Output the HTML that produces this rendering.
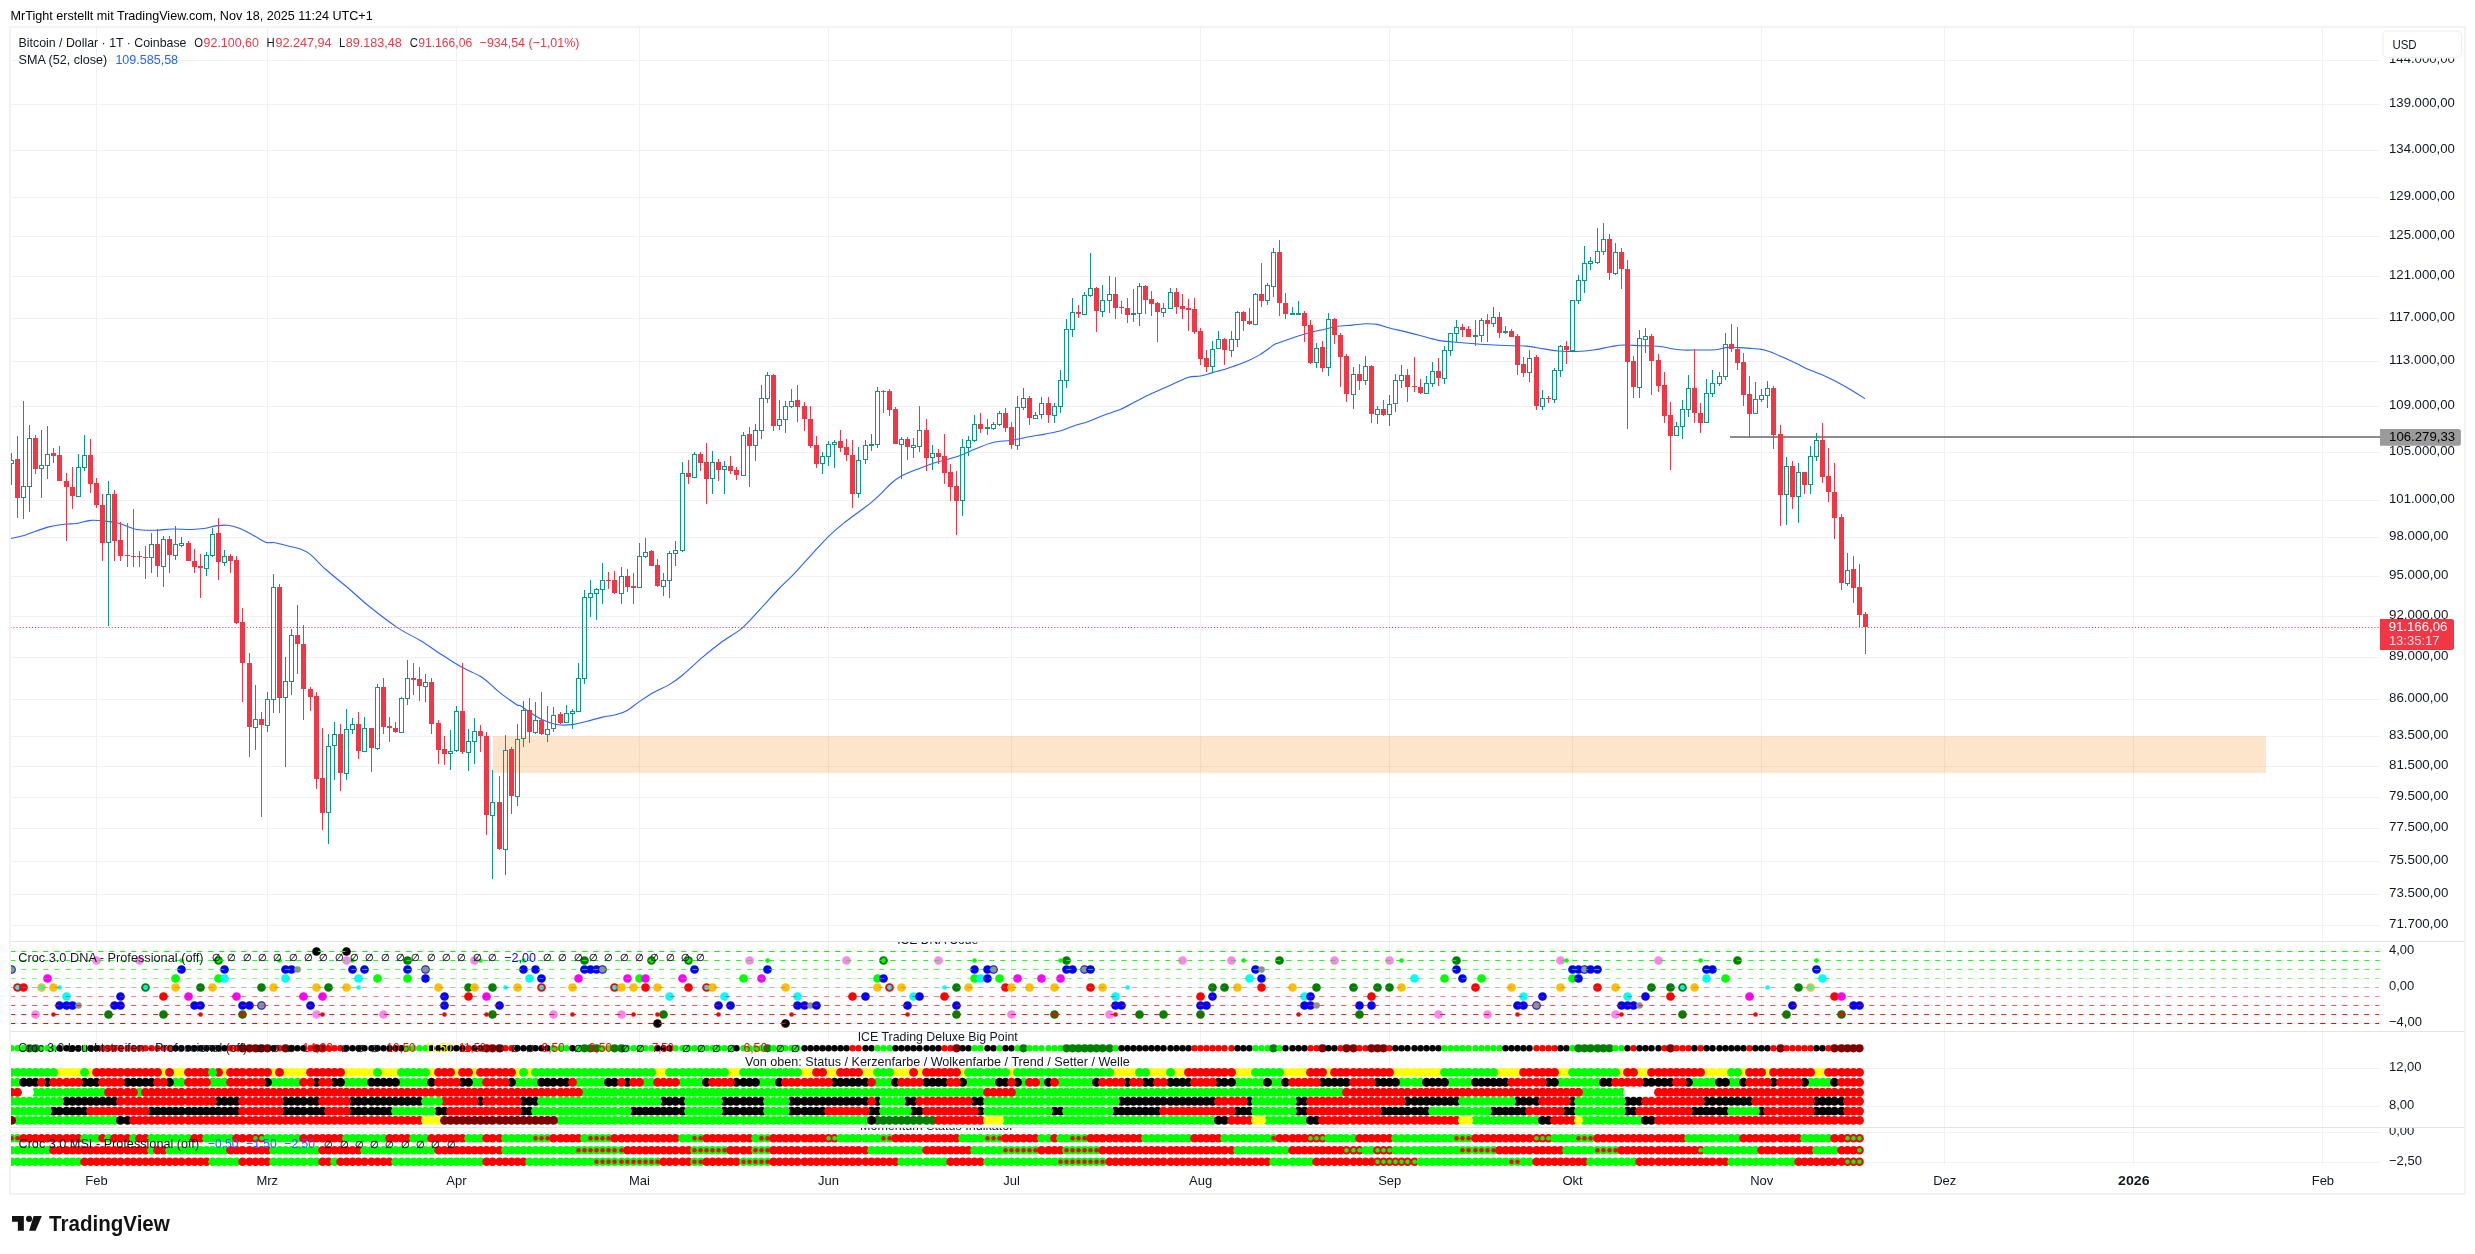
<!DOCTYPE html>
<html><head><meta charset="utf-8"><title>BTCUSD chart</title><style>html,body{margin:0;padding:0;background:#fff}svg{display:block;will-change:transform}</style></head><body>
<svg width="2475" height="1254" viewBox="0 0 2475 1254" font-family='"Liberation Sans", sans-serif' shape-rendering="auto">
<rect width="2475" height="1254" fill="#fff"/>
<defs><clipPath id="cp"><rect x="10.5" y="27.5" width="2368.5" height="1140"/></clipPath>
<clipPath id="p1"><rect x="10.5" y="27.5" width="2454" height="914"/></clipPath>
<clipPath id="p2"><rect x="10.5" y="942" width="2454" height="89"/></clipPath>
<clipPath id="p3"><rect x="10.5" y="1032" width="2454" height="95"/></clipPath>
<clipPath id="p4"><rect x="10.5" y="1128" width="2454" height="38"/></clipPath>
</defs>
<g stroke="#f0f1f3" stroke-width="1" fill="none">
<line x1="96.5" y1="27.5" x2="96.5" y2="1165.5"/>
<line x1="267.5" y1="27.5" x2="267.5" y2="1165.5"/>
<line x1="456.5" y1="27.5" x2="456.5" y2="1165.5"/>
<line x1="639.5" y1="27.5" x2="639.5" y2="1165.5"/>
<line x1="828.5" y1="27.5" x2="828.5" y2="1165.5"/>
<line x1="1011.5" y1="27.5" x2="1011.5" y2="1165.5"/>
<line x1="1200.5" y1="27.5" x2="1200.5" y2="1165.5"/>
<line x1="1389.5" y1="27.5" x2="1389.5" y2="1165.5"/>
<line x1="1572.5" y1="27.5" x2="1572.5" y2="1165.5"/>
<line x1="1761.5" y1="27.5" x2="1761.5" y2="1165.5"/>
<line x1="1944.5" y1="27.5" x2="1944.5" y2="1165.5"/>
<line x1="2133.5" y1="27.5" x2="2133.5" y2="1165.5"/>
<line x1="2322.5" y1="27.5" x2="2322.5" y2="1165.5"/>
<line x1="10.5" y1="60.5" x2="2379" y2="60.5"/>
<line x1="10.5" y1="104.5" x2="2379" y2="104.5"/>
<line x1="10.5" y1="150.5" x2="2379" y2="150.5"/>
<line x1="10.5" y1="197.5" x2="2379" y2="197.5"/>
<line x1="10.5" y1="236.5" x2="2379" y2="236.5"/>
<line x1="10.5" y1="276.5" x2="2379" y2="276.5"/>
<line x1="10.5" y1="318.5" x2="2379" y2="318.5"/>
<line x1="10.5" y1="361.5" x2="2379" y2="361.5"/>
<line x1="10.5" y1="406.5" x2="2379" y2="406.5"/>
<line x1="10.5" y1="452.5" x2="2379" y2="452.5"/>
<line x1="10.5" y1="500.5" x2="2379" y2="500.5"/>
<line x1="10.5" y1="537.5" x2="2379" y2="537.5"/>
<line x1="10.5" y1="576.5" x2="2379" y2="576.5"/>
<line x1="10.5" y1="616.5" x2="2379" y2="616.5"/>
<line x1="10.5" y1="657.5" x2="2379" y2="657.5"/>
<line x1="10.5" y1="699.5" x2="2379" y2="699.5"/>
<line x1="10.5" y1="736.5" x2="2379" y2="736.5"/>
<line x1="10.5" y1="766.5" x2="2379" y2="766.5"/>
<line x1="10.5" y1="797.5" x2="2379" y2="797.5"/>
<line x1="10.5" y1="828.5" x2="2379" y2="828.5"/>
<line x1="10.5" y1="861.5" x2="2379" y2="861.5"/>
<line x1="10.5" y1="894.5" x2="2379" y2="894.5"/>
<line x1="10.5" y1="925.5" x2="2379" y2="925.5"/>
<line x1="10.5" y1="951.5" x2="2379" y2="951.5"/>
<line x1="10.5" y1="987.5" x2="2379" y2="987.5"/>
<line x1="10.5" y1="1023.5" x2="2379" y2="1023.5"/>
<line x1="10.5" y1="1068.5" x2="2379" y2="1068.5"/>
<line x1="10.5" y1="1106.5" x2="2379" y2="1106.5"/>
<line x1="10.5" y1="1132.5" x2="2379" y2="1132.5"/>
<line x1="10.5" y1="1162.5" x2="2379" y2="1162.5"/>
</g>
<g clip-path="url(#p2)">
<circle cx="11.5" cy="969.5" r="4.35" fill="#0000ff"/><circle cx="11.5" cy="969.5" r="3.3" fill="#909090"/>
<circle cx="17.5" cy="987.5" r="4.35" fill="#ff0000"/>
<circle cx="17.5" cy="987.5" r="2.4" fill="#00ffff"/>
<circle cx="23.5" cy="987.5" r="4.35" fill="#ff0000"/>
<circle cx="35.5" cy="1014.5" r="4.35" fill="#ff85ee"/>
<circle cx="41.5" cy="987.5" r="4.35" fill="#ffbf00"/>
<circle cx="41.5" cy="987.5" r="2.4" fill="#00ffff"/>
<circle cx="47.5" cy="978.5" r="4.35" fill="#ff00ff"/>
<circle cx="53.5" cy="987.5" r="4.35" fill="#ffbf00"/>
<circle cx="59.5" cy="1005.5" r="4.35" fill="#0000ff"/>
<circle cx="66.5" cy="996.5" r="4.35" fill="#00ffff"/>
<circle cx="66.5" cy="1005.5" r="4.35" fill="#0000ff"/>
<circle cx="72.5" cy="1005.5" r="4.35" fill="#0000ff"/>
<circle cx="78.5" cy="1005.5" r="3.3" fill="#909090"/>
<circle cx="96.5" cy="960.5" r="4.35" fill="#ff85ee"/>
<circle cx="108.5" cy="1014.5" r="4.35" fill="#008000"/>
<circle cx="114.5" cy="1005.5" r="4.35" fill="#0000ff"/>
<circle cx="120.5" cy="996.5" r="4.35" fill="#0000ff"/>
<circle cx="120.5" cy="1005.5" r="4.35" fill="#0000ff"/>
<circle cx="139.5" cy="960.5" r="4.35" fill="#ff85ee"/>
<circle cx="145.5" cy="987.5" r="4.35" fill="#008000"/>
<circle cx="145.5" cy="987.5" r="2.4" fill="#00ffff"/>
<circle cx="163.5" cy="996.5" r="4.35" fill="#ff0000"/>
<circle cx="163.5" cy="1014.5" r="4.35" fill="#008000"/>
<circle cx="175.5" cy="978.5" r="4.35" fill="#00ff00"/>
<circle cx="175.5" cy="987.5" r="4.35" fill="#ffbf00"/>
<circle cx="181.5" cy="969.5" r="4.35" fill="#0000ff"/>
<circle cx="188.5" cy="996.5" r="4.35" fill="#ff00ff"/>
<circle cx="194.5" cy="1005.5" r="4.35" fill="#0000ff"/>
<circle cx="200.5" cy="987.5" r="4.35" fill="#008000"/>
<circle cx="200.5" cy="1005.5" r="4.35" fill="#0000ff"/>
<circle cx="212.5" cy="987.5" r="4.35" fill="#ffbf00"/>
<circle cx="218.5" cy="978.5" r="4.35" fill="#00ff00"/>
<circle cx="218.5" cy="960.5" r="4.35" fill="#008000"/>
<circle cx="218.5" cy="960.5" r="2.4" fill="#00ff00"/>
<circle cx="224.5" cy="969.5" r="4.35" fill="#0000ff"/>
<circle cx="224.5" cy="978.5" r="4.35" fill="#00ffff"/>
<circle cx="236.5" cy="996.5" r="4.35" fill="#ff00ff"/>
<circle cx="242.5" cy="1005.5" r="4.35" fill="#0000ff"/>
<circle cx="242.5" cy="1014.5" r="4.35" fill="#008000"/>
<circle cx="242.5" cy="1014.5" r="2.4" fill="#ff0000"/>
<circle cx="249.5" cy="1005.5" r="4.35" fill="#0000ff"/>
<circle cx="261.5" cy="987.5" r="4.35" fill="#008000"/>
<circle cx="261.5" cy="1005.5" r="4.35" fill="#0000ff"/><circle cx="261.5" cy="1005.5" r="3.3" fill="#909090"/>
<circle cx="273.5" cy="987.5" r="4.35" fill="#ffbf00"/>
<circle cx="285.5" cy="969.5" r="4.35" fill="#0000ff"/>
<circle cx="285.5" cy="978.5" r="4.35" fill="#00ffff"/>
<circle cx="291.5" cy="969.5" r="4.35" fill="#0000ff"/>
<circle cx="297.5" cy="969.5" r="3.3" fill="#909090"/>
<circle cx="303.5" cy="996.5" r="4.35" fill="#ff00ff"/>
<circle cx="310.5" cy="1005.5" r="4.35" fill="#0000ff"/>
<circle cx="316.5" cy="951.5" r="4.35" fill="#000000"/>
<circle cx="316.5" cy="987.5" r="4.35" fill="#ffbf00"/>
<circle cx="316.5" cy="1014.5" r="4.35" fill="#ff85ee"/>
<circle cx="322.5" cy="996.5" r="4.35" fill="#ff00ff"/>
<circle cx="328.5" cy="987.5" r="4.35" fill="#008000"/>
<circle cx="346.5" cy="951.5" r="4.35" fill="#000000"/>
<circle cx="346.5" cy="960.5" r="4.35" fill="#ff85ee"/>
<circle cx="346.5" cy="987.5" r="4.35" fill="#ffbf00"/>
<circle cx="352.5" cy="969.5" r="4.35" fill="#0000ff"/>
<circle cx="358.5" cy="978.5" r="4.35" fill="#00ffff"/>
<circle cx="364.5" cy="969.5" r="4.35" fill="#0000ff"/>
<circle cx="377.5" cy="978.5" r="4.35" fill="#00ff00"/>
<circle cx="383.5" cy="1014.5" r="4.35" fill="#ff85ee"/>
<circle cx="407.5" cy="960.5" r="4.35" fill="#008000"/>
<circle cx="407.5" cy="969.5" r="4.35" fill="#0000ff"/>
<circle cx="407.5" cy="978.5" r="4.35" fill="#00ff00"/>
<circle cx="425.5" cy="969.5" r="4.35" fill="#0000ff"/><circle cx="425.5" cy="969.5" r="3.3" fill="#909090"/>
<circle cx="425.5" cy="978.5" r="4.35" fill="#0000ff"/>
<circle cx="438.5" cy="987.5" r="4.35" fill="#ffbf00"/>
<circle cx="444.5" cy="996.5" r="4.35" fill="#0000ff"/>
<circle cx="444.5" cy="1005.5" r="4.35" fill="#0000ff"/>
<circle cx="468.5" cy="987.5" r="4.35" fill="#008000"/>
<circle cx="468.5" cy="996.5" r="4.35" fill="#ff0000"/>
<circle cx="474.5" cy="960.5" r="4.35" fill="#ff85ee"/>
<circle cx="474.5" cy="987.5" r="4.35" fill="#ffbf00"/>
<circle cx="486.5" cy="996.5" r="4.35" fill="#ff00ff"/>
<circle cx="492.5" cy="987.5" r="4.35" fill="#008000"/>
<circle cx="492.5" cy="1014.5" r="4.35" fill="#008000"/>
<circle cx="499.5" cy="1005.5" r="4.35" fill="#0000ff"/>
<circle cx="517.5" cy="987.5" r="4.35" fill="#ffbf00"/>
<circle cx="523.5" cy="969.5" r="4.35" fill="#0000ff"/>
<circle cx="529.5" cy="978.5" r="4.35" fill="#00ffff"/>
<circle cx="535.5" cy="969.5" r="4.35" fill="#0000ff"/>
<circle cx="541.5" cy="978.5" r="4.35" fill="#0000ff"/>
<circle cx="541.5" cy="987.5" r="4.35" fill="#ff0000"/>
<circle cx="541.5" cy="987.5" r="2.4" fill="#00ffff"/>
<circle cx="553.5" cy="1014.5" r="4.35" fill="#ff85ee"/>
<circle cx="572.5" cy="987.5" r="4.35" fill="#ffbf00"/>
<circle cx="578.5" cy="978.5" r="4.35" fill="#ff00ff"/>
<circle cx="584.5" cy="960.5" r="4.35" fill="#008000"/>
<circle cx="584.5" cy="969.5" r="4.35" fill="#0000ff"/>
<circle cx="590.5" cy="969.5" r="4.35" fill="#0000ff"/>
<circle cx="596.5" cy="969.5" r="4.35" fill="#0000ff"/>
<circle cx="602.5" cy="969.5" r="4.35" fill="#0000ff"/><circle cx="602.5" cy="969.5" r="3.3" fill="#909090"/>
<circle cx="614.5" cy="987.5" r="4.35" fill="#ff0000"/>
<circle cx="614.5" cy="987.5" r="2.4" fill="#00ffff"/>
<circle cx="621.5" cy="987.5" r="4.35" fill="#ffbf00"/>
<circle cx="621.5" cy="1014.5" r="4.35" fill="#ff85ee"/>
<circle cx="627.5" cy="978.5" r="4.35" fill="#ff00ff"/>
<circle cx="633.5" cy="987.5" r="4.35" fill="#ffbf00"/>
<circle cx="639.5" cy="978.5" r="4.35" fill="#00ff00"/>
<circle cx="645.5" cy="978.5" r="4.35" fill="#ff00ff"/>
<circle cx="645.5" cy="987.5" r="4.35" fill="#ff0000"/>
<circle cx="651.5" cy="960.5" r="4.35" fill="#008000"/>
<circle cx="651.5" cy="960.5" r="2.4" fill="#00ff00"/>
<circle cx="657.5" cy="987.5" r="4.35" fill="#ffbf00"/>
<circle cx="657.5" cy="1023.5" r="4.35" fill="#000000"/>
<circle cx="663.5" cy="1014.5" r="4.35" fill="#008000"/>
<circle cx="669.5" cy="996.5" r="4.35" fill="#00ffff"/>
<circle cx="682.5" cy="978.5" r="4.35" fill="#ff00ff"/>
<circle cx="688.5" cy="960.5" r="4.35" fill="#008000"/>
<circle cx="688.5" cy="960.5" r="2.4" fill="#00ff00"/>
<circle cx="688.5" cy="987.5" r="4.35" fill="#ff0000"/>
<circle cx="694.5" cy="969.5" r="4.35" fill="#0000ff"/>
<circle cx="706.5" cy="987.5" r="4.35" fill="#ff0000"/>
<circle cx="706.5" cy="987.5" r="2.4" fill="#00ffff"/>
<circle cx="712.5" cy="987.5" r="4.35" fill="#ffbf00"/>
<circle cx="718.5" cy="1005.5" r="4.35" fill="#0000ff"/>
<circle cx="724.5" cy="996.5" r="4.35" fill="#00ffff"/>
<circle cx="730.5" cy="1005.5" r="4.35" fill="#0000ff"/>
<circle cx="743.5" cy="978.5" r="4.35" fill="#00ff00"/>
<circle cx="749.5" cy="960.5" r="4.35" fill="#ff85ee"/>
<circle cx="761.5" cy="978.5" r="4.35" fill="#ff00ff"/>
<circle cx="767.5" cy="969.5" r="4.35" fill="#0000ff"/>
<circle cx="785.5" cy="987.5" r="4.35" fill="#ffbf00"/>
<circle cx="785.5" cy="1023.5" r="4.35" fill="#000000"/>
<circle cx="797.5" cy="996.5" r="4.35" fill="#00ffff"/>
<circle cx="797.5" cy="1005.5" r="4.35" fill="#0000ff"/>
<circle cx="804.5" cy="1005.5" r="4.35" fill="#0000ff"/>
<circle cx="810.5" cy="1005.5" r="3.3" fill="#909090"/>
<circle cx="816.5" cy="1005.5" r="4.35" fill="#0000ff"/>
<circle cx="846.5" cy="960.5" r="4.35" fill="#ff85ee"/>
<circle cx="852.5" cy="996.5" r="4.35" fill="#ff0000"/>
<circle cx="865.5" cy="996.5" r="4.35" fill="#0000ff"/>
<circle cx="877.5" cy="978.5" r="4.35" fill="#00ff00"/>
<circle cx="877.5" cy="987.5" r="4.35" fill="#ffbf00"/>
<circle cx="883.5" cy="960.5" r="4.35" fill="#008000"/>
<circle cx="883.5" cy="960.5" r="2.4" fill="#00ff00"/>
<circle cx="883.5" cy="978.5" r="4.35" fill="#0000ff"/>
<circle cx="889.5" cy="987.5" r="4.35" fill="#ff0000"/>
<circle cx="889.5" cy="987.5" r="2.4" fill="#00ffff"/>
<circle cx="901.5" cy="987.5" r="4.35" fill="#ffbf00"/>
<circle cx="907.5" cy="1005.5" r="4.35" fill="#0000ff"/>
<circle cx="913.5" cy="996.5" r="4.35" fill="#00ffff"/>
<circle cx="919.5" cy="996.5" r="4.35" fill="#0000ff"/>
<circle cx="938.5" cy="960.5" r="4.35" fill="#ff85ee"/>
<circle cx="944.5" cy="996.5" r="4.35" fill="#ff0000"/>
<circle cx="956.5" cy="987.5" r="4.35" fill="#008000"/>
<circle cx="956.5" cy="1005.5" r="4.35" fill="#0000ff"/>
<circle cx="956.5" cy="1014.5" r="4.35" fill="#008000"/>
<circle cx="968.5" cy="987.5" r="4.35" fill="#ffbf00"/>
<circle cx="974.5" cy="969.5" r="4.35" fill="#0000ff"/>
<circle cx="974.5" cy="978.5" r="4.35" fill="#00ff00"/>
<circle cx="980.5" cy="978.5" r="4.35" fill="#00ffff"/>
<circle cx="987.5" cy="969.5" r="4.35" fill="#0000ff"/>
<circle cx="987.5" cy="978.5" r="4.35" fill="#0000ff"/>
<circle cx="993.5" cy="969.5" r="4.35" fill="#0000ff"/><circle cx="993.5" cy="969.5" r="3.3" fill="#909090"/>
<circle cx="999.5" cy="978.5" r="4.35" fill="#00ff00"/>
<circle cx="1005.5" cy="987.5" r="4.35" fill="#ff0000"/>
<circle cx="1011.5" cy="987.5" r="4.35" fill="#ffbf00"/>
<circle cx="1011.5" cy="1014.5" r="4.35" fill="#ff85ee"/>
<circle cx="1017.5" cy="978.5" r="4.35" fill="#ff00ff"/>
<circle cx="1029.5" cy="987.5" r="4.35" fill="#ffbf00"/>
<circle cx="1041.5" cy="978.5" r="4.35" fill="#ff00ff"/>
<circle cx="1054.5" cy="987.5" r="4.35" fill="#ffbf00"/>
<circle cx="1054.5" cy="1014.5" r="4.35" fill="#008000"/>
<circle cx="1054.5" cy="1014.5" r="2.4" fill="#ff0000"/>
<circle cx="1060.5" cy="978.5" r="4.35" fill="#ff00ff"/>
<circle cx="1066.5" cy="960.5" r="4.35" fill="#008000"/>
<circle cx="1066.5" cy="969.5" r="4.35" fill="#0000ff"/>
<circle cx="1072.5" cy="969.5" r="4.35" fill="#0000ff"/>
<circle cx="1084.5" cy="969.5" r="4.35" fill="#0000ff"/><circle cx="1084.5" cy="969.5" r="3.3" fill="#909090"/>
<circle cx="1090.5" cy="969.5" r="4.35" fill="#0000ff"/>
<circle cx="1090.5" cy="987.5" r="4.35" fill="#ff0000"/>
<circle cx="1102.5" cy="987.5" r="4.35" fill="#ffbf00"/>
<circle cx="1109.5" cy="1014.5" r="4.35" fill="#ff85ee"/>
<circle cx="1115.5" cy="996.5" r="4.35" fill="#00ffff"/>
<circle cx="1115.5" cy="1005.5" r="4.35" fill="#0000ff"/>
<circle cx="1121.5" cy="1005.5" r="4.35" fill="#0000ff"/>
<circle cx="1139.5" cy="1014.5" r="4.35" fill="#008000"/>
<circle cx="1163.5" cy="1014.5" r="4.35" fill="#008000"/>
<circle cx="1182.5" cy="960.5" r="4.35" fill="#ff85ee"/>
<circle cx="1200.5" cy="996.5" r="4.35" fill="#ff0000"/>
<circle cx="1200.5" cy="1005.5" r="4.35" fill="#0000ff"/>
<circle cx="1200.5" cy="1014.5" r="4.35" fill="#008000"/>
<circle cx="1206.5" cy="1005.5" r="4.35" fill="#0000ff"/>
<circle cx="1212.5" cy="987.5" r="4.35" fill="#008000"/>
<circle cx="1212.5" cy="996.5" r="4.35" fill="#0000ff"/>
<circle cx="1224.5" cy="987.5" r="4.35" fill="#008000"/>
<circle cx="1231.5" cy="960.5" r="4.35" fill="#ff85ee"/>
<circle cx="1237.5" cy="987.5" r="4.35" fill="#ffbf00"/>
<circle cx="1249.5" cy="978.5" r="4.35" fill="#00ffff"/>
<circle cx="1255.5" cy="969.5" r="4.35" fill="#0000ff"/>
<circle cx="1261.5" cy="969.5" r="3.3" fill="#909090"/>
<circle cx="1261.5" cy="978.5" r="4.35" fill="#0000ff"/>
<circle cx="1261.5" cy="987.5" r="4.35" fill="#ff0000"/>
<circle cx="1279.5" cy="960.5" r="4.35" fill="#008000"/>
<circle cx="1292.5" cy="987.5" r="4.35" fill="#ffbf00"/>
<circle cx="1304.5" cy="996.5" r="4.35" fill="#00ffff"/>
<circle cx="1304.5" cy="1005.5" r="4.35" fill="#0000ff"/>
<circle cx="1310.5" cy="996.5" r="4.35" fill="#0000ff"/>
<circle cx="1310.5" cy="1005.5" r="4.35" fill="#0000ff"/>
<circle cx="1316.5" cy="987.5" r="4.35" fill="#008000"/>
<circle cx="1316.5" cy="1005.5" r="3.3" fill="#909090"/>
<circle cx="1334.5" cy="960.5" r="4.35" fill="#ff85ee"/>
<circle cx="1353.5" cy="987.5" r="4.35" fill="#008000"/>
<circle cx="1359.5" cy="1005.5" r="4.35" fill="#0000ff"/>
<circle cx="1359.5" cy="1014.5" r="4.35" fill="#008000"/>
<circle cx="1371.5" cy="996.5" r="4.35" fill="#ff0000"/>
<circle cx="1371.5" cy="1005.5" r="4.35" fill="#0000ff"/>
<circle cx="1377.5" cy="987.5" r="4.35" fill="#008000"/>
<circle cx="1389.5" cy="960.5" r="4.35" fill="#ff85ee"/>
<circle cx="1389.5" cy="987.5" r="4.35" fill="#008000"/>
<circle cx="1401.5" cy="987.5" r="4.35" fill="#ffbf00"/>
<circle cx="1414.5" cy="978.5" r="4.35" fill="#00ffff"/>
<circle cx="1438.5" cy="1014.5" r="4.35" fill="#ff85ee"/>
<circle cx="1444.5" cy="978.5" r="4.35" fill="#00ff00"/>
<circle cx="1456.5" cy="960.5" r="4.35" fill="#008000"/>
<circle cx="1456.5" cy="969.5" r="4.35" fill="#0000ff"/>
<circle cx="1462.5" cy="978.5" r="4.35" fill="#0000ff"/>
<circle cx="1475.5" cy="987.5" r="4.35" fill="#ff0000"/>
<circle cx="1481.5" cy="978.5" r="4.35" fill="#00ff00"/>
<circle cx="1487.5" cy="1014.5" r="4.35" fill="#ff85ee"/>
<circle cx="1511.5" cy="987.5" r="4.35" fill="#ffbf00"/>
<circle cx="1517.5" cy="1005.5" r="4.35" fill="#0000ff"/>
<circle cx="1523.5" cy="996.5" r="4.35" fill="#00ffff"/>
<circle cx="1523.5" cy="1005.5" r="4.35" fill="#0000ff"/>
<circle cx="1536.5" cy="1005.5" r="4.35" fill="#0000ff"/><circle cx="1536.5" cy="1005.5" r="3.3" fill="#909090"/>
<circle cx="1542.5" cy="996.5" r="4.35" fill="#0000ff"/>
<circle cx="1560.5" cy="960.5" r="4.35" fill="#ff85ee"/>
<circle cx="1560.5" cy="987.5" r="4.35" fill="#ffbf00"/>
<circle cx="1572.5" cy="969.5" r="4.35" fill="#0000ff"/>
<circle cx="1572.5" cy="978.5" r="4.35" fill="#00ff00"/>
<circle cx="1578.5" cy="969.5" r="4.35" fill="#0000ff"/>
<circle cx="1578.5" cy="978.5" r="4.35" fill="#0000ff"/>
<circle cx="1584.5" cy="969.5" r="4.35" fill="#0000ff"/><circle cx="1584.5" cy="969.5" r="3.3" fill="#909090"/>
<circle cx="1590.5" cy="969.5" r="4.35" fill="#0000ff"/>
<circle cx="1597.5" cy="969.5" r="4.35" fill="#0000ff"/>
<circle cx="1597.5" cy="987.5" r="4.35" fill="#ff0000"/>
<circle cx="1615.5" cy="987.5" r="4.35" fill="#ffbf00"/>
<circle cx="1615.5" cy="1014.5" r="4.35" fill="#ff85ee"/>
<circle cx="1621.5" cy="1005.5" r="4.35" fill="#0000ff"/>
<circle cx="1627.5" cy="996.5" r="4.35" fill="#00ffff"/>
<circle cx="1627.5" cy="1005.5" r="4.35" fill="#0000ff"/>
<circle cx="1633.5" cy="1005.5" r="4.35" fill="#0000ff"/>
<circle cx="1639.5" cy="1005.5" r="3.3" fill="#909090"/>
<circle cx="1645.5" cy="996.5" r="4.35" fill="#0000ff"/>
<circle cx="1651.5" cy="987.5" r="4.35" fill="#008000"/>
<circle cx="1658.5" cy="960.5" r="4.35" fill="#ff85ee"/>
<circle cx="1670.5" cy="987.5" r="4.35" fill="#008000"/>
<circle cx="1670.5" cy="996.5" r="4.35" fill="#ff0000"/>
<circle cx="1682.5" cy="987.5" r="4.35" fill="#008000"/>
<circle cx="1682.5" cy="987.5" r="2.4" fill="#00ffff"/>
<circle cx="1682.5" cy="1014.5" r="4.35" fill="#008000"/>
<circle cx="1694.5" cy="987.5" r="4.35" fill="#ffbf00"/>
<circle cx="1706.5" cy="969.5" r="4.35" fill="#0000ff"/>
<circle cx="1706.5" cy="978.5" r="4.35" fill="#00ffff"/>
<circle cx="1712.5" cy="969.5" r="4.35" fill="#0000ff"/>
<circle cx="1725.5" cy="978.5" r="4.35" fill="#00ff00"/>
<circle cx="1737.5" cy="960.5" r="4.35" fill="#008000"/>
<circle cx="1749.5" cy="996.5" r="4.35" fill="#ff00ff"/>
<circle cx="1786.5" cy="1014.5" r="4.35" fill="#008000"/>
<circle cx="1792.5" cy="1005.5" r="4.35" fill="#0000ff"/>
<circle cx="1798.5" cy="987.5" r="4.35" fill="#008000"/>
<circle cx="1810.5" cy="987.5" r="4.35" fill="#ffbf00"/>
<circle cx="1810.5" cy="987.5" r="2.4" fill="#00ffff"/>
<circle cx="1816.5" cy="969.5" r="4.35" fill="#0000ff"/>
<circle cx="1822.5" cy="978.5" r="4.35" fill="#00ffff"/>
<circle cx="1834.5" cy="996.5" r="4.35" fill="#ff0000"/>
<circle cx="1841.5" cy="996.5" r="4.35" fill="#ff00ff"/>
<circle cx="1841.5" cy="1014.5" r="4.35" fill="#008000"/>
<circle cx="1841.5" cy="1014.5" r="2.4" fill="#ff0000"/>
<circle cx="1853.5" cy="1005.5" r="4.35" fill="#0000ff"/>
<circle cx="1859.5" cy="1005.5" r="4.35" fill="#0000ff"/>
<circle cx="53.5" cy="1014.5" r="2.3" fill="#ff0000"/>
<circle cx="59.5" cy="987.5" r="2.3" fill="#00ffff"/>
<circle cx="181.5" cy="960.5" r="2.3" fill="#00ff00"/>
<circle cx="200.5" cy="1014.5" r="2.3" fill="#ff0000"/>
<circle cx="279.5" cy="960.5" r="2.3" fill="#00ff00"/>
<circle cx="322.5" cy="1014.5" r="2.3" fill="#ff0000"/>
<circle cx="352.5" cy="960.5" r="2.3" fill="#00ff00"/>
<circle cx="358.5" cy="987.5" r="2.3" fill="#00ffff"/>
<circle cx="444.5" cy="1014.5" r="2.3" fill="#ff0000"/>
<circle cx="480.5" cy="960.5" r="2.3" fill="#00ff00"/>
<circle cx="486.5" cy="1014.5" r="2.3" fill="#ff0000"/>
<circle cx="505.5" cy="987.5" r="2.3" fill="#00ffff"/>
<circle cx="523.5" cy="960.5" r="2.3" fill="#00ff00"/>
<circle cx="572.5" cy="1014.5" r="2.3" fill="#ff0000"/>
<circle cx="633.5" cy="1014.5" r="2.3" fill="#ff0000"/>
<circle cx="657.5" cy="1014.5" r="2.3" fill="#ff0000"/>
<circle cx="718.5" cy="1014.5" r="2.3" fill="#ff0000"/>
<circle cx="767.5" cy="960.5" r="2.3" fill="#00ff00"/>
<circle cx="791.5" cy="1014.5" r="2.3" fill="#ff0000"/>
<circle cx="907.5" cy="1014.5" r="2.3" fill="#ff0000"/>
<circle cx="944.5" cy="987.5" r="2.3" fill="#00ffff"/>
<circle cx="974.5" cy="960.5" r="2.3" fill="#00ff00"/>
<circle cx="1060.5" cy="960.5" r="2.3" fill="#00ff00"/>
<circle cx="1115.5" cy="1014.5" r="2.3" fill="#ff0000"/>
<circle cx="1127.5" cy="987.5" r="2.3" fill="#00ffff"/>
<circle cx="1243.5" cy="960.5" r="2.3" fill="#00ff00"/>
<circle cx="1298.5" cy="1014.5" r="2.3" fill="#ff0000"/>
<circle cx="1401.5" cy="960.5" r="2.3" fill="#00ff00"/>
<circle cx="1517.5" cy="1014.5" r="2.3" fill="#ff0000"/>
<circle cx="1566.5" cy="960.5" r="2.3" fill="#00ff00"/>
<circle cx="1621.5" cy="1014.5" r="2.3" fill="#ff0000"/>
<circle cx="1700.5" cy="960.5" r="2.3" fill="#00ff00"/>
<circle cx="1755.5" cy="1014.5" r="2.3" fill="#ff0000"/>
<circle cx="1767.5" cy="987.5" r="2.3" fill="#00ffff"/>
<circle cx="1816.5" cy="960.5" r="2.3" fill="#00ff00"/>
<line x1="10.2" y1="951.5" x2="2379" y2="951.5" stroke="#00ff00" stroke-opacity="1" stroke-width="1.1" stroke-dasharray="5 6"/>
<line x1="10.2" y1="960.5" x2="2379" y2="960.5" stroke="#00ff00" stroke-opacity="0.9" stroke-width="1.1" stroke-dasharray="5 6"/>
<line x1="10.2" y1="969.5" x2="2379" y2="969.5" stroke="#00ff00" stroke-opacity="0.7" stroke-width="1.1" stroke-dasharray="5 6"/>
<line x1="10.2" y1="978.5" x2="2379" y2="978.5" stroke="#00ff00" stroke-opacity="0.5" stroke-width="1.1" stroke-dasharray="5 6"/>
<line x1="10.2" y1="987.5" x2="2379" y2="987.5" stroke="#808080" stroke-opacity="0.5" stroke-width="1.1" stroke-dasharray="5 6"/>
<line x1="10.2" y1="996.5" x2="2379" y2="996.5" stroke="#ff0000" stroke-opacity="0.5" stroke-width="1.1" stroke-dasharray="5 6"/>
<line x1="10.2" y1="1005.5" x2="2379" y2="1005.5" stroke="#ff0000" stroke-opacity="0.7" stroke-width="1.1" stroke-dasharray="5 6"/>
<line x1="10.2" y1="1014.5" x2="2379" y2="1014.5" stroke="#ff0000" stroke-opacity="0.9" stroke-width="1.1" stroke-dasharray="5 6"/>
<line x1="10.2" y1="1023.5" x2="2379" y2="1023.5" stroke="#ff0000" stroke-opacity="1" stroke-width="1.1" stroke-dasharray="5 6"/>
</g>
<g clip-path="url(#p3)">
<circle cx="11.5" cy="1048.3" r="3.2" fill="#00ff00"/>
<circle cx="17.5" cy="1048.3" r="3.2" fill="#00ff00"/>
<circle cx="23.5" cy="1048.3" r="3.2" fill="#00ff00"/>
<circle cx="29.5" cy="1048.3" r="4.1" fill="#008000"/>
<circle cx="35.5" cy="1048.3" r="4.1" fill="#008000"/>
<circle cx="41.5" cy="1048.3" r="3.2" fill="#00ff00"/>
<circle cx="47.5" cy="1048.3" r="3.2" fill="#00ff00"/>
<circle cx="53.5" cy="1048.3" r="3.2" fill="#00ff00"/>
<circle cx="59.5" cy="1048.3" r="3.2" fill="#000000"/>
<circle cx="66.5" cy="1048.3" r="3.2" fill="#000000"/>
<circle cx="72.5" cy="1048.3" r="3.2" fill="#000000"/>
<circle cx="78.5" cy="1048.3" r="3.2" fill="#000000"/>
<circle cx="84.5" cy="1048.3" r="3.2" fill="#00ff00"/>
<circle cx="90.5" cy="1048.3" r="3.2" fill="#000000"/>
<circle cx="96.5" cy="1048.3" r="3.2" fill="#000000"/>
<circle cx="102.5" cy="1048.3" r="3.2" fill="#ff0000"/>
<circle cx="108.5" cy="1048.3" r="3.2" fill="#ff0000"/>
<circle cx="114.5" cy="1048.3" r="3.2" fill="#ff0000"/>
<circle cx="120.5" cy="1048.3" r="3.2" fill="#ff0000"/>
<circle cx="127.5" cy="1048.3" r="3.2" fill="#ff0000"/>
<circle cx="133.5" cy="1048.3" r="3.2" fill="#ff0000"/>
<circle cx="139.5" cy="1048.3" r="3.2" fill="#ff0000"/>
<circle cx="145.5" cy="1048.3" r="3.2" fill="#ff0000"/>
<circle cx="151.5" cy="1048.3" r="3.2" fill="#ff0000"/>
<circle cx="157.5" cy="1048.3" r="3.2" fill="#ff0000"/>
<circle cx="163.5" cy="1048.3" r="3.2" fill="#ff0000"/>
<circle cx="169.5" cy="1048.3" r="3.2" fill="#ff0000"/>
<circle cx="175.5" cy="1048.3" r="3.2" fill="#000000"/>
<circle cx="181.5" cy="1048.3" r="3.2" fill="#000000"/>
<circle cx="188.5" cy="1048.3" r="3.2" fill="#000000"/>
<circle cx="194.5" cy="1048.3" r="3.2" fill="#000000"/>
<circle cx="200.5" cy="1048.3" r="3.2" fill="#000000"/>
<circle cx="206.5" cy="1048.3" r="3.2" fill="#000000"/>
<circle cx="212.5" cy="1048.3" r="3.2" fill="#000000"/>
<circle cx="218.5" cy="1048.3" r="3.2" fill="#000000"/>
<circle cx="224.5" cy="1048.3" r="3.2" fill="#000000"/>
<circle cx="230.5" cy="1048.3" r="3.2" fill="#ff0000"/>
<circle cx="236.5" cy="1048.3" r="3.2" fill="#ff0000"/>
<circle cx="242.5" cy="1048.3" r="4.1" fill="#800000"/>
<circle cx="249.5" cy="1048.3" r="4.1" fill="#800000"/>
<circle cx="255.5" cy="1048.3" r="4.1" fill="#800000"/>
<circle cx="261.5" cy="1048.3" r="4.1" fill="#800000"/>
<circle cx="267.5" cy="1048.3" r="4.1" fill="#800000"/>
<circle cx="273.5" cy="1048.3" r="3.2" fill="#000000"/>
<circle cx="279.5" cy="1048.3" r="3.2" fill="#ff0000"/>
<circle cx="285.5" cy="1048.3" r="4.1" fill="#800000"/>
<circle cx="291.5" cy="1048.3" r="3.2" fill="#000000"/>
<circle cx="297.5" cy="1048.3" r="3.2" fill="#000000"/>
<circle cx="303.5" cy="1048.3" r="3.2" fill="#000000"/>
<circle cx="310.5" cy="1048.3" r="3.2" fill="#ff0000"/>
<circle cx="316.5" cy="1048.3" r="4.1" fill="#800000"/>
<circle cx="322.5" cy="1048.3" r="4.1" fill="#800000"/>
<circle cx="328.5" cy="1048.3" r="3.2" fill="#ff0000"/>
<circle cx="334.5" cy="1048.3" r="3.2" fill="#ff0000"/>
<circle cx="340.5" cy="1048.3" r="3.2" fill="#ff0000"/>
<circle cx="346.5" cy="1048.3" r="3.2" fill="#000000"/>
<circle cx="352.5" cy="1048.3" r="3.2" fill="#000000"/>
<circle cx="358.5" cy="1048.3" r="3.2" fill="#000000"/>
<circle cx="364.5" cy="1048.3" r="3.2" fill="#000000"/>
<circle cx="371.5" cy="1048.3" r="3.2" fill="#000000"/>
<circle cx="377.5" cy="1048.3" r="3.2" fill="#000000"/>
<circle cx="383.5" cy="1048.3" r="3.2" fill="#000000"/>
<circle cx="389.5" cy="1048.3" r="3.2" fill="#000000"/>
<circle cx="395.5" cy="1048.3" r="3.2" fill="#000000"/>
<circle cx="401.5" cy="1048.3" r="3.2" fill="#000000"/>
<circle cx="407.5" cy="1048.3" r="3.2" fill="#00ff00"/>
<circle cx="413.5" cy="1048.3" r="3.2" fill="#00ff00"/>
<circle cx="419.5" cy="1048.3" r="3.2" fill="#00ff00"/>
<circle cx="425.5" cy="1048.3" r="3.2" fill="#00ff00"/>
<circle cx="431.5" cy="1048.3" r="3.2" fill="#000000"/>
<circle cx="438.5" cy="1048.3" r="3.2" fill="#000000"/>
<circle cx="444.5" cy="1048.3" r="3.2" fill="#000000"/>
<circle cx="450.5" cy="1048.3" r="3.2" fill="#000000"/>
<circle cx="456.5" cy="1048.3" r="3.2" fill="#000000"/>
<circle cx="462.5" cy="1048.3" r="3.2" fill="#000000"/>
<circle cx="468.5" cy="1048.3" r="3.2" fill="#ff0000"/>
<circle cx="474.5" cy="1048.3" r="3.2" fill="#000000"/>
<circle cx="480.5" cy="1048.3" r="3.2" fill="#000000"/>
<circle cx="486.5" cy="1048.3" r="4.1" fill="#800000"/>
<circle cx="492.5" cy="1048.3" r="4.1" fill="#800000"/>
<circle cx="499.5" cy="1048.3" r="4.1" fill="#800000"/>
<circle cx="505.5" cy="1048.3" r="3.2" fill="#ff0000"/>
<circle cx="511.5" cy="1048.3" r="3.2" fill="#ff0000"/>
<circle cx="517.5" cy="1048.3" r="3.2" fill="#000000"/>
<circle cx="523.5" cy="1048.3" r="3.2" fill="#000000"/>
<circle cx="529.5" cy="1048.3" r="3.2" fill="#000000"/>
<circle cx="535.5" cy="1048.3" r="3.2" fill="#000000"/>
<circle cx="541.5" cy="1048.3" r="3.2" fill="#000000"/>
<circle cx="547.5" cy="1048.3" r="3.2" fill="#000000"/>
<circle cx="553.5" cy="1048.3" r="3.2" fill="#00ff00"/>
<circle cx="560.5" cy="1048.3" r="3.2" fill="#00ff00"/>
<circle cx="566.5" cy="1048.3" r="3.2" fill="#00ff00"/>
<circle cx="572.5" cy="1048.3" r="3.2" fill="#000000"/>
<circle cx="578.5" cy="1048.3" r="3.2" fill="#00ff00"/>
<circle cx="584.5" cy="1048.3" r="4.1" fill="#008000"/>
<circle cx="590.5" cy="1048.3" r="4.1" fill="#008000"/>
<circle cx="596.5" cy="1048.3" r="4.1" fill="#008000"/>
<circle cx="602.5" cy="1048.3" r="3.2" fill="#00ff00"/>
<circle cx="608.5" cy="1048.3" r="3.2" fill="#00ff00"/>
<circle cx="614.5" cy="1048.3" r="4.1" fill="#008000"/>
<circle cx="621.5" cy="1048.3" r="4.1" fill="#008000"/>
<circle cx="627.5" cy="1048.3" r="3.2" fill="#00ff00"/>
<circle cx="633.5" cy="1048.3" r="3.2" fill="#00ff00"/>
<circle cx="639.5" cy="1048.3" r="3.2" fill="#00ff00"/>
<circle cx="645.5" cy="1048.3" r="3.2" fill="#00ff00"/>
<circle cx="651.5" cy="1048.3" r="3.2" fill="#00ff00"/>
<circle cx="657.5" cy="1048.3" r="3.2" fill="#000000"/>
<circle cx="663.5" cy="1048.3" r="3.2" fill="#000000"/>
<circle cx="669.5" cy="1048.3" r="3.2" fill="#000000"/>
<circle cx="675.5" cy="1048.3" r="3.2" fill="#00ff00"/>
<circle cx="682.5" cy="1048.3" r="3.2" fill="#00ff00"/>
<circle cx="688.5" cy="1048.3" r="3.2" fill="#00ff00"/>
<circle cx="694.5" cy="1048.3" r="3.2" fill="#00ff00"/>
<circle cx="700.5" cy="1048.3" r="3.2" fill="#00ff00"/>
<circle cx="706.5" cy="1048.3" r="3.2" fill="#00ff00"/>
<circle cx="712.5" cy="1048.3" r="3.2" fill="#00ff00"/>
<circle cx="718.5" cy="1048.3" r="3.2" fill="#00ff00"/>
<circle cx="724.5" cy="1048.3" r="3.2" fill="#00ff00"/>
<circle cx="730.5" cy="1048.3" r="3.2" fill="#00ff00"/>
<circle cx="736.5" cy="1048.3" r="3.2" fill="#000000"/>
<circle cx="743.5" cy="1048.3" r="3.2" fill="#00ff00"/>
<circle cx="749.5" cy="1048.3" r="3.2" fill="#00ff00"/>
<circle cx="755.5" cy="1048.3" r="3.2" fill="#00ff00"/>
<circle cx="761.5" cy="1048.3" r="3.2" fill="#00ff00"/>
<circle cx="767.5" cy="1048.3" r="4.1" fill="#008000"/>
<circle cx="773.5" cy="1048.3" r="3.2" fill="#00ff00"/>
<circle cx="779.5" cy="1048.3" r="3.2" fill="#00ff00"/>
<circle cx="785.5" cy="1048.3" r="3.2" fill="#00ff00"/>
<circle cx="791.5" cy="1048.3" r="3.2" fill="#00ff00"/>
<circle cx="797.5" cy="1048.3" r="3.2" fill="#00ff00"/>
<circle cx="804.5" cy="1048.3" r="3.2" fill="#000000"/>
<circle cx="810.5" cy="1048.3" r="3.2" fill="#000000"/>
<circle cx="816.5" cy="1048.3" r="3.2" fill="#000000"/>
<circle cx="822.5" cy="1048.3" r="3.2" fill="#000000"/>
<circle cx="828.5" cy="1048.3" r="3.2" fill="#000000"/>
<circle cx="834.5" cy="1048.3" r="3.2" fill="#000000"/>
<circle cx="840.5" cy="1048.3" r="3.2" fill="#000000"/>
<circle cx="846.5" cy="1048.3" r="3.2" fill="#000000"/>
<circle cx="852.5" cy="1048.3" r="3.2" fill="#ff0000"/>
<circle cx="858.5" cy="1048.3" r="3.2" fill="#ff0000"/>
<circle cx="865.5" cy="1048.3" r="3.2" fill="#000000"/>
<circle cx="871.5" cy="1048.3" r="3.2" fill="#000000"/>
<circle cx="877.5" cy="1048.3" r="3.2" fill="#00ff00"/>
<circle cx="883.5" cy="1048.3" r="3.2" fill="#00ff00"/>
<circle cx="889.5" cy="1048.3" r="3.2" fill="#00ff00"/>
<circle cx="895.5" cy="1048.3" r="3.2" fill="#000000"/>
<circle cx="901.5" cy="1048.3" r="3.2" fill="#000000"/>
<circle cx="907.5" cy="1048.3" r="3.2" fill="#000000"/>
<circle cx="913.5" cy="1048.3" r="3.2" fill="#000000"/>
<circle cx="919.5" cy="1048.3" r="3.2" fill="#000000"/>
<circle cx="926.5" cy="1048.3" r="3.2" fill="#000000"/>
<circle cx="932.5" cy="1048.3" r="3.2" fill="#000000"/>
<circle cx="938.5" cy="1048.3" r="3.2" fill="#000000"/>
<circle cx="944.5" cy="1048.3" r="3.2" fill="#ff0000"/>
<circle cx="950.5" cy="1048.3" r="3.2" fill="#ff0000"/>
<circle cx="956.5" cy="1048.3" r="4.1" fill="#800000"/>
<circle cx="962.5" cy="1048.3" r="3.2" fill="#000000"/>
<circle cx="968.5" cy="1048.3" r="3.2" fill="#000000"/>
<circle cx="974.5" cy="1048.3" r="3.2" fill="#00ff00"/>
<circle cx="980.5" cy="1048.3" r="3.2" fill="#00ff00"/>
<circle cx="987.5" cy="1048.3" r="3.2" fill="#000000"/>
<circle cx="993.5" cy="1048.3" r="3.2" fill="#000000"/>
<circle cx="999.5" cy="1048.3" r="3.2" fill="#00ff00"/>
<circle cx="1005.5" cy="1048.3" r="3.2" fill="#000000"/>
<circle cx="1011.5" cy="1048.3" r="3.2" fill="#000000"/>
<circle cx="1017.5" cy="1048.3" r="3.2" fill="#00ff00"/>
<circle cx="1023.5" cy="1048.3" r="4.1" fill="#008000"/>
<circle cx="1029.5" cy="1048.3" r="3.2" fill="#00ff00"/>
<circle cx="1035.5" cy="1048.3" r="3.2" fill="#00ff00"/>
<circle cx="1041.5" cy="1048.3" r="3.2" fill="#00ff00"/>
<circle cx="1048.5" cy="1048.3" r="3.2" fill="#00ff00"/>
<circle cx="1054.5" cy="1048.3" r="3.2" fill="#00ff00"/>
<circle cx="1060.5" cy="1048.3" r="3.2" fill="#00ff00"/>
<circle cx="1066.5" cy="1048.3" r="4.1" fill="#008000"/>
<circle cx="1072.5" cy="1048.3" r="4.1" fill="#008000"/>
<circle cx="1078.5" cy="1048.3" r="4.1" fill="#008000"/>
<circle cx="1084.5" cy="1048.3" r="4.1" fill="#008000"/>
<circle cx="1090.5" cy="1048.3" r="4.1" fill="#008000"/>
<circle cx="1096.5" cy="1048.3" r="4.1" fill="#008000"/>
<circle cx="1102.5" cy="1048.3" r="4.1" fill="#008000"/>
<circle cx="1109.5" cy="1048.3" r="4.1" fill="#008000"/>
<circle cx="1115.5" cy="1048.3" r="3.2" fill="#00ff00"/>
<circle cx="1121.5" cy="1048.3" r="3.2" fill="#000000"/>
<circle cx="1127.5" cy="1048.3" r="3.2" fill="#000000"/>
<circle cx="1133.5" cy="1048.3" r="3.2" fill="#000000"/>
<circle cx="1139.5" cy="1048.3" r="3.2" fill="#000000"/>
<circle cx="1145.5" cy="1048.3" r="3.2" fill="#000000"/>
<circle cx="1151.5" cy="1048.3" r="3.2" fill="#000000"/>
<circle cx="1157.5" cy="1048.3" r="3.2" fill="#000000"/>
<circle cx="1163.5" cy="1048.3" r="3.2" fill="#000000"/>
<circle cx="1170.5" cy="1048.3" r="3.2" fill="#000000"/>
<circle cx="1176.5" cy="1048.3" r="3.2" fill="#000000"/>
<circle cx="1182.5" cy="1048.3" r="3.2" fill="#000000"/>
<circle cx="1188.5" cy="1048.3" r="3.2" fill="#000000"/>
<circle cx="1194.5" cy="1048.3" r="3.2" fill="#ff0000"/>
<circle cx="1200.5" cy="1048.3" r="3.2" fill="#ff0000"/>
<circle cx="1206.5" cy="1048.3" r="3.2" fill="#ff0000"/>
<circle cx="1212.5" cy="1048.3" r="3.2" fill="#ff0000"/>
<circle cx="1218.5" cy="1048.3" r="3.2" fill="#ff0000"/>
<circle cx="1224.5" cy="1048.3" r="3.2" fill="#ff0000"/>
<circle cx="1231.5" cy="1048.3" r="3.2" fill="#ff0000"/>
<circle cx="1237.5" cy="1048.3" r="3.2" fill="#000000"/>
<circle cx="1243.5" cy="1048.3" r="3.2" fill="#000000"/>
<circle cx="1249.5" cy="1048.3" r="3.2" fill="#000000"/>
<circle cx="1255.5" cy="1048.3" r="3.2" fill="#00ff00"/>
<circle cx="1261.5" cy="1048.3" r="3.2" fill="#00ff00"/>
<circle cx="1267.5" cy="1048.3" r="3.2" fill="#00ff00"/>
<circle cx="1273.5" cy="1048.3" r="4.1" fill="#008000"/>
<circle cx="1279.5" cy="1048.3" r="3.2" fill="#00ff00"/>
<circle cx="1285.5" cy="1048.3" r="3.2" fill="#000000"/>
<circle cx="1292.5" cy="1048.3" r="3.2" fill="#000000"/>
<circle cx="1298.5" cy="1048.3" r="3.2" fill="#000000"/>
<circle cx="1304.5" cy="1048.3" r="3.2" fill="#000000"/>
<circle cx="1310.5" cy="1048.3" r="3.2" fill="#ff0000"/>
<circle cx="1316.5" cy="1048.3" r="3.2" fill="#ff0000"/>
<circle cx="1322.5" cy="1048.3" r="4.1" fill="#800000"/>
<circle cx="1328.5" cy="1048.3" r="3.2" fill="#000000"/>
<circle cx="1334.5" cy="1048.3" r="3.2" fill="#000000"/>
<circle cx="1340.5" cy="1048.3" r="3.2" fill="#ff0000"/>
<circle cx="1346.5" cy="1048.3" r="4.1" fill="#800000"/>
<circle cx="1353.5" cy="1048.3" r="4.1" fill="#800000"/>
<circle cx="1359.5" cy="1048.3" r="3.2" fill="#ff0000"/>
<circle cx="1365.5" cy="1048.3" r="3.2" fill="#ff0000"/>
<circle cx="1371.5" cy="1048.3" r="4.1" fill="#800000"/>
<circle cx="1377.5" cy="1048.3" r="4.1" fill="#800000"/>
<circle cx="1383.5" cy="1048.3" r="4.1" fill="#800000"/>
<circle cx="1389.5" cy="1048.3" r="3.2" fill="#ff0000"/>
<circle cx="1395.5" cy="1048.3" r="3.2" fill="#000000"/>
<circle cx="1401.5" cy="1048.3" r="3.2" fill="#000000"/>
<circle cx="1407.5" cy="1048.3" r="3.2" fill="#000000"/>
<circle cx="1414.5" cy="1048.3" r="3.2" fill="#000000"/>
<circle cx="1420.5" cy="1048.3" r="3.2" fill="#000000"/>
<circle cx="1426.5" cy="1048.3" r="3.2" fill="#000000"/>
<circle cx="1432.5" cy="1048.3" r="3.2" fill="#000000"/>
<circle cx="1438.5" cy="1048.3" r="3.2" fill="#000000"/>
<circle cx="1444.5" cy="1048.3" r="3.2" fill="#00ff00"/>
<circle cx="1450.5" cy="1048.3" r="3.2" fill="#00ff00"/>
<circle cx="1456.5" cy="1048.3" r="3.2" fill="#00ff00"/>
<circle cx="1462.5" cy="1048.3" r="3.2" fill="#00ff00"/>
<circle cx="1468.5" cy="1048.3" r="3.2" fill="#00ff00"/>
<circle cx="1475.5" cy="1048.3" r="3.2" fill="#00ff00"/>
<circle cx="1481.5" cy="1048.3" r="3.2" fill="#00ff00"/>
<circle cx="1487.5" cy="1048.3" r="3.2" fill="#00ff00"/>
<circle cx="1493.5" cy="1048.3" r="3.2" fill="#00ff00"/>
<circle cx="1499.5" cy="1048.3" r="3.2" fill="#00ff00"/>
<circle cx="1505.5" cy="1048.3" r="3.2" fill="#000000"/>
<circle cx="1511.5" cy="1048.3" r="3.2" fill="#000000"/>
<circle cx="1517.5" cy="1048.3" r="3.2" fill="#000000"/>
<circle cx="1523.5" cy="1048.3" r="3.2" fill="#000000"/>
<circle cx="1529.5" cy="1048.3" r="3.2" fill="#000000"/>
<circle cx="1536.5" cy="1048.3" r="3.2" fill="#ff0000"/>
<circle cx="1542.5" cy="1048.3" r="3.2" fill="#ff0000"/>
<circle cx="1548.5" cy="1048.3" r="3.2" fill="#ff0000"/>
<circle cx="1554.5" cy="1048.3" r="3.2" fill="#ff0000"/>
<circle cx="1560.5" cy="1048.3" r="3.2" fill="#000000"/>
<circle cx="1566.5" cy="1048.3" r="3.2" fill="#000000"/>
<circle cx="1572.5" cy="1048.3" r="3.2" fill="#00ff00"/>
<circle cx="1578.5" cy="1048.3" r="4.1" fill="#008000"/>
<circle cx="1584.5" cy="1048.3" r="4.1" fill="#008000"/>
<circle cx="1590.5" cy="1048.3" r="4.1" fill="#008000"/>
<circle cx="1597.5" cy="1048.3" r="4.1" fill="#008000"/>
<circle cx="1603.5" cy="1048.3" r="4.1" fill="#008000"/>
<circle cx="1609.5" cy="1048.3" r="4.1" fill="#008000"/>
<circle cx="1615.5" cy="1048.3" r="3.2" fill="#00ff00"/>
<circle cx="1621.5" cy="1048.3" r="3.2" fill="#00ff00"/>
<circle cx="1627.5" cy="1048.3" r="3.2" fill="#000000"/>
<circle cx="1633.5" cy="1048.3" r="3.2" fill="#ff0000"/>
<circle cx="1639.5" cy="1048.3" r="3.2" fill="#000000"/>
<circle cx="1645.5" cy="1048.3" r="3.2" fill="#000000"/>
<circle cx="1651.5" cy="1048.3" r="3.2" fill="#000000"/>
<circle cx="1658.5" cy="1048.3" r="3.2" fill="#000000"/>
<circle cx="1664.5" cy="1048.3" r="3.2" fill="#ff0000"/>
<circle cx="1670.5" cy="1048.3" r="4.1" fill="#800000"/>
<circle cx="1676.5" cy="1048.3" r="3.2" fill="#ff0000"/>
<circle cx="1682.5" cy="1048.3" r="3.2" fill="#ff0000"/>
<circle cx="1688.5" cy="1048.3" r="3.2" fill="#ff0000"/>
<circle cx="1694.5" cy="1048.3" r="3.2" fill="#000000"/>
<circle cx="1700.5" cy="1048.3" r="3.2" fill="#ff0000"/>
<circle cx="1706.5" cy="1048.3" r="3.2" fill="#000000"/>
<circle cx="1712.5" cy="1048.3" r="3.2" fill="#000000"/>
<circle cx="1719.5" cy="1048.3" r="3.2" fill="#000000"/>
<circle cx="1725.5" cy="1048.3" r="3.2" fill="#000000"/>
<circle cx="1731.5" cy="1048.3" r="3.2" fill="#000000"/>
<circle cx="1737.5" cy="1048.3" r="3.2" fill="#000000"/>
<circle cx="1743.5" cy="1048.3" r="3.2" fill="#000000"/>
<circle cx="1749.5" cy="1048.3" r="3.2" fill="#ff0000"/>
<circle cx="1755.5" cy="1048.3" r="3.2" fill="#000000"/>
<circle cx="1761.5" cy="1048.3" r="3.2" fill="#000000"/>
<circle cx="1767.5" cy="1048.3" r="3.2" fill="#000000"/>
<circle cx="1773.5" cy="1048.3" r="3.2" fill="#ff0000"/>
<circle cx="1780.5" cy="1048.3" r="4.1" fill="#800000"/>
<circle cx="1786.5" cy="1048.3" r="3.2" fill="#ff0000"/>
<circle cx="1792.5" cy="1048.3" r="3.2" fill="#ff0000"/>
<circle cx="1798.5" cy="1048.3" r="3.2" fill="#ff0000"/>
<circle cx="1804.5" cy="1048.3" r="3.2" fill="#ff0000"/>
<circle cx="1810.5" cy="1048.3" r="3.2" fill="#ff0000"/>
<circle cx="1816.5" cy="1048.3" r="3.2" fill="#000000"/>
<circle cx="1822.5" cy="1048.3" r="3.2" fill="#000000"/>
<circle cx="1828.5" cy="1048.3" r="3.2" fill="#ff0000"/>
<circle cx="1834.5" cy="1048.3" r="4.1" fill="#800000"/>
<circle cx="1841.5" cy="1048.3" r="4.1" fill="#800000"/>
<circle cx="1847.5" cy="1048.3" r="4.1" fill="#800000"/>
<circle cx="1853.5" cy="1048.3" r="4.1" fill="#800000"/>
<circle cx="1859.5" cy="1048.3" r="4.1" fill="#800000"/>
<circle cx="59.5" cy="1072.4" r="4.45" fill="#ffff00"/>
<circle cx="66.5" cy="1072.4" r="4.45" fill="#ffff00"/>
<circle cx="72.5" cy="1072.4" r="4.45" fill="#ffff00"/>
<circle cx="78.5" cy="1072.4" r="4.45" fill="#ffff00"/>
<circle cx="90.5" cy="1072.4" r="4.45" fill="#ffff00"/>
<circle cx="163.5" cy="1072.4" r="4.45" fill="#ffff00"/>
<circle cx="175.5" cy="1072.4" r="4.45" fill="#ffff00"/>
<circle cx="181.5" cy="1072.4" r="4.45" fill="#ffff00"/>
<circle cx="224.5" cy="1072.4" r="4.45" fill="#ffff00"/>
<circle cx="273.5" cy="1072.4" r="4.45" fill="#ffff00"/>
<circle cx="285.5" cy="1072.4" r="4.45" fill="#ffff00"/>
<circle cx="291.5" cy="1072.4" r="4.45" fill="#ffff00"/>
<circle cx="297.5" cy="1072.4" r="4.45" fill="#ffff00"/>
<circle cx="303.5" cy="1072.4" r="4.45" fill="#ffff00"/>
<circle cx="346.5" cy="1072.4" r="4.45" fill="#ffff00"/>
<circle cx="352.5" cy="1072.4" r="4.45" fill="#ffff00"/>
<circle cx="358.5" cy="1072.4" r="4.45" fill="#ffff00"/>
<circle cx="364.5" cy="1072.4" r="4.45" fill="#ffff00"/>
<circle cx="371.5" cy="1072.4" r="4.45" fill="#ffff00"/>
<circle cx="383.5" cy="1072.4" r="4.45" fill="#ffff00"/>
<circle cx="389.5" cy="1072.4" r="4.45" fill="#ffff00"/>
<circle cx="395.5" cy="1072.4" r="4.45" fill="#ffff00"/>
<circle cx="431.5" cy="1072.4" r="4.45" fill="#ffff00"/>
<circle cx="456.5" cy="1072.4" r="4.45" fill="#ffff00"/>
<circle cx="474.5" cy="1072.4" r="4.45" fill="#ffff00"/>
<circle cx="517.5" cy="1072.4" r="4.45" fill="#ffff00"/>
<circle cx="529.5" cy="1072.4" r="4.45" fill="#ffff00"/>
<circle cx="657.5" cy="1072.4" r="4.45" fill="#ffff00"/>
<circle cx="663.5" cy="1072.4" r="4.45" fill="#ffff00"/>
<circle cx="730.5" cy="1072.4" r="4.45" fill="#ffff00"/>
<circle cx="736.5" cy="1072.4" r="4.45" fill="#ffff00"/>
<circle cx="804.5" cy="1072.4" r="4.45" fill="#ffff00"/>
<circle cx="810.5" cy="1072.4" r="4.45" fill="#ffff00"/>
<circle cx="828.5" cy="1072.4" r="4.45" fill="#ffff00"/>
<circle cx="834.5" cy="1072.4" r="4.45" fill="#ffff00"/>
<circle cx="865.5" cy="1072.4" r="4.45" fill="#ffff00"/>
<circle cx="871.5" cy="1072.4" r="4.45" fill="#ffff00"/>
<circle cx="895.5" cy="1072.4" r="4.45" fill="#ffff00"/>
<circle cx="901.5" cy="1072.4" r="4.45" fill="#ffff00"/>
<circle cx="907.5" cy="1072.4" r="4.45" fill="#ffff00"/>
<circle cx="919.5" cy="1072.4" r="4.45" fill="#ffff00"/>
<circle cx="962.5" cy="1072.4" r="4.45" fill="#ffff00"/>
<circle cx="1011.5" cy="1072.4" r="4.45" fill="#ffff00"/>
<circle cx="1115.5" cy="1072.4" r="4.45" fill="#ffff00"/>
<circle cx="1121.5" cy="1072.4" r="4.45" fill="#ffff00"/>
<circle cx="1127.5" cy="1072.4" r="4.45" fill="#ffff00"/>
<circle cx="1133.5" cy="1072.4" r="4.45" fill="#ffff00"/>
<circle cx="1151.5" cy="1072.4" r="4.45" fill="#ffff00"/>
<circle cx="1157.5" cy="1072.4" r="4.45" fill="#ffff00"/>
<circle cx="1163.5" cy="1072.4" r="4.45" fill="#ffff00"/>
<circle cx="1176.5" cy="1072.4" r="4.45" fill="#ffff00"/>
<circle cx="1182.5" cy="1072.4" r="4.45" fill="#ffff00"/>
<circle cx="1237.5" cy="1072.4" r="4.45" fill="#ffff00"/>
<circle cx="1243.5" cy="1072.4" r="4.45" fill="#ffff00"/>
<circle cx="1249.5" cy="1072.4" r="4.45" fill="#ffff00"/>
<circle cx="1285.5" cy="1072.4" r="4.45" fill="#ffff00"/>
<circle cx="1292.5" cy="1072.4" r="4.45" fill="#ffff00"/>
<circle cx="1298.5" cy="1072.4" r="4.45" fill="#ffff00"/>
<circle cx="1304.5" cy="1072.4" r="4.45" fill="#ffff00"/>
<circle cx="1328.5" cy="1072.4" r="4.45" fill="#ffff00"/>
<circle cx="1395.5" cy="1072.4" r="4.45" fill="#ffff00"/>
<circle cx="1401.5" cy="1072.4" r="4.45" fill="#ffff00"/>
<circle cx="1407.5" cy="1072.4" r="4.45" fill="#ffff00"/>
<circle cx="1414.5" cy="1072.4" r="4.45" fill="#ffff00"/>
<circle cx="1420.5" cy="1072.4" r="4.45" fill="#ffff00"/>
<circle cx="1426.5" cy="1072.4" r="4.45" fill="#ffff00"/>
<circle cx="1432.5" cy="1072.4" r="4.45" fill="#ffff00"/>
<circle cx="1438.5" cy="1072.4" r="4.45" fill="#ffff00"/>
<circle cx="1499.5" cy="1072.4" r="4.45" fill="#ffff00"/>
<circle cx="1505.5" cy="1072.4" r="4.45" fill="#ffff00"/>
<circle cx="1511.5" cy="1072.4" r="4.45" fill="#ffff00"/>
<circle cx="1517.5" cy="1072.4" r="4.45" fill="#ffff00"/>
<circle cx="1560.5" cy="1072.4" r="4.45" fill="#ffff00"/>
<circle cx="1566.5" cy="1072.4" r="4.45" fill="#ffff00"/>
<circle cx="1621.5" cy="1072.4" r="4.45" fill="#ffff00"/>
<circle cx="1639.5" cy="1072.4" r="4.45" fill="#ffff00"/>
<circle cx="1645.5" cy="1072.4" r="4.45" fill="#ffff00"/>
<circle cx="1706.5" cy="1072.4" r="4.45" fill="#ffff00"/>
<circle cx="1712.5" cy="1072.4" r="4.45" fill="#ffff00"/>
<circle cx="1719.5" cy="1072.4" r="4.45" fill="#ffff00"/>
<circle cx="1725.5" cy="1072.4" r="4.45" fill="#ffff00"/>
<circle cx="1743.5" cy="1072.4" r="4.45" fill="#ffff00"/>
<circle cx="1767.5" cy="1072.4" r="4.45" fill="#ffff00"/>
<circle cx="1816.5" cy="1072.4" r="4.45" fill="#ffff00"/>
<circle cx="1822.5" cy="1072.4" r="4.45" fill="#ffff00"/>
<circle cx="96.5" cy="1072.4" r="4.45" fill="#ff0000"/>
<circle cx="102.5" cy="1072.4" r="4.45" fill="#ff0000"/>
<circle cx="108.5" cy="1072.4" r="4.45" fill="#ff0000"/>
<circle cx="114.5" cy="1072.4" r="4.45" fill="#ff0000"/>
<circle cx="120.5" cy="1072.4" r="4.45" fill="#ff0000"/>
<circle cx="127.5" cy="1072.4" r="4.45" fill="#ff0000"/>
<circle cx="133.5" cy="1072.4" r="4.45" fill="#ff0000"/>
<circle cx="139.5" cy="1072.4" r="4.45" fill="#ff0000"/>
<circle cx="145.5" cy="1072.4" r="4.45" fill="#ff0000"/>
<circle cx="151.5" cy="1072.4" r="4.45" fill="#ff0000"/>
<circle cx="157.5" cy="1072.4" r="4.45" fill="#ff0000"/>
<circle cx="169.5" cy="1072.4" r="4.45" fill="#ff0000"/>
<circle cx="188.5" cy="1072.4" r="4.45" fill="#ff0000"/>
<circle cx="194.5" cy="1072.4" r="4.45" fill="#ff0000"/>
<circle cx="200.5" cy="1072.4" r="4.45" fill="#ff0000"/>
<circle cx="206.5" cy="1072.4" r="4.45" fill="#ff0000"/>
<circle cx="218.5" cy="1072.4" r="4.45" fill="#ff0000"/>
<circle cx="230.5" cy="1072.4" r="4.45" fill="#ff0000"/>
<circle cx="236.5" cy="1072.4" r="4.45" fill="#ff0000"/>
<circle cx="242.5" cy="1072.4" r="4.45" fill="#ff0000"/>
<circle cx="249.5" cy="1072.4" r="4.45" fill="#ff0000"/>
<circle cx="255.5" cy="1072.4" r="4.45" fill="#ff0000"/>
<circle cx="261.5" cy="1072.4" r="4.45" fill="#ff0000"/>
<circle cx="267.5" cy="1072.4" r="4.45" fill="#ff0000"/>
<circle cx="279.5" cy="1072.4" r="4.45" fill="#ff0000"/>
<circle cx="310.5" cy="1072.4" r="4.45" fill="#ff0000"/>
<circle cx="316.5" cy="1072.4" r="4.45" fill="#ff0000"/>
<circle cx="322.5" cy="1072.4" r="4.45" fill="#ff0000"/>
<circle cx="328.5" cy="1072.4" r="4.45" fill="#ff0000"/>
<circle cx="334.5" cy="1072.4" r="4.45" fill="#ff0000"/>
<circle cx="340.5" cy="1072.4" r="4.45" fill="#ff0000"/>
<circle cx="438.5" cy="1072.4" r="4.45" fill="#ff0000"/>
<circle cx="444.5" cy="1072.4" r="4.45" fill="#ff0000"/>
<circle cx="450.5" cy="1072.4" r="4.45" fill="#ff0000"/>
<circle cx="462.5" cy="1072.4" r="4.45" fill="#ff0000"/>
<circle cx="468.5" cy="1072.4" r="4.45" fill="#ff0000"/>
<circle cx="480.5" cy="1072.4" r="4.45" fill="#ff0000"/>
<circle cx="486.5" cy="1072.4" r="4.45" fill="#ff0000"/>
<circle cx="492.5" cy="1072.4" r="4.45" fill="#ff0000"/>
<circle cx="499.5" cy="1072.4" r="4.45" fill="#ff0000"/>
<circle cx="505.5" cy="1072.4" r="4.45" fill="#ff0000"/>
<circle cx="511.5" cy="1072.4" r="4.45" fill="#ff0000"/>
<circle cx="816.5" cy="1072.4" r="4.45" fill="#ff0000"/>
<circle cx="822.5" cy="1072.4" r="4.45" fill="#ff0000"/>
<circle cx="840.5" cy="1072.4" r="4.45" fill="#ff0000"/>
<circle cx="846.5" cy="1072.4" r="4.45" fill="#ff0000"/>
<circle cx="852.5" cy="1072.4" r="4.45" fill="#ff0000"/>
<circle cx="858.5" cy="1072.4" r="4.45" fill="#ff0000"/>
<circle cx="913.5" cy="1072.4" r="4.45" fill="#ff0000"/>
<circle cx="926.5" cy="1072.4" r="4.45" fill="#ff0000"/>
<circle cx="932.5" cy="1072.4" r="4.45" fill="#ff0000"/>
<circle cx="938.5" cy="1072.4" r="4.45" fill="#ff0000"/>
<circle cx="944.5" cy="1072.4" r="4.45" fill="#ff0000"/>
<circle cx="950.5" cy="1072.4" r="4.45" fill="#ff0000"/>
<circle cx="956.5" cy="1072.4" r="4.45" fill="#ff0000"/>
<circle cx="1188.5" cy="1072.4" r="4.45" fill="#ff0000"/>
<circle cx="1194.5" cy="1072.4" r="4.45" fill="#ff0000"/>
<circle cx="1200.5" cy="1072.4" r="4.45" fill="#ff0000"/>
<circle cx="1206.5" cy="1072.4" r="4.45" fill="#ff0000"/>
<circle cx="1212.5" cy="1072.4" r="4.45" fill="#ff0000"/>
<circle cx="1218.5" cy="1072.4" r="4.45" fill="#ff0000"/>
<circle cx="1224.5" cy="1072.4" r="4.45" fill="#ff0000"/>
<circle cx="1231.5" cy="1072.4" r="4.45" fill="#ff0000"/>
<circle cx="1310.5" cy="1072.4" r="4.45" fill="#ff0000"/>
<circle cx="1316.5" cy="1072.4" r="4.45" fill="#ff0000"/>
<circle cx="1322.5" cy="1072.4" r="4.45" fill="#ff0000"/>
<circle cx="1334.5" cy="1072.4" r="4.45" fill="#ff0000"/>
<circle cx="1340.5" cy="1072.4" r="4.45" fill="#ff0000"/>
<circle cx="1346.5" cy="1072.4" r="4.45" fill="#ff0000"/>
<circle cx="1353.5" cy="1072.4" r="4.45" fill="#ff0000"/>
<circle cx="1359.5" cy="1072.4" r="4.45" fill="#ff0000"/>
<circle cx="1365.5" cy="1072.4" r="4.45" fill="#ff0000"/>
<circle cx="1371.5" cy="1072.4" r="4.45" fill="#ff0000"/>
<circle cx="1377.5" cy="1072.4" r="4.45" fill="#ff0000"/>
<circle cx="1383.5" cy="1072.4" r="4.45" fill="#ff0000"/>
<circle cx="1389.5" cy="1072.4" r="4.45" fill="#ff0000"/>
<circle cx="1523.5" cy="1072.4" r="4.45" fill="#ff0000"/>
<circle cx="1529.5" cy="1072.4" r="4.45" fill="#ff0000"/>
<circle cx="1536.5" cy="1072.4" r="4.45" fill="#ff0000"/>
<circle cx="1542.5" cy="1072.4" r="4.45" fill="#ff0000"/>
<circle cx="1548.5" cy="1072.4" r="4.45" fill="#ff0000"/>
<circle cx="1554.5" cy="1072.4" r="4.45" fill="#ff0000"/>
<circle cx="1627.5" cy="1072.4" r="4.45" fill="#ff0000"/>
<circle cx="1633.5" cy="1072.4" r="4.45" fill="#ff0000"/>
<circle cx="1651.5" cy="1072.4" r="4.45" fill="#ff0000"/>
<circle cx="1658.5" cy="1072.4" r="4.45" fill="#ff0000"/>
<circle cx="1664.5" cy="1072.4" r="4.45" fill="#ff0000"/>
<circle cx="1670.5" cy="1072.4" r="4.45" fill="#ff0000"/>
<circle cx="1676.5" cy="1072.4" r="4.45" fill="#ff0000"/>
<circle cx="1682.5" cy="1072.4" r="4.45" fill="#ff0000"/>
<circle cx="1688.5" cy="1072.4" r="4.45" fill="#ff0000"/>
<circle cx="1694.5" cy="1072.4" r="4.45" fill="#ff0000"/>
<circle cx="1700.5" cy="1072.4" r="4.45" fill="#ff0000"/>
<circle cx="1749.5" cy="1072.4" r="4.45" fill="#ff0000"/>
<circle cx="1755.5" cy="1072.4" r="4.45" fill="#ff0000"/>
<circle cx="1761.5" cy="1072.4" r="4.45" fill="#ff0000"/>
<circle cx="1773.5" cy="1072.4" r="4.45" fill="#ff0000"/>
<circle cx="1780.5" cy="1072.4" r="4.45" fill="#ff0000"/>
<circle cx="1786.5" cy="1072.4" r="4.45" fill="#ff0000"/>
<circle cx="1792.5" cy="1072.4" r="4.45" fill="#ff0000"/>
<circle cx="1798.5" cy="1072.4" r="4.45" fill="#ff0000"/>
<circle cx="1804.5" cy="1072.4" r="4.45" fill="#ff0000"/>
<circle cx="1810.5" cy="1072.4" r="4.45" fill="#ff0000"/>
<circle cx="1828.5" cy="1072.4" r="4.45" fill="#ff0000"/>
<circle cx="1834.5" cy="1072.4" r="4.45" fill="#ff0000"/>
<circle cx="1841.5" cy="1072.4" r="4.45" fill="#ff0000"/>
<circle cx="1847.5" cy="1072.4" r="4.45" fill="#ff0000"/>
<circle cx="1853.5" cy="1072.4" r="4.45" fill="#ff0000"/>
<circle cx="1859.5" cy="1072.4" r="4.45" fill="#ff0000"/>
<circle cx="11.5" cy="1072.4" r="4.45" fill="#00ff00"/>
<circle cx="17.5" cy="1072.4" r="4.45" fill="#00ff00"/>
<circle cx="23.5" cy="1072.4" r="4.45" fill="#00ff00"/>
<circle cx="29.5" cy="1072.4" r="4.45" fill="#00ff00"/>
<circle cx="35.5" cy="1072.4" r="4.45" fill="#00ff00"/>
<circle cx="41.5" cy="1072.4" r="4.45" fill="#00ff00"/>
<circle cx="47.5" cy="1072.4" r="4.45" fill="#00ff00"/>
<circle cx="53.5" cy="1072.4" r="4.45" fill="#00ff00"/>
<circle cx="84.5" cy="1072.4" r="4.45" fill="#00ff00"/>
<circle cx="212.5" cy="1072.4" r="4.45" fill="#00ff00"/>
<circle cx="377.5" cy="1072.4" r="4.45" fill="#00ff00"/>
<circle cx="401.5" cy="1072.4" r="4.45" fill="#00ff00"/>
<circle cx="407.5" cy="1072.4" r="4.45" fill="#00ff00"/>
<circle cx="413.5" cy="1072.4" r="4.45" fill="#00ff00"/>
<circle cx="419.5" cy="1072.4" r="4.45" fill="#00ff00"/>
<circle cx="425.5" cy="1072.4" r="4.45" fill="#00ff00"/>
<circle cx="523.5" cy="1072.4" r="4.45" fill="#00ff00"/>
<circle cx="535.5" cy="1072.4" r="4.45" fill="#00ff00"/>
<circle cx="541.5" cy="1072.4" r="4.45" fill="#00ff00"/>
<circle cx="547.5" cy="1072.4" r="4.45" fill="#00ff00"/>
<circle cx="553.5" cy="1072.4" r="4.45" fill="#00ff00"/>
<circle cx="560.5" cy="1072.4" r="4.45" fill="#00ff00"/>
<circle cx="566.5" cy="1072.4" r="4.45" fill="#00ff00"/>
<circle cx="572.5" cy="1072.4" r="4.45" fill="#00ff00"/>
<circle cx="578.5" cy="1072.4" r="4.45" fill="#00ff00"/>
<circle cx="584.5" cy="1072.4" r="4.45" fill="#00ff00"/>
<circle cx="590.5" cy="1072.4" r="4.45" fill="#00ff00"/>
<circle cx="596.5" cy="1072.4" r="4.45" fill="#00ff00"/>
<circle cx="602.5" cy="1072.4" r="4.45" fill="#00ff00"/>
<circle cx="608.5" cy="1072.4" r="4.45" fill="#00ff00"/>
<circle cx="614.5" cy="1072.4" r="4.45" fill="#00ff00"/>
<circle cx="621.5" cy="1072.4" r="4.45" fill="#00ff00"/>
<circle cx="627.5" cy="1072.4" r="4.45" fill="#00ff00"/>
<circle cx="633.5" cy="1072.4" r="4.45" fill="#00ff00"/>
<circle cx="639.5" cy="1072.4" r="4.45" fill="#00ff00"/>
<circle cx="645.5" cy="1072.4" r="4.45" fill="#00ff00"/>
<circle cx="651.5" cy="1072.4" r="4.45" fill="#00ff00"/>
<circle cx="669.5" cy="1072.4" r="4.45" fill="#00ff00"/>
<circle cx="675.5" cy="1072.4" r="4.45" fill="#00ff00"/>
<circle cx="682.5" cy="1072.4" r="4.45" fill="#00ff00"/>
<circle cx="688.5" cy="1072.4" r="4.45" fill="#00ff00"/>
<circle cx="694.5" cy="1072.4" r="4.45" fill="#00ff00"/>
<circle cx="700.5" cy="1072.4" r="4.45" fill="#00ff00"/>
<circle cx="706.5" cy="1072.4" r="4.45" fill="#00ff00"/>
<circle cx="712.5" cy="1072.4" r="4.45" fill="#00ff00"/>
<circle cx="718.5" cy="1072.4" r="4.45" fill="#00ff00"/>
<circle cx="724.5" cy="1072.4" r="4.45" fill="#00ff00"/>
<circle cx="743.5" cy="1072.4" r="4.45" fill="#00ff00"/>
<circle cx="749.5" cy="1072.4" r="4.45" fill="#00ff00"/>
<circle cx="755.5" cy="1072.4" r="4.45" fill="#00ff00"/>
<circle cx="761.5" cy="1072.4" r="4.45" fill="#00ff00"/>
<circle cx="767.5" cy="1072.4" r="4.45" fill="#00ff00"/>
<circle cx="773.5" cy="1072.4" r="4.45" fill="#00ff00"/>
<circle cx="779.5" cy="1072.4" r="4.45" fill="#00ff00"/>
<circle cx="785.5" cy="1072.4" r="4.45" fill="#00ff00"/>
<circle cx="791.5" cy="1072.4" r="4.45" fill="#00ff00"/>
<circle cx="797.5" cy="1072.4" r="4.45" fill="#00ff00"/>
<circle cx="877.5" cy="1072.4" r="4.45" fill="#00ff00"/>
<circle cx="883.5" cy="1072.4" r="4.45" fill="#00ff00"/>
<circle cx="889.5" cy="1072.4" r="4.45" fill="#00ff00"/>
<circle cx="968.5" cy="1072.4" r="4.45" fill="#00ff00"/>
<circle cx="974.5" cy="1072.4" r="4.45" fill="#00ff00"/>
<circle cx="980.5" cy="1072.4" r="4.45" fill="#00ff00"/>
<circle cx="987.5" cy="1072.4" r="4.45" fill="#00ff00"/>
<circle cx="993.5" cy="1072.4" r="4.45" fill="#00ff00"/>
<circle cx="999.5" cy="1072.4" r="4.45" fill="#00ff00"/>
<circle cx="1005.5" cy="1072.4" r="4.45" fill="#00ff00"/>
<circle cx="1017.5" cy="1072.4" r="4.45" fill="#00ff00"/>
<circle cx="1023.5" cy="1072.4" r="4.45" fill="#00ff00"/>
<circle cx="1029.5" cy="1072.4" r="4.45" fill="#00ff00"/>
<circle cx="1035.5" cy="1072.4" r="4.45" fill="#00ff00"/>
<circle cx="1041.5" cy="1072.4" r="4.45" fill="#00ff00"/>
<circle cx="1048.5" cy="1072.4" r="4.45" fill="#00ff00"/>
<circle cx="1054.5" cy="1072.4" r="4.45" fill="#00ff00"/>
<circle cx="1060.5" cy="1072.4" r="4.45" fill="#00ff00"/>
<circle cx="1066.5" cy="1072.4" r="4.45" fill="#00ff00"/>
<circle cx="1072.5" cy="1072.4" r="4.45" fill="#00ff00"/>
<circle cx="1078.5" cy="1072.4" r="4.45" fill="#00ff00"/>
<circle cx="1084.5" cy="1072.4" r="4.45" fill="#00ff00"/>
<circle cx="1090.5" cy="1072.4" r="4.45" fill="#00ff00"/>
<circle cx="1096.5" cy="1072.4" r="4.45" fill="#00ff00"/>
<circle cx="1102.5" cy="1072.4" r="4.45" fill="#00ff00"/>
<circle cx="1109.5" cy="1072.4" r="4.45" fill="#00ff00"/>
<circle cx="1139.5" cy="1072.4" r="4.45" fill="#00ff00"/>
<circle cx="1145.5" cy="1072.4" r="4.45" fill="#00ff00"/>
<circle cx="1170.5" cy="1072.4" r="4.45" fill="#00ff00"/>
<circle cx="1255.5" cy="1072.4" r="4.45" fill="#00ff00"/>
<circle cx="1261.5" cy="1072.4" r="4.45" fill="#00ff00"/>
<circle cx="1267.5" cy="1072.4" r="4.45" fill="#00ff00"/>
<circle cx="1273.5" cy="1072.4" r="4.45" fill="#00ff00"/>
<circle cx="1279.5" cy="1072.4" r="4.45" fill="#00ff00"/>
<circle cx="1444.5" cy="1072.4" r="4.45" fill="#00ff00"/>
<circle cx="1450.5" cy="1072.4" r="4.45" fill="#00ff00"/>
<circle cx="1456.5" cy="1072.4" r="4.45" fill="#00ff00"/>
<circle cx="1462.5" cy="1072.4" r="4.45" fill="#00ff00"/>
<circle cx="1468.5" cy="1072.4" r="4.45" fill="#00ff00"/>
<circle cx="1475.5" cy="1072.4" r="4.45" fill="#00ff00"/>
<circle cx="1481.5" cy="1072.4" r="4.45" fill="#00ff00"/>
<circle cx="1487.5" cy="1072.4" r="4.45" fill="#00ff00"/>
<circle cx="1493.5" cy="1072.4" r="4.45" fill="#00ff00"/>
<circle cx="1572.5" cy="1072.4" r="4.45" fill="#00ff00"/>
<circle cx="1578.5" cy="1072.4" r="4.45" fill="#00ff00"/>
<circle cx="1584.5" cy="1072.4" r="4.45" fill="#00ff00"/>
<circle cx="1590.5" cy="1072.4" r="4.45" fill="#00ff00"/>
<circle cx="1597.5" cy="1072.4" r="4.45" fill="#00ff00"/>
<circle cx="1603.5" cy="1072.4" r="4.45" fill="#00ff00"/>
<circle cx="1609.5" cy="1072.4" r="4.45" fill="#00ff00"/>
<circle cx="1615.5" cy="1072.4" r="4.45" fill="#00ff00"/>
<circle cx="1731.5" cy="1072.4" r="4.45" fill="#00ff00"/>
<circle cx="1737.5" cy="1072.4" r="4.45" fill="#00ff00"/>
<circle cx="11.5" cy="1082.3" r="4.45" fill="#00ff00"/>
<circle cx="17.5" cy="1082.3" r="4.45" fill="#00ff00"/>
<circle cx="175.5" cy="1082.3" r="4.45" fill="#00ff00"/>
<circle cx="181.5" cy="1082.3" r="4.45" fill="#00ff00"/>
<circle cx="212.5" cy="1082.3" r="4.45" fill="#00ff00"/>
<circle cx="218.5" cy="1082.3" r="4.45" fill="#00ff00"/>
<circle cx="224.5" cy="1082.3" r="4.45" fill="#00ff00"/>
<circle cx="273.5" cy="1082.3" r="4.45" fill="#00ff00"/>
<circle cx="279.5" cy="1082.3" r="4.45" fill="#00ff00"/>
<circle cx="285.5" cy="1082.3" r="4.45" fill="#00ff00"/>
<circle cx="291.5" cy="1082.3" r="4.45" fill="#00ff00"/>
<circle cx="297.5" cy="1082.3" r="4.45" fill="#00ff00"/>
<circle cx="346.5" cy="1082.3" r="4.45" fill="#00ff00"/>
<circle cx="352.5" cy="1082.3" r="4.45" fill="#00ff00"/>
<circle cx="358.5" cy="1082.3" r="4.45" fill="#00ff00"/>
<circle cx="364.5" cy="1082.3" r="4.45" fill="#00ff00"/>
<circle cx="401.5" cy="1082.3" r="4.45" fill="#00ff00"/>
<circle cx="407.5" cy="1082.3" r="4.45" fill="#00ff00"/>
<circle cx="413.5" cy="1082.3" r="4.45" fill="#00ff00"/>
<circle cx="419.5" cy="1082.3" r="4.45" fill="#00ff00"/>
<circle cx="425.5" cy="1082.3" r="4.45" fill="#00ff00"/>
<circle cx="474.5" cy="1082.3" r="4.45" fill="#00ff00"/>
<circle cx="480.5" cy="1082.3" r="4.45" fill="#00ff00"/>
<circle cx="517.5" cy="1082.3" r="4.45" fill="#00ff00"/>
<circle cx="523.5" cy="1082.3" r="4.45" fill="#00ff00"/>
<circle cx="529.5" cy="1082.3" r="4.45" fill="#00ff00"/>
<circle cx="535.5" cy="1082.3" r="4.45" fill="#00ff00"/>
<circle cx="578.5" cy="1082.3" r="4.45" fill="#00ff00"/>
<circle cx="584.5" cy="1082.3" r="4.45" fill="#00ff00"/>
<circle cx="590.5" cy="1082.3" r="4.45" fill="#00ff00"/>
<circle cx="596.5" cy="1082.3" r="4.45" fill="#00ff00"/>
<circle cx="602.5" cy="1082.3" r="4.45" fill="#00ff00"/>
<circle cx="645.5" cy="1082.3" r="4.45" fill="#00ff00"/>
<circle cx="651.5" cy="1082.3" r="4.45" fill="#00ff00"/>
<circle cx="682.5" cy="1082.3" r="4.45" fill="#00ff00"/>
<circle cx="688.5" cy="1082.3" r="4.45" fill="#00ff00"/>
<circle cx="694.5" cy="1082.3" r="4.45" fill="#00ff00"/>
<circle cx="700.5" cy="1082.3" r="4.45" fill="#00ff00"/>
<circle cx="761.5" cy="1082.3" r="4.45" fill="#00ff00"/>
<circle cx="767.5" cy="1082.3" r="4.45" fill="#00ff00"/>
<circle cx="773.5" cy="1082.3" r="4.45" fill="#00ff00"/>
<circle cx="877.5" cy="1082.3" r="4.45" fill="#00ff00"/>
<circle cx="883.5" cy="1082.3" r="4.45" fill="#00ff00"/>
<circle cx="889.5" cy="1082.3" r="4.45" fill="#00ff00"/>
<circle cx="968.5" cy="1082.3" r="4.45" fill="#00ff00"/>
<circle cx="974.5" cy="1082.3" r="4.45" fill="#00ff00"/>
<circle cx="980.5" cy="1082.3" r="4.45" fill="#00ff00"/>
<circle cx="987.5" cy="1082.3" r="4.45" fill="#00ff00"/>
<circle cx="993.5" cy="1082.3" r="4.45" fill="#00ff00"/>
<circle cx="1023.5" cy="1082.3" r="4.45" fill="#00ff00"/>
<circle cx="1041.5" cy="1082.3" r="4.45" fill="#00ff00"/>
<circle cx="1060.5" cy="1082.3" r="4.45" fill="#00ff00"/>
<circle cx="1066.5" cy="1082.3" r="4.45" fill="#00ff00"/>
<circle cx="1072.5" cy="1082.3" r="4.45" fill="#00ff00"/>
<circle cx="1078.5" cy="1082.3" r="4.45" fill="#00ff00"/>
<circle cx="1084.5" cy="1082.3" r="4.45" fill="#00ff00"/>
<circle cx="1090.5" cy="1082.3" r="4.45" fill="#00ff00"/>
<circle cx="1237.5" cy="1082.3" r="4.45" fill="#00ff00"/>
<circle cx="1243.5" cy="1082.3" r="4.45" fill="#00ff00"/>
<circle cx="1249.5" cy="1082.3" r="4.45" fill="#00ff00"/>
<circle cx="1255.5" cy="1082.3" r="4.45" fill="#00ff00"/>
<circle cx="1261.5" cy="1082.3" r="4.45" fill="#00ff00"/>
<circle cx="1273.5" cy="1082.3" r="4.45" fill="#00ff00"/>
<circle cx="1279.5" cy="1082.3" r="4.45" fill="#00ff00"/>
<circle cx="1401.5" cy="1082.3" r="4.45" fill="#00ff00"/>
<circle cx="1407.5" cy="1082.3" r="4.45" fill="#00ff00"/>
<circle cx="1414.5" cy="1082.3" r="4.45" fill="#00ff00"/>
<circle cx="1420.5" cy="1082.3" r="4.45" fill="#00ff00"/>
<circle cx="1450.5" cy="1082.3" r="4.45" fill="#00ff00"/>
<circle cx="1456.5" cy="1082.3" r="4.45" fill="#00ff00"/>
<circle cx="1462.5" cy="1082.3" r="4.45" fill="#00ff00"/>
<circle cx="1468.5" cy="1082.3" r="4.45" fill="#00ff00"/>
<circle cx="1560.5" cy="1082.3" r="4.45" fill="#00ff00"/>
<circle cx="1566.5" cy="1082.3" r="4.45" fill="#00ff00"/>
<circle cx="1572.5" cy="1082.3" r="4.45" fill="#00ff00"/>
<circle cx="1578.5" cy="1082.3" r="4.45" fill="#00ff00"/>
<circle cx="1584.5" cy="1082.3" r="4.45" fill="#00ff00"/>
<circle cx="1590.5" cy="1082.3" r="4.45" fill="#00ff00"/>
<circle cx="1597.5" cy="1082.3" r="4.45" fill="#00ff00"/>
<circle cx="1694.5" cy="1082.3" r="4.45" fill="#00ff00"/>
<circle cx="1700.5" cy="1082.3" r="4.45" fill="#00ff00"/>
<circle cx="1706.5" cy="1082.3" r="4.45" fill="#00ff00"/>
<circle cx="1712.5" cy="1082.3" r="4.45" fill="#00ff00"/>
<circle cx="1731.5" cy="1082.3" r="4.45" fill="#00ff00"/>
<circle cx="1737.5" cy="1082.3" r="4.45" fill="#00ff00"/>
<circle cx="1810.5" cy="1082.3" r="4.45" fill="#00ff00"/>
<circle cx="1816.5" cy="1082.3" r="4.45" fill="#00ff00"/>
<circle cx="1822.5" cy="1082.3" r="4.45" fill="#00ff00"/>
<circle cx="1828.5" cy="1082.3" r="4.45" fill="#00ff00"/>
<circle cx="23.5" cy="1082.3" r="4.45" fill="#000000"/>
<circle cx="29.5" cy="1082.3" r="4.45" fill="#000000"/>
<circle cx="35.5" cy="1082.3" r="4.45" fill="#000000"/>
<circle cx="47.5" cy="1082.3" r="4.45" fill="#000000"/>
<circle cx="84.5" cy="1082.3" r="4.45" fill="#000000"/>
<circle cx="90.5" cy="1082.3" r="4.45" fill="#000000"/>
<circle cx="96.5" cy="1082.3" r="4.45" fill="#000000"/>
<circle cx="127.5" cy="1082.3" r="4.45" fill="#000000"/>
<circle cx="133.5" cy="1082.3" r="4.45" fill="#000000"/>
<circle cx="139.5" cy="1082.3" r="4.45" fill="#000000"/>
<circle cx="145.5" cy="1082.3" r="4.45" fill="#000000"/>
<circle cx="151.5" cy="1082.3" r="4.45" fill="#000000"/>
<circle cx="169.5" cy="1082.3" r="4.45" fill="#000000"/>
<circle cx="267.5" cy="1082.3" r="4.45" fill="#000000"/>
<circle cx="316.5" cy="1082.3" r="4.45" fill="#000000"/>
<circle cx="334.5" cy="1082.3" r="4.45" fill="#000000"/>
<circle cx="340.5" cy="1082.3" r="4.45" fill="#000000"/>
<circle cx="371.5" cy="1082.3" r="4.45" fill="#000000"/>
<circle cx="377.5" cy="1082.3" r="4.45" fill="#000000"/>
<circle cx="383.5" cy="1082.3" r="4.45" fill="#000000"/>
<circle cx="389.5" cy="1082.3" r="4.45" fill="#000000"/>
<circle cx="395.5" cy="1082.3" r="4.45" fill="#000000"/>
<circle cx="431.5" cy="1082.3" r="4.45" fill="#000000"/>
<circle cx="462.5" cy="1082.3" r="4.45" fill="#000000"/>
<circle cx="468.5" cy="1082.3" r="4.45" fill="#000000"/>
<circle cx="511.5" cy="1082.3" r="4.45" fill="#000000"/>
<circle cx="541.5" cy="1082.3" r="4.45" fill="#000000"/>
<circle cx="547.5" cy="1082.3" r="4.45" fill="#000000"/>
<circle cx="553.5" cy="1082.3" r="4.45" fill="#000000"/>
<circle cx="560.5" cy="1082.3" r="4.45" fill="#000000"/>
<circle cx="566.5" cy="1082.3" r="4.45" fill="#000000"/>
<circle cx="608.5" cy="1082.3" r="4.45" fill="#000000"/>
<circle cx="614.5" cy="1082.3" r="4.45" fill="#000000"/>
<circle cx="627.5" cy="1082.3" r="4.45" fill="#000000"/>
<circle cx="706.5" cy="1082.3" r="4.45" fill="#000000"/>
<circle cx="736.5" cy="1082.3" r="4.45" fill="#000000"/>
<circle cx="743.5" cy="1082.3" r="4.45" fill="#000000"/>
<circle cx="749.5" cy="1082.3" r="4.45" fill="#000000"/>
<circle cx="755.5" cy="1082.3" r="4.45" fill="#000000"/>
<circle cx="779.5" cy="1082.3" r="4.45" fill="#000000"/>
<circle cx="834.5" cy="1082.3" r="4.45" fill="#000000"/>
<circle cx="840.5" cy="1082.3" r="4.45" fill="#000000"/>
<circle cx="846.5" cy="1082.3" r="4.45" fill="#000000"/>
<circle cx="852.5" cy="1082.3" r="4.45" fill="#000000"/>
<circle cx="858.5" cy="1082.3" r="4.45" fill="#000000"/>
<circle cx="865.5" cy="1082.3" r="4.45" fill="#000000"/>
<circle cx="895.5" cy="1082.3" r="4.45" fill="#000000"/>
<circle cx="926.5" cy="1082.3" r="4.45" fill="#000000"/>
<circle cx="932.5" cy="1082.3" r="4.45" fill="#000000"/>
<circle cx="938.5" cy="1082.3" r="4.45" fill="#000000"/>
<circle cx="944.5" cy="1082.3" r="4.45" fill="#000000"/>
<circle cx="962.5" cy="1082.3" r="4.45" fill="#000000"/>
<circle cx="999.5" cy="1082.3" r="4.45" fill="#000000"/>
<circle cx="1005.5" cy="1082.3" r="4.45" fill="#000000"/>
<circle cx="1017.5" cy="1082.3" r="4.45" fill="#000000"/>
<circle cx="1048.5" cy="1082.3" r="4.45" fill="#000000"/>
<circle cx="1096.5" cy="1082.3" r="4.45" fill="#000000"/>
<circle cx="1127.5" cy="1082.3" r="4.45" fill="#000000"/>
<circle cx="1145.5" cy="1082.3" r="4.45" fill="#000000"/>
<circle cx="1151.5" cy="1082.3" r="4.45" fill="#000000"/>
<circle cx="1170.5" cy="1082.3" r="4.45" fill="#000000"/>
<circle cx="1176.5" cy="1082.3" r="4.45" fill="#000000"/>
<circle cx="1182.5" cy="1082.3" r="4.45" fill="#000000"/>
<circle cx="1188.5" cy="1082.3" r="4.45" fill="#000000"/>
<circle cx="1218.5" cy="1082.3" r="4.45" fill="#000000"/>
<circle cx="1224.5" cy="1082.3" r="4.45" fill="#000000"/>
<circle cx="1231.5" cy="1082.3" r="4.45" fill="#000000"/>
<circle cx="1267.5" cy="1082.3" r="4.45" fill="#000000"/>
<circle cx="1285.5" cy="1082.3" r="4.45" fill="#000000"/>
<circle cx="1322.5" cy="1082.3" r="4.45" fill="#000000"/>
<circle cx="1328.5" cy="1082.3" r="4.45" fill="#000000"/>
<circle cx="1334.5" cy="1082.3" r="4.45" fill="#000000"/>
<circle cx="1340.5" cy="1082.3" r="4.45" fill="#000000"/>
<circle cx="1346.5" cy="1082.3" r="4.45" fill="#000000"/>
<circle cx="1377.5" cy="1082.3" r="4.45" fill="#000000"/>
<circle cx="1383.5" cy="1082.3" r="4.45" fill="#000000"/>
<circle cx="1389.5" cy="1082.3" r="4.45" fill="#000000"/>
<circle cx="1395.5" cy="1082.3" r="4.45" fill="#000000"/>
<circle cx="1426.5" cy="1082.3" r="4.45" fill="#000000"/>
<circle cx="1432.5" cy="1082.3" r="4.45" fill="#000000"/>
<circle cx="1438.5" cy="1082.3" r="4.45" fill="#000000"/>
<circle cx="1444.5" cy="1082.3" r="4.45" fill="#000000"/>
<circle cx="1475.5" cy="1082.3" r="4.45" fill="#000000"/>
<circle cx="1481.5" cy="1082.3" r="4.45" fill="#000000"/>
<circle cx="1487.5" cy="1082.3" r="4.45" fill="#000000"/>
<circle cx="1493.5" cy="1082.3" r="4.45" fill="#000000"/>
<circle cx="1499.5" cy="1082.3" r="4.45" fill="#000000"/>
<circle cx="1505.5" cy="1082.3" r="4.45" fill="#000000"/>
<circle cx="1548.5" cy="1082.3" r="4.45" fill="#000000"/>
<circle cx="1554.5" cy="1082.3" r="4.45" fill="#000000"/>
<circle cx="1603.5" cy="1082.3" r="4.45" fill="#000000"/>
<circle cx="1609.5" cy="1082.3" r="4.45" fill="#000000"/>
<circle cx="1645.5" cy="1082.3" r="4.45" fill="#000000"/>
<circle cx="1651.5" cy="1082.3" r="4.45" fill="#000000"/>
<circle cx="1658.5" cy="1082.3" r="4.45" fill="#000000"/>
<circle cx="1664.5" cy="1082.3" r="4.45" fill="#000000"/>
<circle cx="1670.5" cy="1082.3" r="4.45" fill="#000000"/>
<circle cx="1688.5" cy="1082.3" r="4.45" fill="#000000"/>
<circle cx="1719.5" cy="1082.3" r="4.45" fill="#000000"/>
<circle cx="1725.5" cy="1082.3" r="4.45" fill="#000000"/>
<circle cx="1743.5" cy="1082.3" r="4.45" fill="#000000"/>
<circle cx="1773.5" cy="1082.3" r="4.45" fill="#000000"/>
<circle cx="1804.5" cy="1082.3" r="4.45" fill="#000000"/>
<circle cx="1834.5" cy="1082.3" r="4.45" fill="#000000"/>
<circle cx="41.5" cy="1082.3" r="4.45" fill="#ff0000"/>
<circle cx="53.5" cy="1082.3" r="4.45" fill="#ff0000"/>
<circle cx="59.5" cy="1082.3" r="4.45" fill="#ff0000"/>
<circle cx="66.5" cy="1082.3" r="4.45" fill="#ff0000"/>
<circle cx="72.5" cy="1082.3" r="4.45" fill="#ff0000"/>
<circle cx="78.5" cy="1082.3" r="4.45" fill="#ff0000"/>
<circle cx="102.5" cy="1082.3" r="4.45" fill="#ff0000"/>
<circle cx="108.5" cy="1082.3" r="4.45" fill="#ff0000"/>
<circle cx="114.5" cy="1082.3" r="4.45" fill="#ff0000"/>
<circle cx="120.5" cy="1082.3" r="4.45" fill="#ff0000"/>
<circle cx="157.5" cy="1082.3" r="4.45" fill="#ff0000"/>
<circle cx="163.5" cy="1082.3" r="4.45" fill="#ff0000"/>
<circle cx="188.5" cy="1082.3" r="4.45" fill="#ff0000"/>
<circle cx="194.5" cy="1082.3" r="4.45" fill="#ff0000"/>
<circle cx="200.5" cy="1082.3" r="4.45" fill="#ff0000"/>
<circle cx="206.5" cy="1082.3" r="4.45" fill="#ff0000"/>
<circle cx="230.5" cy="1082.3" r="4.45" fill="#ff0000"/>
<circle cx="236.5" cy="1082.3" r="4.45" fill="#ff0000"/>
<circle cx="242.5" cy="1082.3" r="4.45" fill="#ff0000"/>
<circle cx="249.5" cy="1082.3" r="4.45" fill="#ff0000"/>
<circle cx="255.5" cy="1082.3" r="4.45" fill="#ff0000"/>
<circle cx="261.5" cy="1082.3" r="4.45" fill="#ff0000"/>
<circle cx="303.5" cy="1082.3" r="4.45" fill="#ff0000"/>
<circle cx="310.5" cy="1082.3" r="4.45" fill="#ff0000"/>
<circle cx="322.5" cy="1082.3" r="4.45" fill="#ff0000"/>
<circle cx="328.5" cy="1082.3" r="4.45" fill="#ff0000"/>
<circle cx="438.5" cy="1082.3" r="4.45" fill="#ff0000"/>
<circle cx="444.5" cy="1082.3" r="4.45" fill="#ff0000"/>
<circle cx="450.5" cy="1082.3" r="4.45" fill="#ff0000"/>
<circle cx="456.5" cy="1082.3" r="4.45" fill="#ff0000"/>
<circle cx="486.5" cy="1082.3" r="4.45" fill="#ff0000"/>
<circle cx="492.5" cy="1082.3" r="4.45" fill="#ff0000"/>
<circle cx="499.5" cy="1082.3" r="4.45" fill="#ff0000"/>
<circle cx="505.5" cy="1082.3" r="4.45" fill="#ff0000"/>
<circle cx="572.5" cy="1082.3" r="4.45" fill="#ff0000"/>
<circle cx="621.5" cy="1082.3" r="4.45" fill="#ff0000"/>
<circle cx="633.5" cy="1082.3" r="4.45" fill="#ff0000"/>
<circle cx="639.5" cy="1082.3" r="4.45" fill="#ff0000"/>
<circle cx="657.5" cy="1082.3" r="4.45" fill="#ff0000"/>
<circle cx="663.5" cy="1082.3" r="4.45" fill="#ff0000"/>
<circle cx="669.5" cy="1082.3" r="4.45" fill="#ff0000"/>
<circle cx="675.5" cy="1082.3" r="4.45" fill="#ff0000"/>
<circle cx="712.5" cy="1082.3" r="4.45" fill="#ff0000"/>
<circle cx="718.5" cy="1082.3" r="4.45" fill="#ff0000"/>
<circle cx="724.5" cy="1082.3" r="4.45" fill="#ff0000"/>
<circle cx="730.5" cy="1082.3" r="4.45" fill="#ff0000"/>
<circle cx="785.5" cy="1082.3" r="4.45" fill="#ff0000"/>
<circle cx="791.5" cy="1082.3" r="4.45" fill="#ff0000"/>
<circle cx="797.5" cy="1082.3" r="4.45" fill="#ff0000"/>
<circle cx="804.5" cy="1082.3" r="4.45" fill="#ff0000"/>
<circle cx="810.5" cy="1082.3" r="4.45" fill="#ff0000"/>
<circle cx="816.5" cy="1082.3" r="4.45" fill="#ff0000"/>
<circle cx="822.5" cy="1082.3" r="4.45" fill="#ff0000"/>
<circle cx="828.5" cy="1082.3" r="4.45" fill="#ff0000"/>
<circle cx="871.5" cy="1082.3" r="4.45" fill="#ff0000"/>
<circle cx="901.5" cy="1082.3" r="4.45" fill="#ff0000"/>
<circle cx="907.5" cy="1082.3" r="4.45" fill="#ff0000"/>
<circle cx="913.5" cy="1082.3" r="4.45" fill="#ff0000"/>
<circle cx="919.5" cy="1082.3" r="4.45" fill="#ff0000"/>
<circle cx="950.5" cy="1082.3" r="4.45" fill="#ff0000"/>
<circle cx="956.5" cy="1082.3" r="4.45" fill="#ff0000"/>
<circle cx="1011.5" cy="1082.3" r="4.45" fill="#ff0000"/>
<circle cx="1029.5" cy="1082.3" r="4.45" fill="#ff0000"/>
<circle cx="1035.5" cy="1082.3" r="4.45" fill="#ff0000"/>
<circle cx="1054.5" cy="1082.3" r="4.45" fill="#ff0000"/>
<circle cx="1102.5" cy="1082.3" r="4.45" fill="#ff0000"/>
<circle cx="1109.5" cy="1082.3" r="4.45" fill="#ff0000"/>
<circle cx="1115.5" cy="1082.3" r="4.45" fill="#ff0000"/>
<circle cx="1121.5" cy="1082.3" r="4.45" fill="#ff0000"/>
<circle cx="1133.5" cy="1082.3" r="4.45" fill="#ff0000"/>
<circle cx="1139.5" cy="1082.3" r="4.45" fill="#ff0000"/>
<circle cx="1157.5" cy="1082.3" r="4.45" fill="#ff0000"/>
<circle cx="1163.5" cy="1082.3" r="4.45" fill="#ff0000"/>
<circle cx="1194.5" cy="1082.3" r="4.45" fill="#ff0000"/>
<circle cx="1200.5" cy="1082.3" r="4.45" fill="#ff0000"/>
<circle cx="1206.5" cy="1082.3" r="4.45" fill="#ff0000"/>
<circle cx="1212.5" cy="1082.3" r="4.45" fill="#ff0000"/>
<circle cx="1292.5" cy="1082.3" r="4.45" fill="#ff0000"/>
<circle cx="1298.5" cy="1082.3" r="4.45" fill="#ff0000"/>
<circle cx="1304.5" cy="1082.3" r="4.45" fill="#ff0000"/>
<circle cx="1310.5" cy="1082.3" r="4.45" fill="#ff0000"/>
<circle cx="1316.5" cy="1082.3" r="4.45" fill="#ff0000"/>
<circle cx="1353.5" cy="1082.3" r="4.45" fill="#ff0000"/>
<circle cx="1359.5" cy="1082.3" r="4.45" fill="#ff0000"/>
<circle cx="1365.5" cy="1082.3" r="4.45" fill="#ff0000"/>
<circle cx="1371.5" cy="1082.3" r="4.45" fill="#ff0000"/>
<circle cx="1511.5" cy="1082.3" r="4.45" fill="#ff0000"/>
<circle cx="1517.5" cy="1082.3" r="4.45" fill="#ff0000"/>
<circle cx="1523.5" cy="1082.3" r="4.45" fill="#ff0000"/>
<circle cx="1529.5" cy="1082.3" r="4.45" fill="#ff0000"/>
<circle cx="1536.5" cy="1082.3" r="4.45" fill="#ff0000"/>
<circle cx="1542.5" cy="1082.3" r="4.45" fill="#ff0000"/>
<circle cx="1615.5" cy="1082.3" r="4.45" fill="#ff0000"/>
<circle cx="1621.5" cy="1082.3" r="4.45" fill="#ff0000"/>
<circle cx="1627.5" cy="1082.3" r="4.45" fill="#ff0000"/>
<circle cx="1633.5" cy="1082.3" r="4.45" fill="#ff0000"/>
<circle cx="1639.5" cy="1082.3" r="4.45" fill="#ff0000"/>
<circle cx="1676.5" cy="1082.3" r="4.45" fill="#ff0000"/>
<circle cx="1682.5" cy="1082.3" r="4.45" fill="#ff0000"/>
<circle cx="1749.5" cy="1082.3" r="4.45" fill="#ff0000"/>
<circle cx="1755.5" cy="1082.3" r="4.45" fill="#ff0000"/>
<circle cx="1761.5" cy="1082.3" r="4.45" fill="#ff0000"/>
<circle cx="1767.5" cy="1082.3" r="4.45" fill="#ff0000"/>
<circle cx="1780.5" cy="1082.3" r="4.45" fill="#ff0000"/>
<circle cx="1786.5" cy="1082.3" r="4.45" fill="#ff0000"/>
<circle cx="1792.5" cy="1082.3" r="4.45" fill="#ff0000"/>
<circle cx="1798.5" cy="1082.3" r="4.45" fill="#ff0000"/>
<circle cx="1841.5" cy="1082.3" r="4.45" fill="#ff0000"/>
<circle cx="1847.5" cy="1082.3" r="4.45" fill="#ff0000"/>
<circle cx="1853.5" cy="1082.3" r="4.45" fill="#ff0000"/>
<circle cx="1859.5" cy="1082.3" r="4.45" fill="#ff0000"/>
<circle cx="35.5" cy="1092.3" r="4.45" fill="#00ff00"/>
<circle cx="41.5" cy="1092.3" r="4.45" fill="#00ff00"/>
<circle cx="47.5" cy="1092.3" r="4.45" fill="#00ff00"/>
<circle cx="53.5" cy="1092.3" r="4.45" fill="#00ff00"/>
<circle cx="59.5" cy="1092.3" r="4.45" fill="#00ff00"/>
<circle cx="66.5" cy="1092.3" r="4.45" fill="#00ff00"/>
<circle cx="72.5" cy="1092.3" r="4.45" fill="#00ff00"/>
<circle cx="78.5" cy="1092.3" r="4.45" fill="#00ff00"/>
<circle cx="84.5" cy="1092.3" r="4.45" fill="#00ff00"/>
<circle cx="90.5" cy="1092.3" r="4.45" fill="#00ff00"/>
<circle cx="96.5" cy="1092.3" r="4.45" fill="#00ff00"/>
<circle cx="102.5" cy="1092.3" r="4.45" fill="#00ff00"/>
<circle cx="139.5" cy="1092.3" r="4.45" fill="#00ff00"/>
<circle cx="584.5" cy="1092.3" r="4.45" fill="#00ff00"/>
<circle cx="590.5" cy="1092.3" r="4.45" fill="#00ff00"/>
<circle cx="596.5" cy="1092.3" r="4.45" fill="#00ff00"/>
<circle cx="602.5" cy="1092.3" r="4.45" fill="#00ff00"/>
<circle cx="608.5" cy="1092.3" r="4.45" fill="#00ff00"/>
<circle cx="614.5" cy="1092.3" r="4.45" fill="#00ff00"/>
<circle cx="621.5" cy="1092.3" r="4.45" fill="#00ff00"/>
<circle cx="627.5" cy="1092.3" r="4.45" fill="#00ff00"/>
<circle cx="633.5" cy="1092.3" r="4.45" fill="#00ff00"/>
<circle cx="639.5" cy="1092.3" r="4.45" fill="#00ff00"/>
<circle cx="645.5" cy="1092.3" r="4.45" fill="#00ff00"/>
<circle cx="651.5" cy="1092.3" r="4.45" fill="#00ff00"/>
<circle cx="657.5" cy="1092.3" r="4.45" fill="#00ff00"/>
<circle cx="663.5" cy="1092.3" r="4.45" fill="#00ff00"/>
<circle cx="669.5" cy="1092.3" r="4.45" fill="#00ff00"/>
<circle cx="675.5" cy="1092.3" r="4.45" fill="#00ff00"/>
<circle cx="682.5" cy="1092.3" r="4.45" fill="#00ff00"/>
<circle cx="688.5" cy="1092.3" r="4.45" fill="#00ff00"/>
<circle cx="694.5" cy="1092.3" r="4.45" fill="#00ff00"/>
<circle cx="700.5" cy="1092.3" r="4.45" fill="#00ff00"/>
<circle cx="706.5" cy="1092.3" r="4.45" fill="#00ff00"/>
<circle cx="712.5" cy="1092.3" r="4.45" fill="#00ff00"/>
<circle cx="718.5" cy="1092.3" r="4.45" fill="#00ff00"/>
<circle cx="724.5" cy="1092.3" r="4.45" fill="#00ff00"/>
<circle cx="730.5" cy="1092.3" r="4.45" fill="#00ff00"/>
<circle cx="736.5" cy="1092.3" r="4.45" fill="#00ff00"/>
<circle cx="743.5" cy="1092.3" r="4.45" fill="#00ff00"/>
<circle cx="749.5" cy="1092.3" r="4.45" fill="#00ff00"/>
<circle cx="755.5" cy="1092.3" r="4.45" fill="#00ff00"/>
<circle cx="761.5" cy="1092.3" r="4.45" fill="#00ff00"/>
<circle cx="767.5" cy="1092.3" r="4.45" fill="#00ff00"/>
<circle cx="773.5" cy="1092.3" r="4.45" fill="#00ff00"/>
<circle cx="779.5" cy="1092.3" r="4.45" fill="#00ff00"/>
<circle cx="785.5" cy="1092.3" r="4.45" fill="#00ff00"/>
<circle cx="791.5" cy="1092.3" r="4.45" fill="#00ff00"/>
<circle cx="797.5" cy="1092.3" r="4.45" fill="#00ff00"/>
<circle cx="804.5" cy="1092.3" r="4.45" fill="#00ff00"/>
<circle cx="810.5" cy="1092.3" r="4.45" fill="#00ff00"/>
<circle cx="816.5" cy="1092.3" r="4.45" fill="#00ff00"/>
<circle cx="822.5" cy="1092.3" r="4.45" fill="#00ff00"/>
<circle cx="828.5" cy="1092.3" r="4.45" fill="#00ff00"/>
<circle cx="834.5" cy="1092.3" r="4.45" fill="#00ff00"/>
<circle cx="840.5" cy="1092.3" r="4.45" fill="#00ff00"/>
<circle cx="846.5" cy="1092.3" r="4.45" fill="#00ff00"/>
<circle cx="852.5" cy="1092.3" r="4.45" fill="#00ff00"/>
<circle cx="858.5" cy="1092.3" r="4.45" fill="#00ff00"/>
<circle cx="865.5" cy="1092.3" r="4.45" fill="#00ff00"/>
<circle cx="871.5" cy="1092.3" r="4.45" fill="#00ff00"/>
<circle cx="877.5" cy="1092.3" r="4.45" fill="#00ff00"/>
<circle cx="883.5" cy="1092.3" r="4.45" fill="#00ff00"/>
<circle cx="889.5" cy="1092.3" r="4.45" fill="#00ff00"/>
<circle cx="895.5" cy="1092.3" r="4.45" fill="#00ff00"/>
<circle cx="901.5" cy="1092.3" r="4.45" fill="#00ff00"/>
<circle cx="907.5" cy="1092.3" r="4.45" fill="#00ff00"/>
<circle cx="913.5" cy="1092.3" r="4.45" fill="#00ff00"/>
<circle cx="919.5" cy="1092.3" r="4.45" fill="#00ff00"/>
<circle cx="926.5" cy="1092.3" r="4.45" fill="#00ff00"/>
<circle cx="932.5" cy="1092.3" r="4.45" fill="#00ff00"/>
<circle cx="938.5" cy="1092.3" r="4.45" fill="#00ff00"/>
<circle cx="944.5" cy="1092.3" r="4.45" fill="#00ff00"/>
<circle cx="950.5" cy="1092.3" r="4.45" fill="#00ff00"/>
<circle cx="956.5" cy="1092.3" r="4.45" fill="#00ff00"/>
<circle cx="962.5" cy="1092.3" r="4.45" fill="#00ff00"/>
<circle cx="968.5" cy="1092.3" r="4.45" fill="#00ff00"/>
<circle cx="974.5" cy="1092.3" r="4.45" fill="#00ff00"/>
<circle cx="980.5" cy="1092.3" r="4.45" fill="#00ff00"/>
<circle cx="1017.5" cy="1092.3" r="4.45" fill="#00ff00"/>
<circle cx="1023.5" cy="1092.3" r="4.45" fill="#00ff00"/>
<circle cx="1029.5" cy="1092.3" r="4.45" fill="#00ff00"/>
<circle cx="1035.5" cy="1092.3" r="4.45" fill="#00ff00"/>
<circle cx="1041.5" cy="1092.3" r="4.45" fill="#00ff00"/>
<circle cx="1048.5" cy="1092.3" r="4.45" fill="#00ff00"/>
<circle cx="1054.5" cy="1092.3" r="4.45" fill="#00ff00"/>
<circle cx="1060.5" cy="1092.3" r="4.45" fill="#00ff00"/>
<circle cx="1066.5" cy="1092.3" r="4.45" fill="#00ff00"/>
<circle cx="1072.5" cy="1092.3" r="4.45" fill="#00ff00"/>
<circle cx="1078.5" cy="1092.3" r="4.45" fill="#00ff00"/>
<circle cx="1084.5" cy="1092.3" r="4.45" fill="#00ff00"/>
<circle cx="1090.5" cy="1092.3" r="4.45" fill="#00ff00"/>
<circle cx="1096.5" cy="1092.3" r="4.45" fill="#00ff00"/>
<circle cx="1102.5" cy="1092.3" r="4.45" fill="#00ff00"/>
<circle cx="1109.5" cy="1092.3" r="4.45" fill="#00ff00"/>
<circle cx="1115.5" cy="1092.3" r="4.45" fill="#00ff00"/>
<circle cx="1121.5" cy="1092.3" r="4.45" fill="#00ff00"/>
<circle cx="1127.5" cy="1092.3" r="4.45" fill="#00ff00"/>
<circle cx="1133.5" cy="1092.3" r="4.45" fill="#00ff00"/>
<circle cx="1139.5" cy="1092.3" r="4.45" fill="#00ff00"/>
<circle cx="1145.5" cy="1092.3" r="4.45" fill="#00ff00"/>
<circle cx="1151.5" cy="1092.3" r="4.45" fill="#00ff00"/>
<circle cx="1157.5" cy="1092.3" r="4.45" fill="#00ff00"/>
<circle cx="1163.5" cy="1092.3" r="4.45" fill="#00ff00"/>
<circle cx="1170.5" cy="1092.3" r="4.45" fill="#00ff00"/>
<circle cx="1176.5" cy="1092.3" r="4.45" fill="#00ff00"/>
<circle cx="1182.5" cy="1092.3" r="4.45" fill="#00ff00"/>
<circle cx="1188.5" cy="1092.3" r="4.45" fill="#00ff00"/>
<circle cx="1194.5" cy="1092.3" r="4.45" fill="#00ff00"/>
<circle cx="1200.5" cy="1092.3" r="4.45" fill="#00ff00"/>
<circle cx="1206.5" cy="1092.3" r="4.45" fill="#00ff00"/>
<circle cx="1212.5" cy="1092.3" r="4.45" fill="#00ff00"/>
<circle cx="1218.5" cy="1092.3" r="4.45" fill="#00ff00"/>
<circle cx="1224.5" cy="1092.3" r="4.45" fill="#00ff00"/>
<circle cx="1231.5" cy="1092.3" r="4.45" fill="#00ff00"/>
<circle cx="1237.5" cy="1092.3" r="4.45" fill="#00ff00"/>
<circle cx="1243.5" cy="1092.3" r="4.45" fill="#00ff00"/>
<circle cx="1249.5" cy="1092.3" r="4.45" fill="#00ff00"/>
<circle cx="1255.5" cy="1092.3" r="4.45" fill="#00ff00"/>
<circle cx="1261.5" cy="1092.3" r="4.45" fill="#00ff00"/>
<circle cx="1267.5" cy="1092.3" r="4.45" fill="#00ff00"/>
<circle cx="1273.5" cy="1092.3" r="4.45" fill="#00ff00"/>
<circle cx="1279.5" cy="1092.3" r="4.45" fill="#00ff00"/>
<circle cx="1285.5" cy="1092.3" r="4.45" fill="#00ff00"/>
<circle cx="1292.5" cy="1092.3" r="4.45" fill="#00ff00"/>
<circle cx="1298.5" cy="1092.3" r="4.45" fill="#00ff00"/>
<circle cx="1304.5" cy="1092.3" r="4.45" fill="#00ff00"/>
<circle cx="1310.5" cy="1092.3" r="4.45" fill="#00ff00"/>
<circle cx="1316.5" cy="1092.3" r="4.45" fill="#00ff00"/>
<circle cx="1322.5" cy="1092.3" r="4.45" fill="#00ff00"/>
<circle cx="1328.5" cy="1092.3" r="4.45" fill="#00ff00"/>
<circle cx="1334.5" cy="1092.3" r="4.45" fill="#00ff00"/>
<circle cx="1340.5" cy="1092.3" r="4.45" fill="#00ff00"/>
<circle cx="1584.5" cy="1092.3" r="4.45" fill="#00ff00"/>
<circle cx="1590.5" cy="1092.3" r="4.45" fill="#00ff00"/>
<circle cx="1597.5" cy="1092.3" r="4.45" fill="#00ff00"/>
<circle cx="1603.5" cy="1092.3" r="4.45" fill="#00ff00"/>
<circle cx="1609.5" cy="1092.3" r="4.45" fill="#00ff00"/>
<circle cx="1615.5" cy="1092.3" r="4.45" fill="#00ff00"/>
<circle cx="1621.5" cy="1092.3" r="4.45" fill="#00ff00"/>
<circle cx="23.5" cy="1092.3" r="4.45" fill="#ffffff"/>
<circle cx="29.5" cy="1092.3" r="4.45" fill="#ffffff"/>
<circle cx="1627.5" cy="1092.3" r="4.45" fill="#ffffff"/>
<circle cx="1633.5" cy="1092.3" r="4.45" fill="#ffffff"/>
<circle cx="1639.5" cy="1092.3" r="4.45" fill="#ffffff"/>
<circle cx="1645.5" cy="1092.3" r="4.45" fill="#ffffff"/>
<circle cx="1651.5" cy="1092.3" r="4.45" fill="#ffffff"/>
<circle cx="11.5" cy="1092.3" r="4.45" fill="#ff0000"/>
<circle cx="17.5" cy="1092.3" r="4.45" fill="#ff0000"/>
<circle cx="108.5" cy="1092.3" r="4.45" fill="#ff0000"/>
<circle cx="114.5" cy="1092.3" r="4.45" fill="#ff0000"/>
<circle cx="120.5" cy="1092.3" r="4.45" fill="#ff0000"/>
<circle cx="127.5" cy="1092.3" r="4.45" fill="#ff0000"/>
<circle cx="133.5" cy="1092.3" r="4.45" fill="#ff0000"/>
<circle cx="145.5" cy="1092.3" r="4.45" fill="#ff0000"/>
<circle cx="151.5" cy="1092.3" r="4.45" fill="#ff0000"/>
<circle cx="157.5" cy="1092.3" r="4.45" fill="#ff0000"/>
<circle cx="163.5" cy="1092.3" r="4.45" fill="#ff0000"/>
<circle cx="169.5" cy="1092.3" r="4.45" fill="#ff0000"/>
<circle cx="175.5" cy="1092.3" r="4.45" fill="#ff0000"/>
<circle cx="181.5" cy="1092.3" r="4.45" fill="#ff0000"/>
<circle cx="188.5" cy="1092.3" r="4.45" fill="#ff0000"/>
<circle cx="194.5" cy="1092.3" r="4.45" fill="#ff0000"/>
<circle cx="200.5" cy="1092.3" r="4.45" fill="#ff0000"/>
<circle cx="206.5" cy="1092.3" r="4.45" fill="#ff0000"/>
<circle cx="212.5" cy="1092.3" r="4.45" fill="#ff0000"/>
<circle cx="218.5" cy="1092.3" r="4.45" fill="#ff0000"/>
<circle cx="224.5" cy="1092.3" r="4.45" fill="#ff0000"/>
<circle cx="230.5" cy="1092.3" r="4.45" fill="#ff0000"/>
<circle cx="236.5" cy="1092.3" r="4.45" fill="#ff0000"/>
<circle cx="242.5" cy="1092.3" r="4.45" fill="#ff0000"/>
<circle cx="249.5" cy="1092.3" r="4.45" fill="#ff0000"/>
<circle cx="255.5" cy="1092.3" r="4.45" fill="#ff0000"/>
<circle cx="261.5" cy="1092.3" r="4.45" fill="#ff0000"/>
<circle cx="267.5" cy="1092.3" r="4.45" fill="#ff0000"/>
<circle cx="273.5" cy="1092.3" r="4.45" fill="#ff0000"/>
<circle cx="279.5" cy="1092.3" r="4.45" fill="#ff0000"/>
<circle cx="285.5" cy="1092.3" r="4.45" fill="#ff0000"/>
<circle cx="291.5" cy="1092.3" r="4.45" fill="#ff0000"/>
<circle cx="297.5" cy="1092.3" r="4.45" fill="#ff0000"/>
<circle cx="303.5" cy="1092.3" r="4.45" fill="#ff0000"/>
<circle cx="310.5" cy="1092.3" r="4.45" fill="#ff0000"/>
<circle cx="316.5" cy="1092.3" r="4.45" fill="#ff0000"/>
<circle cx="322.5" cy="1092.3" r="4.45" fill="#ff0000"/>
<circle cx="328.5" cy="1092.3" r="4.45" fill="#ff0000"/>
<circle cx="334.5" cy="1092.3" r="4.45" fill="#ff0000"/>
<circle cx="340.5" cy="1092.3" r="4.45" fill="#ff0000"/>
<circle cx="346.5" cy="1092.3" r="4.45" fill="#ff0000"/>
<circle cx="352.5" cy="1092.3" r="4.45" fill="#ff0000"/>
<circle cx="358.5" cy="1092.3" r="4.45" fill="#ff0000"/>
<circle cx="364.5" cy="1092.3" r="4.45" fill="#ff0000"/>
<circle cx="371.5" cy="1092.3" r="4.45" fill="#ff0000"/>
<circle cx="377.5" cy="1092.3" r="4.45" fill="#ff0000"/>
<circle cx="383.5" cy="1092.3" r="4.45" fill="#ff0000"/>
<circle cx="389.5" cy="1092.3" r="4.45" fill="#ff0000"/>
<circle cx="395.5" cy="1092.3" r="4.45" fill="#ff0000"/>
<circle cx="401.5" cy="1092.3" r="4.45" fill="#ff0000"/>
<circle cx="407.5" cy="1092.3" r="4.45" fill="#ff0000"/>
<circle cx="413.5" cy="1092.3" r="4.45" fill="#ff0000"/>
<circle cx="419.5" cy="1092.3" r="4.45" fill="#ff0000"/>
<circle cx="425.5" cy="1092.3" r="4.45" fill="#ff0000"/>
<circle cx="431.5" cy="1092.3" r="4.45" fill="#ff0000"/>
<circle cx="438.5" cy="1092.3" r="4.45" fill="#ff0000"/>
<circle cx="444.5" cy="1092.3" r="4.45" fill="#ff0000"/>
<circle cx="450.5" cy="1092.3" r="4.45" fill="#ff0000"/>
<circle cx="456.5" cy="1092.3" r="4.45" fill="#ff0000"/>
<circle cx="462.5" cy="1092.3" r="4.45" fill="#ff0000"/>
<circle cx="468.5" cy="1092.3" r="4.45" fill="#ff0000"/>
<circle cx="474.5" cy="1092.3" r="4.45" fill="#ff0000"/>
<circle cx="480.5" cy="1092.3" r="4.45" fill="#ff0000"/>
<circle cx="486.5" cy="1092.3" r="4.45" fill="#ff0000"/>
<circle cx="492.5" cy="1092.3" r="4.45" fill="#ff0000"/>
<circle cx="499.5" cy="1092.3" r="4.45" fill="#ff0000"/>
<circle cx="505.5" cy="1092.3" r="4.45" fill="#ff0000"/>
<circle cx="511.5" cy="1092.3" r="4.45" fill="#ff0000"/>
<circle cx="517.5" cy="1092.3" r="4.45" fill="#ff0000"/>
<circle cx="523.5" cy="1092.3" r="4.45" fill="#ff0000"/>
<circle cx="529.5" cy="1092.3" r="4.45" fill="#ff0000"/>
<circle cx="535.5" cy="1092.3" r="4.45" fill="#ff0000"/>
<circle cx="541.5" cy="1092.3" r="4.45" fill="#ff0000"/>
<circle cx="547.5" cy="1092.3" r="4.45" fill="#ff0000"/>
<circle cx="553.5" cy="1092.3" r="4.45" fill="#ff0000"/>
<circle cx="560.5" cy="1092.3" r="4.45" fill="#ff0000"/>
<circle cx="566.5" cy="1092.3" r="4.45" fill="#ff0000"/>
<circle cx="572.5" cy="1092.3" r="4.45" fill="#ff0000"/>
<circle cx="578.5" cy="1092.3" r="4.45" fill="#ff0000"/>
<circle cx="987.5" cy="1092.3" r="4.45" fill="#ff0000"/>
<circle cx="993.5" cy="1092.3" r="4.45" fill="#ff0000"/>
<circle cx="999.5" cy="1092.3" r="4.45" fill="#ff0000"/>
<circle cx="1005.5" cy="1092.3" r="4.45" fill="#ff0000"/>
<circle cx="1011.5" cy="1092.3" r="4.45" fill="#ff0000"/>
<circle cx="1346.5" cy="1092.3" r="4.45" fill="#ff0000"/>
<circle cx="1353.5" cy="1092.3" r="4.45" fill="#ff0000"/>
<circle cx="1359.5" cy="1092.3" r="4.45" fill="#ff0000"/>
<circle cx="1365.5" cy="1092.3" r="4.45" fill="#ff0000"/>
<circle cx="1371.5" cy="1092.3" r="4.45" fill="#ff0000"/>
<circle cx="1377.5" cy="1092.3" r="4.45" fill="#ff0000"/>
<circle cx="1383.5" cy="1092.3" r="4.45" fill="#ff0000"/>
<circle cx="1389.5" cy="1092.3" r="4.45" fill="#ff0000"/>
<circle cx="1395.5" cy="1092.3" r="4.45" fill="#ff0000"/>
<circle cx="1401.5" cy="1092.3" r="4.45" fill="#ff0000"/>
<circle cx="1407.5" cy="1092.3" r="4.45" fill="#ff0000"/>
<circle cx="1414.5" cy="1092.3" r="4.45" fill="#ff0000"/>
<circle cx="1420.5" cy="1092.3" r="4.45" fill="#ff0000"/>
<circle cx="1426.5" cy="1092.3" r="4.45" fill="#ff0000"/>
<circle cx="1432.5" cy="1092.3" r="4.45" fill="#ff0000"/>
<circle cx="1438.5" cy="1092.3" r="4.45" fill="#ff0000"/>
<circle cx="1444.5" cy="1092.3" r="4.45" fill="#ff0000"/>
<circle cx="1450.5" cy="1092.3" r="4.45" fill="#ff0000"/>
<circle cx="1456.5" cy="1092.3" r="4.45" fill="#ff0000"/>
<circle cx="1462.5" cy="1092.3" r="4.45" fill="#ff0000"/>
<circle cx="1468.5" cy="1092.3" r="4.45" fill="#ff0000"/>
<circle cx="1475.5" cy="1092.3" r="4.45" fill="#ff0000"/>
<circle cx="1481.5" cy="1092.3" r="4.45" fill="#ff0000"/>
<circle cx="1487.5" cy="1092.3" r="4.45" fill="#ff0000"/>
<circle cx="1493.5" cy="1092.3" r="4.45" fill="#ff0000"/>
<circle cx="1499.5" cy="1092.3" r="4.45" fill="#ff0000"/>
<circle cx="1505.5" cy="1092.3" r="4.45" fill="#ff0000"/>
<circle cx="1511.5" cy="1092.3" r="4.45" fill="#ff0000"/>
<circle cx="1517.5" cy="1092.3" r="4.45" fill="#ff0000"/>
<circle cx="1523.5" cy="1092.3" r="4.45" fill="#ff0000"/>
<circle cx="1529.5" cy="1092.3" r="4.45" fill="#ff0000"/>
<circle cx="1536.5" cy="1092.3" r="4.45" fill="#ff0000"/>
<circle cx="1542.5" cy="1092.3" r="4.45" fill="#ff0000"/>
<circle cx="1548.5" cy="1092.3" r="4.45" fill="#ff0000"/>
<circle cx="1554.5" cy="1092.3" r="4.45" fill="#ff0000"/>
<circle cx="1560.5" cy="1092.3" r="4.45" fill="#ff0000"/>
<circle cx="1566.5" cy="1092.3" r="4.45" fill="#ff0000"/>
<circle cx="1572.5" cy="1092.3" r="4.45" fill="#ff0000"/>
<circle cx="1578.5" cy="1092.3" r="4.45" fill="#ff0000"/>
<circle cx="1658.5" cy="1092.3" r="4.45" fill="#ff0000"/>
<circle cx="1664.5" cy="1092.3" r="4.45" fill="#ff0000"/>
<circle cx="1670.5" cy="1092.3" r="4.45" fill="#ff0000"/>
<circle cx="1676.5" cy="1092.3" r="4.45" fill="#ff0000"/>
<circle cx="1682.5" cy="1092.3" r="4.45" fill="#ff0000"/>
<circle cx="1688.5" cy="1092.3" r="4.45" fill="#ff0000"/>
<circle cx="1694.5" cy="1092.3" r="4.45" fill="#ff0000"/>
<circle cx="1700.5" cy="1092.3" r="4.45" fill="#ff0000"/>
<circle cx="1706.5" cy="1092.3" r="4.45" fill="#ff0000"/>
<circle cx="1712.5" cy="1092.3" r="4.45" fill="#ff0000"/>
<circle cx="1719.5" cy="1092.3" r="4.45" fill="#ff0000"/>
<circle cx="1725.5" cy="1092.3" r="4.45" fill="#ff0000"/>
<circle cx="1731.5" cy="1092.3" r="4.45" fill="#ff0000"/>
<circle cx="1737.5" cy="1092.3" r="4.45" fill="#ff0000"/>
<circle cx="1743.5" cy="1092.3" r="4.45" fill="#ff0000"/>
<circle cx="1749.5" cy="1092.3" r="4.45" fill="#ff0000"/>
<circle cx="1755.5" cy="1092.3" r="4.45" fill="#ff0000"/>
<circle cx="1761.5" cy="1092.3" r="4.45" fill="#ff0000"/>
<circle cx="1767.5" cy="1092.3" r="4.45" fill="#ff0000"/>
<circle cx="1773.5" cy="1092.3" r="4.45" fill="#ff0000"/>
<circle cx="1780.5" cy="1092.3" r="4.45" fill="#ff0000"/>
<circle cx="1786.5" cy="1092.3" r="4.45" fill="#ff0000"/>
<circle cx="1792.5" cy="1092.3" r="4.45" fill="#ff0000"/>
<circle cx="1798.5" cy="1092.3" r="4.45" fill="#ff0000"/>
<circle cx="1804.5" cy="1092.3" r="4.45" fill="#ff0000"/>
<circle cx="1810.5" cy="1092.3" r="4.45" fill="#ff0000"/>
<circle cx="1816.5" cy="1092.3" r="4.45" fill="#ff0000"/>
<circle cx="1822.5" cy="1092.3" r="4.45" fill="#ff0000"/>
<circle cx="1828.5" cy="1092.3" r="4.45" fill="#ff0000"/>
<circle cx="1834.5" cy="1092.3" r="4.45" fill="#ff0000"/>
<circle cx="1841.5" cy="1092.3" r="4.45" fill="#ff0000"/>
<circle cx="1847.5" cy="1092.3" r="4.45" fill="#ff0000"/>
<circle cx="1853.5" cy="1092.3" r="4.45" fill="#ff0000"/>
<circle cx="1859.5" cy="1092.3" r="4.45" fill="#ff0000"/>
<circle cx="66.5" cy="1101.3" r="4.45" fill="#000000"/>
<circle cx="72.5" cy="1101.3" r="4.45" fill="#000000"/>
<circle cx="78.5" cy="1101.3" r="4.45" fill="#000000"/>
<circle cx="84.5" cy="1101.3" r="4.45" fill="#000000"/>
<circle cx="90.5" cy="1101.3" r="4.45" fill="#000000"/>
<circle cx="96.5" cy="1101.3" r="4.45" fill="#000000"/>
<circle cx="102.5" cy="1101.3" r="4.45" fill="#000000"/>
<circle cx="108.5" cy="1101.3" r="4.45" fill="#000000"/>
<circle cx="114.5" cy="1101.3" r="4.45" fill="#000000"/>
<circle cx="218.5" cy="1101.3" r="4.45" fill="#000000"/>
<circle cx="224.5" cy="1101.3" r="4.45" fill="#000000"/>
<circle cx="230.5" cy="1101.3" r="4.45" fill="#000000"/>
<circle cx="236.5" cy="1101.3" r="4.45" fill="#000000"/>
<circle cx="285.5" cy="1101.3" r="4.45" fill="#000000"/>
<circle cx="291.5" cy="1101.3" r="4.45" fill="#000000"/>
<circle cx="297.5" cy="1101.3" r="4.45" fill="#000000"/>
<circle cx="303.5" cy="1101.3" r="4.45" fill="#000000"/>
<circle cx="310.5" cy="1101.3" r="4.45" fill="#000000"/>
<circle cx="316.5" cy="1101.3" r="4.45" fill="#000000"/>
<circle cx="352.5" cy="1101.3" r="4.45" fill="#000000"/>
<circle cx="358.5" cy="1101.3" r="4.45" fill="#000000"/>
<circle cx="364.5" cy="1101.3" r="4.45" fill="#000000"/>
<circle cx="371.5" cy="1101.3" r="4.45" fill="#000000"/>
<circle cx="377.5" cy="1101.3" r="4.45" fill="#000000"/>
<circle cx="383.5" cy="1101.3" r="4.45" fill="#000000"/>
<circle cx="389.5" cy="1101.3" r="4.45" fill="#000000"/>
<circle cx="395.5" cy="1101.3" r="4.45" fill="#000000"/>
<circle cx="401.5" cy="1101.3" r="4.45" fill="#000000"/>
<circle cx="407.5" cy="1101.3" r="4.45" fill="#000000"/>
<circle cx="413.5" cy="1101.3" r="4.45" fill="#000000"/>
<circle cx="419.5" cy="1101.3" r="4.45" fill="#000000"/>
<circle cx="480.5" cy="1101.3" r="4.45" fill="#000000"/>
<circle cx="523.5" cy="1101.3" r="4.45" fill="#000000"/>
<circle cx="529.5" cy="1101.3" r="4.45" fill="#000000"/>
<circle cx="535.5" cy="1101.3" r="4.45" fill="#000000"/>
<circle cx="663.5" cy="1101.3" r="4.45" fill="#000000"/>
<circle cx="669.5" cy="1101.3" r="4.45" fill="#000000"/>
<circle cx="675.5" cy="1101.3" r="4.45" fill="#000000"/>
<circle cx="682.5" cy="1101.3" r="4.45" fill="#000000"/>
<circle cx="724.5" cy="1101.3" r="4.45" fill="#000000"/>
<circle cx="730.5" cy="1101.3" r="4.45" fill="#000000"/>
<circle cx="736.5" cy="1101.3" r="4.45" fill="#000000"/>
<circle cx="743.5" cy="1101.3" r="4.45" fill="#000000"/>
<circle cx="749.5" cy="1101.3" r="4.45" fill="#000000"/>
<circle cx="755.5" cy="1101.3" r="4.45" fill="#000000"/>
<circle cx="761.5" cy="1101.3" r="4.45" fill="#000000"/>
<circle cx="791.5" cy="1101.3" r="4.45" fill="#000000"/>
<circle cx="797.5" cy="1101.3" r="4.45" fill="#000000"/>
<circle cx="804.5" cy="1101.3" r="4.45" fill="#000000"/>
<circle cx="810.5" cy="1101.3" r="4.45" fill="#000000"/>
<circle cx="816.5" cy="1101.3" r="4.45" fill="#000000"/>
<circle cx="822.5" cy="1101.3" r="4.45" fill="#000000"/>
<circle cx="828.5" cy="1101.3" r="4.45" fill="#000000"/>
<circle cx="834.5" cy="1101.3" r="4.45" fill="#000000"/>
<circle cx="840.5" cy="1101.3" r="4.45" fill="#000000"/>
<circle cx="846.5" cy="1101.3" r="4.45" fill="#000000"/>
<circle cx="852.5" cy="1101.3" r="4.45" fill="#000000"/>
<circle cx="858.5" cy="1101.3" r="4.45" fill="#000000"/>
<circle cx="865.5" cy="1101.3" r="4.45" fill="#000000"/>
<circle cx="877.5" cy="1101.3" r="4.45" fill="#000000"/>
<circle cx="907.5" cy="1101.3" r="4.45" fill="#000000"/>
<circle cx="913.5" cy="1101.3" r="4.45" fill="#000000"/>
<circle cx="974.5" cy="1101.3" r="4.45" fill="#000000"/>
<circle cx="980.5" cy="1101.3" r="4.45" fill="#000000"/>
<circle cx="1121.5" cy="1101.3" r="4.45" fill="#000000"/>
<circle cx="1127.5" cy="1101.3" r="4.45" fill="#000000"/>
<circle cx="1133.5" cy="1101.3" r="4.45" fill="#000000"/>
<circle cx="1139.5" cy="1101.3" r="4.45" fill="#000000"/>
<circle cx="1145.5" cy="1101.3" r="4.45" fill="#000000"/>
<circle cx="1151.5" cy="1101.3" r="4.45" fill="#000000"/>
<circle cx="1157.5" cy="1101.3" r="4.45" fill="#000000"/>
<circle cx="1163.5" cy="1101.3" r="4.45" fill="#000000"/>
<circle cx="1170.5" cy="1101.3" r="4.45" fill="#000000"/>
<circle cx="1176.5" cy="1101.3" r="4.45" fill="#000000"/>
<circle cx="1182.5" cy="1101.3" r="4.45" fill="#000000"/>
<circle cx="1188.5" cy="1101.3" r="4.45" fill="#000000"/>
<circle cx="1194.5" cy="1101.3" r="4.45" fill="#000000"/>
<circle cx="1200.5" cy="1101.3" r="4.45" fill="#000000"/>
<circle cx="1206.5" cy="1101.3" r="4.45" fill="#000000"/>
<circle cx="1212.5" cy="1101.3" r="4.45" fill="#000000"/>
<circle cx="1249.5" cy="1101.3" r="4.45" fill="#000000"/>
<circle cx="1298.5" cy="1101.3" r="4.45" fill="#000000"/>
<circle cx="1304.5" cy="1101.3" r="4.45" fill="#000000"/>
<circle cx="1407.5" cy="1101.3" r="4.45" fill="#000000"/>
<circle cx="1414.5" cy="1101.3" r="4.45" fill="#000000"/>
<circle cx="1420.5" cy="1101.3" r="4.45" fill="#000000"/>
<circle cx="1426.5" cy="1101.3" r="4.45" fill="#000000"/>
<circle cx="1432.5" cy="1101.3" r="4.45" fill="#000000"/>
<circle cx="1438.5" cy="1101.3" r="4.45" fill="#000000"/>
<circle cx="1444.5" cy="1101.3" r="4.45" fill="#000000"/>
<circle cx="1450.5" cy="1101.3" r="4.45" fill="#000000"/>
<circle cx="1456.5" cy="1101.3" r="4.45" fill="#000000"/>
<circle cx="1517.5" cy="1101.3" r="4.45" fill="#000000"/>
<circle cx="1523.5" cy="1101.3" r="4.45" fill="#000000"/>
<circle cx="1529.5" cy="1101.3" r="4.45" fill="#000000"/>
<circle cx="1536.5" cy="1101.3" r="4.45" fill="#000000"/>
<circle cx="1572.5" cy="1101.3" r="4.45" fill="#000000"/>
<circle cx="1627.5" cy="1101.3" r="4.45" fill="#000000"/>
<circle cx="1633.5" cy="1101.3" r="4.45" fill="#000000"/>
<circle cx="1639.5" cy="1101.3" r="4.45" fill="#000000"/>
<circle cx="1706.5" cy="1101.3" r="4.45" fill="#000000"/>
<circle cx="1712.5" cy="1101.3" r="4.45" fill="#000000"/>
<circle cx="1719.5" cy="1101.3" r="4.45" fill="#000000"/>
<circle cx="1725.5" cy="1101.3" r="4.45" fill="#000000"/>
<circle cx="1731.5" cy="1101.3" r="4.45" fill="#000000"/>
<circle cx="1737.5" cy="1101.3" r="4.45" fill="#000000"/>
<circle cx="1743.5" cy="1101.3" r="4.45" fill="#000000"/>
<circle cx="1749.5" cy="1101.3" r="4.45" fill="#000000"/>
<circle cx="1816.5" cy="1101.3" r="4.45" fill="#000000"/>
<circle cx="1822.5" cy="1101.3" r="4.45" fill="#000000"/>
<circle cx="1828.5" cy="1101.3" r="4.45" fill="#000000"/>
<circle cx="1834.5" cy="1101.3" r="4.45" fill="#000000"/>
<circle cx="1841.5" cy="1101.3" r="4.45" fill="#000000"/>
<circle cx="120.5" cy="1101.3" r="4.45" fill="#ff0000"/>
<circle cx="127.5" cy="1101.3" r="4.45" fill="#ff0000"/>
<circle cx="133.5" cy="1101.3" r="4.45" fill="#ff0000"/>
<circle cx="139.5" cy="1101.3" r="4.45" fill="#ff0000"/>
<circle cx="145.5" cy="1101.3" r="4.45" fill="#ff0000"/>
<circle cx="151.5" cy="1101.3" r="4.45" fill="#ff0000"/>
<circle cx="157.5" cy="1101.3" r="4.45" fill="#ff0000"/>
<circle cx="163.5" cy="1101.3" r="4.45" fill="#ff0000"/>
<circle cx="169.5" cy="1101.3" r="4.45" fill="#ff0000"/>
<circle cx="175.5" cy="1101.3" r="4.45" fill="#ff0000"/>
<circle cx="181.5" cy="1101.3" r="4.45" fill="#ff0000"/>
<circle cx="188.5" cy="1101.3" r="4.45" fill="#ff0000"/>
<circle cx="194.5" cy="1101.3" r="4.45" fill="#ff0000"/>
<circle cx="200.5" cy="1101.3" r="4.45" fill="#ff0000"/>
<circle cx="206.5" cy="1101.3" r="4.45" fill="#ff0000"/>
<circle cx="212.5" cy="1101.3" r="4.45" fill="#ff0000"/>
<circle cx="242.5" cy="1101.3" r="4.45" fill="#ff0000"/>
<circle cx="249.5" cy="1101.3" r="4.45" fill="#ff0000"/>
<circle cx="255.5" cy="1101.3" r="4.45" fill="#ff0000"/>
<circle cx="261.5" cy="1101.3" r="4.45" fill="#ff0000"/>
<circle cx="267.5" cy="1101.3" r="4.45" fill="#ff0000"/>
<circle cx="273.5" cy="1101.3" r="4.45" fill="#ff0000"/>
<circle cx="279.5" cy="1101.3" r="4.45" fill="#ff0000"/>
<circle cx="322.5" cy="1101.3" r="4.45" fill="#ff0000"/>
<circle cx="328.5" cy="1101.3" r="4.45" fill="#ff0000"/>
<circle cx="334.5" cy="1101.3" r="4.45" fill="#ff0000"/>
<circle cx="340.5" cy="1101.3" r="4.45" fill="#ff0000"/>
<circle cx="346.5" cy="1101.3" r="4.45" fill="#ff0000"/>
<circle cx="444.5" cy="1101.3" r="4.45" fill="#ff0000"/>
<circle cx="450.5" cy="1101.3" r="4.45" fill="#ff0000"/>
<circle cx="456.5" cy="1101.3" r="4.45" fill="#ff0000"/>
<circle cx="462.5" cy="1101.3" r="4.45" fill="#ff0000"/>
<circle cx="468.5" cy="1101.3" r="4.45" fill="#ff0000"/>
<circle cx="474.5" cy="1101.3" r="4.45" fill="#ff0000"/>
<circle cx="486.5" cy="1101.3" r="4.45" fill="#ff0000"/>
<circle cx="492.5" cy="1101.3" r="4.45" fill="#ff0000"/>
<circle cx="499.5" cy="1101.3" r="4.45" fill="#ff0000"/>
<circle cx="505.5" cy="1101.3" r="4.45" fill="#ff0000"/>
<circle cx="511.5" cy="1101.3" r="4.45" fill="#ff0000"/>
<circle cx="517.5" cy="1101.3" r="4.45" fill="#ff0000"/>
<circle cx="871.5" cy="1101.3" r="4.45" fill="#ff0000"/>
<circle cx="919.5" cy="1101.3" r="4.45" fill="#ff0000"/>
<circle cx="926.5" cy="1101.3" r="4.45" fill="#ff0000"/>
<circle cx="932.5" cy="1101.3" r="4.45" fill="#ff0000"/>
<circle cx="938.5" cy="1101.3" r="4.45" fill="#ff0000"/>
<circle cx="944.5" cy="1101.3" r="4.45" fill="#ff0000"/>
<circle cx="950.5" cy="1101.3" r="4.45" fill="#ff0000"/>
<circle cx="956.5" cy="1101.3" r="4.45" fill="#ff0000"/>
<circle cx="962.5" cy="1101.3" r="4.45" fill="#ff0000"/>
<circle cx="968.5" cy="1101.3" r="4.45" fill="#ff0000"/>
<circle cx="1218.5" cy="1101.3" r="4.45" fill="#ff0000"/>
<circle cx="1224.5" cy="1101.3" r="4.45" fill="#ff0000"/>
<circle cx="1231.5" cy="1101.3" r="4.45" fill="#ff0000"/>
<circle cx="1237.5" cy="1101.3" r="4.45" fill="#ff0000"/>
<circle cx="1243.5" cy="1101.3" r="4.45" fill="#ff0000"/>
<circle cx="1310.5" cy="1101.3" r="4.45" fill="#ff0000"/>
<circle cx="1316.5" cy="1101.3" r="4.45" fill="#ff0000"/>
<circle cx="1322.5" cy="1101.3" r="4.45" fill="#ff0000"/>
<circle cx="1328.5" cy="1101.3" r="4.45" fill="#ff0000"/>
<circle cx="1334.5" cy="1101.3" r="4.45" fill="#ff0000"/>
<circle cx="1340.5" cy="1101.3" r="4.45" fill="#ff0000"/>
<circle cx="1346.5" cy="1101.3" r="4.45" fill="#ff0000"/>
<circle cx="1353.5" cy="1101.3" r="4.45" fill="#ff0000"/>
<circle cx="1359.5" cy="1101.3" r="4.45" fill="#ff0000"/>
<circle cx="1365.5" cy="1101.3" r="4.45" fill="#ff0000"/>
<circle cx="1371.5" cy="1101.3" r="4.45" fill="#ff0000"/>
<circle cx="1377.5" cy="1101.3" r="4.45" fill="#ff0000"/>
<circle cx="1383.5" cy="1101.3" r="4.45" fill="#ff0000"/>
<circle cx="1389.5" cy="1101.3" r="4.45" fill="#ff0000"/>
<circle cx="1395.5" cy="1101.3" r="4.45" fill="#ff0000"/>
<circle cx="1401.5" cy="1101.3" r="4.45" fill="#ff0000"/>
<circle cx="1542.5" cy="1101.3" r="4.45" fill="#ff0000"/>
<circle cx="1548.5" cy="1101.3" r="4.45" fill="#ff0000"/>
<circle cx="1554.5" cy="1101.3" r="4.45" fill="#ff0000"/>
<circle cx="1560.5" cy="1101.3" r="4.45" fill="#ff0000"/>
<circle cx="1566.5" cy="1101.3" r="4.45" fill="#ff0000"/>
<circle cx="1645.5" cy="1101.3" r="4.45" fill="#ff0000"/>
<circle cx="1651.5" cy="1101.3" r="4.45" fill="#ff0000"/>
<circle cx="1658.5" cy="1101.3" r="4.45" fill="#ff0000"/>
<circle cx="1664.5" cy="1101.3" r="4.45" fill="#ff0000"/>
<circle cx="1670.5" cy="1101.3" r="4.45" fill="#ff0000"/>
<circle cx="1676.5" cy="1101.3" r="4.45" fill="#ff0000"/>
<circle cx="1682.5" cy="1101.3" r="4.45" fill="#ff0000"/>
<circle cx="1688.5" cy="1101.3" r="4.45" fill="#ff0000"/>
<circle cx="1694.5" cy="1101.3" r="4.45" fill="#ff0000"/>
<circle cx="1700.5" cy="1101.3" r="4.45" fill="#ff0000"/>
<circle cx="1755.5" cy="1101.3" r="4.45" fill="#ff0000"/>
<circle cx="1761.5" cy="1101.3" r="4.45" fill="#ff0000"/>
<circle cx="1767.5" cy="1101.3" r="4.45" fill="#ff0000"/>
<circle cx="1773.5" cy="1101.3" r="4.45" fill="#ff0000"/>
<circle cx="1780.5" cy="1101.3" r="4.45" fill="#ff0000"/>
<circle cx="1786.5" cy="1101.3" r="4.45" fill="#ff0000"/>
<circle cx="1792.5" cy="1101.3" r="4.45" fill="#ff0000"/>
<circle cx="1798.5" cy="1101.3" r="4.45" fill="#ff0000"/>
<circle cx="1804.5" cy="1101.3" r="4.45" fill="#ff0000"/>
<circle cx="1810.5" cy="1101.3" r="4.45" fill="#ff0000"/>
<circle cx="1847.5" cy="1101.3" r="4.45" fill="#ff0000"/>
<circle cx="1853.5" cy="1101.3" r="4.45" fill="#ff0000"/>
<circle cx="1859.5" cy="1101.3" r="4.45" fill="#ff0000"/>
<circle cx="11.5" cy="1101.3" r="4.45" fill="#00ff00"/>
<circle cx="17.5" cy="1101.3" r="4.45" fill="#00ff00"/>
<circle cx="23.5" cy="1101.3" r="4.45" fill="#00ff00"/>
<circle cx="29.5" cy="1101.3" r="4.45" fill="#00ff00"/>
<circle cx="35.5" cy="1101.3" r="4.45" fill="#00ff00"/>
<circle cx="41.5" cy="1101.3" r="4.45" fill="#00ff00"/>
<circle cx="47.5" cy="1101.3" r="4.45" fill="#00ff00"/>
<circle cx="53.5" cy="1101.3" r="4.45" fill="#00ff00"/>
<circle cx="59.5" cy="1101.3" r="4.45" fill="#00ff00"/>
<circle cx="425.5" cy="1101.3" r="4.45" fill="#00ff00"/>
<circle cx="431.5" cy="1101.3" r="4.45" fill="#00ff00"/>
<circle cx="438.5" cy="1101.3" r="4.45" fill="#00ff00"/>
<circle cx="541.5" cy="1101.3" r="4.45" fill="#00ff00"/>
<circle cx="547.5" cy="1101.3" r="4.45" fill="#00ff00"/>
<circle cx="553.5" cy="1101.3" r="4.45" fill="#00ff00"/>
<circle cx="560.5" cy="1101.3" r="4.45" fill="#00ff00"/>
<circle cx="566.5" cy="1101.3" r="4.45" fill="#00ff00"/>
<circle cx="572.5" cy="1101.3" r="4.45" fill="#00ff00"/>
<circle cx="578.5" cy="1101.3" r="4.45" fill="#00ff00"/>
<circle cx="584.5" cy="1101.3" r="4.45" fill="#00ff00"/>
<circle cx="590.5" cy="1101.3" r="4.45" fill="#00ff00"/>
<circle cx="596.5" cy="1101.3" r="4.45" fill="#00ff00"/>
<circle cx="602.5" cy="1101.3" r="4.45" fill="#00ff00"/>
<circle cx="608.5" cy="1101.3" r="4.45" fill="#00ff00"/>
<circle cx="614.5" cy="1101.3" r="4.45" fill="#00ff00"/>
<circle cx="621.5" cy="1101.3" r="4.45" fill="#00ff00"/>
<circle cx="627.5" cy="1101.3" r="4.45" fill="#00ff00"/>
<circle cx="633.5" cy="1101.3" r="4.45" fill="#00ff00"/>
<circle cx="639.5" cy="1101.3" r="4.45" fill="#00ff00"/>
<circle cx="645.5" cy="1101.3" r="4.45" fill="#00ff00"/>
<circle cx="651.5" cy="1101.3" r="4.45" fill="#00ff00"/>
<circle cx="657.5" cy="1101.3" r="4.45" fill="#00ff00"/>
<circle cx="688.5" cy="1101.3" r="4.45" fill="#00ff00"/>
<circle cx="694.5" cy="1101.3" r="4.45" fill="#00ff00"/>
<circle cx="700.5" cy="1101.3" r="4.45" fill="#00ff00"/>
<circle cx="706.5" cy="1101.3" r="4.45" fill="#00ff00"/>
<circle cx="712.5" cy="1101.3" r="4.45" fill="#00ff00"/>
<circle cx="718.5" cy="1101.3" r="4.45" fill="#00ff00"/>
<circle cx="767.5" cy="1101.3" r="4.45" fill="#00ff00"/>
<circle cx="773.5" cy="1101.3" r="4.45" fill="#00ff00"/>
<circle cx="779.5" cy="1101.3" r="4.45" fill="#00ff00"/>
<circle cx="785.5" cy="1101.3" r="4.45" fill="#00ff00"/>
<circle cx="883.5" cy="1101.3" r="4.45" fill="#00ff00"/>
<circle cx="889.5" cy="1101.3" r="4.45" fill="#00ff00"/>
<circle cx="895.5" cy="1101.3" r="4.45" fill="#00ff00"/>
<circle cx="901.5" cy="1101.3" r="4.45" fill="#00ff00"/>
<circle cx="987.5" cy="1101.3" r="4.45" fill="#00ff00"/>
<circle cx="993.5" cy="1101.3" r="4.45" fill="#00ff00"/>
<circle cx="999.5" cy="1101.3" r="4.45" fill="#00ff00"/>
<circle cx="1005.5" cy="1101.3" r="4.45" fill="#00ff00"/>
<circle cx="1011.5" cy="1101.3" r="4.45" fill="#00ff00"/>
<circle cx="1017.5" cy="1101.3" r="4.45" fill="#00ff00"/>
<circle cx="1023.5" cy="1101.3" r="4.45" fill="#00ff00"/>
<circle cx="1029.5" cy="1101.3" r="4.45" fill="#00ff00"/>
<circle cx="1035.5" cy="1101.3" r="4.45" fill="#00ff00"/>
<circle cx="1041.5" cy="1101.3" r="4.45" fill="#00ff00"/>
<circle cx="1048.5" cy="1101.3" r="4.45" fill="#00ff00"/>
<circle cx="1054.5" cy="1101.3" r="4.45" fill="#00ff00"/>
<circle cx="1060.5" cy="1101.3" r="4.45" fill="#00ff00"/>
<circle cx="1066.5" cy="1101.3" r="4.45" fill="#00ff00"/>
<circle cx="1072.5" cy="1101.3" r="4.45" fill="#00ff00"/>
<circle cx="1078.5" cy="1101.3" r="4.45" fill="#00ff00"/>
<circle cx="1084.5" cy="1101.3" r="4.45" fill="#00ff00"/>
<circle cx="1090.5" cy="1101.3" r="4.45" fill="#00ff00"/>
<circle cx="1096.5" cy="1101.3" r="4.45" fill="#00ff00"/>
<circle cx="1102.5" cy="1101.3" r="4.45" fill="#00ff00"/>
<circle cx="1109.5" cy="1101.3" r="4.45" fill="#00ff00"/>
<circle cx="1115.5" cy="1101.3" r="4.45" fill="#00ff00"/>
<circle cx="1255.5" cy="1101.3" r="4.45" fill="#00ff00"/>
<circle cx="1261.5" cy="1101.3" r="4.45" fill="#00ff00"/>
<circle cx="1267.5" cy="1101.3" r="4.45" fill="#00ff00"/>
<circle cx="1273.5" cy="1101.3" r="4.45" fill="#00ff00"/>
<circle cx="1279.5" cy="1101.3" r="4.45" fill="#00ff00"/>
<circle cx="1285.5" cy="1101.3" r="4.45" fill="#00ff00"/>
<circle cx="1292.5" cy="1101.3" r="4.45" fill="#00ff00"/>
<circle cx="1462.5" cy="1101.3" r="4.45" fill="#00ff00"/>
<circle cx="1468.5" cy="1101.3" r="4.45" fill="#00ff00"/>
<circle cx="1475.5" cy="1101.3" r="4.45" fill="#00ff00"/>
<circle cx="1481.5" cy="1101.3" r="4.45" fill="#00ff00"/>
<circle cx="1487.5" cy="1101.3" r="4.45" fill="#00ff00"/>
<circle cx="1493.5" cy="1101.3" r="4.45" fill="#00ff00"/>
<circle cx="1499.5" cy="1101.3" r="4.45" fill="#00ff00"/>
<circle cx="1505.5" cy="1101.3" r="4.45" fill="#00ff00"/>
<circle cx="1511.5" cy="1101.3" r="4.45" fill="#00ff00"/>
<circle cx="1578.5" cy="1101.3" r="4.45" fill="#00ff00"/>
<circle cx="1584.5" cy="1101.3" r="4.45" fill="#00ff00"/>
<circle cx="1590.5" cy="1101.3" r="4.45" fill="#00ff00"/>
<circle cx="1597.5" cy="1101.3" r="4.45" fill="#00ff00"/>
<circle cx="1603.5" cy="1101.3" r="4.45" fill="#00ff00"/>
<circle cx="1609.5" cy="1101.3" r="4.45" fill="#00ff00"/>
<circle cx="1615.5" cy="1101.3" r="4.45" fill="#00ff00"/>
<circle cx="1621.5" cy="1101.3" r="4.45" fill="#00ff00"/>
<circle cx="53.5" cy="1111.1" r="4.45" fill="#000000"/>
<circle cx="59.5" cy="1111.1" r="4.45" fill="#000000"/>
<circle cx="66.5" cy="1111.1" r="4.45" fill="#000000"/>
<circle cx="72.5" cy="1111.1" r="4.45" fill="#000000"/>
<circle cx="78.5" cy="1111.1" r="4.45" fill="#000000"/>
<circle cx="84.5" cy="1111.1" r="4.45" fill="#000000"/>
<circle cx="151.5" cy="1111.1" r="4.45" fill="#000000"/>
<circle cx="157.5" cy="1111.1" r="4.45" fill="#000000"/>
<circle cx="163.5" cy="1111.1" r="4.45" fill="#000000"/>
<circle cx="169.5" cy="1111.1" r="4.45" fill="#000000"/>
<circle cx="175.5" cy="1111.1" r="4.45" fill="#000000"/>
<circle cx="181.5" cy="1111.1" r="4.45" fill="#000000"/>
<circle cx="188.5" cy="1111.1" r="4.45" fill="#000000"/>
<circle cx="194.5" cy="1111.1" r="4.45" fill="#000000"/>
<circle cx="200.5" cy="1111.1" r="4.45" fill="#000000"/>
<circle cx="206.5" cy="1111.1" r="4.45" fill="#000000"/>
<circle cx="212.5" cy="1111.1" r="4.45" fill="#000000"/>
<circle cx="218.5" cy="1111.1" r="4.45" fill="#000000"/>
<circle cx="224.5" cy="1111.1" r="4.45" fill="#000000"/>
<circle cx="230.5" cy="1111.1" r="4.45" fill="#000000"/>
<circle cx="236.5" cy="1111.1" r="4.45" fill="#000000"/>
<circle cx="285.5" cy="1111.1" r="4.45" fill="#000000"/>
<circle cx="291.5" cy="1111.1" r="4.45" fill="#000000"/>
<circle cx="297.5" cy="1111.1" r="4.45" fill="#000000"/>
<circle cx="303.5" cy="1111.1" r="4.45" fill="#000000"/>
<circle cx="310.5" cy="1111.1" r="4.45" fill="#000000"/>
<circle cx="316.5" cy="1111.1" r="4.45" fill="#000000"/>
<circle cx="322.5" cy="1111.1" r="4.45" fill="#000000"/>
<circle cx="352.5" cy="1111.1" r="4.45" fill="#000000"/>
<circle cx="358.5" cy="1111.1" r="4.45" fill="#000000"/>
<circle cx="364.5" cy="1111.1" r="4.45" fill="#000000"/>
<circle cx="371.5" cy="1111.1" r="4.45" fill="#000000"/>
<circle cx="377.5" cy="1111.1" r="4.45" fill="#000000"/>
<circle cx="383.5" cy="1111.1" r="4.45" fill="#000000"/>
<circle cx="389.5" cy="1111.1" r="4.45" fill="#000000"/>
<circle cx="438.5" cy="1111.1" r="4.45" fill="#000000"/>
<circle cx="444.5" cy="1111.1" r="4.45" fill="#000000"/>
<circle cx="523.5" cy="1111.1" r="4.45" fill="#000000"/>
<circle cx="529.5" cy="1111.1" r="4.45" fill="#000000"/>
<circle cx="633.5" cy="1111.1" r="4.45" fill="#000000"/>
<circle cx="639.5" cy="1111.1" r="4.45" fill="#000000"/>
<circle cx="645.5" cy="1111.1" r="4.45" fill="#000000"/>
<circle cx="651.5" cy="1111.1" r="4.45" fill="#000000"/>
<circle cx="657.5" cy="1111.1" r="4.45" fill="#000000"/>
<circle cx="663.5" cy="1111.1" r="4.45" fill="#000000"/>
<circle cx="669.5" cy="1111.1" r="4.45" fill="#000000"/>
<circle cx="675.5" cy="1111.1" r="4.45" fill="#000000"/>
<circle cx="682.5" cy="1111.1" r="4.45" fill="#000000"/>
<circle cx="724.5" cy="1111.1" r="4.45" fill="#000000"/>
<circle cx="730.5" cy="1111.1" r="4.45" fill="#000000"/>
<circle cx="736.5" cy="1111.1" r="4.45" fill="#000000"/>
<circle cx="743.5" cy="1111.1" r="4.45" fill="#000000"/>
<circle cx="749.5" cy="1111.1" r="4.45" fill="#000000"/>
<circle cx="755.5" cy="1111.1" r="4.45" fill="#000000"/>
<circle cx="761.5" cy="1111.1" r="4.45" fill="#000000"/>
<circle cx="791.5" cy="1111.1" r="4.45" fill="#000000"/>
<circle cx="797.5" cy="1111.1" r="4.45" fill="#000000"/>
<circle cx="804.5" cy="1111.1" r="4.45" fill="#000000"/>
<circle cx="810.5" cy="1111.1" r="4.45" fill="#000000"/>
<circle cx="816.5" cy="1111.1" r="4.45" fill="#000000"/>
<circle cx="822.5" cy="1111.1" r="4.45" fill="#000000"/>
<circle cx="871.5" cy="1111.1" r="4.45" fill="#000000"/>
<circle cx="877.5" cy="1111.1" r="4.45" fill="#000000"/>
<circle cx="913.5" cy="1111.1" r="4.45" fill="#000000"/>
<circle cx="919.5" cy="1111.1" r="4.45" fill="#000000"/>
<circle cx="980.5" cy="1111.1" r="4.45" fill="#000000"/>
<circle cx="1054.5" cy="1111.1" r="4.45" fill="#000000"/>
<circle cx="1060.5" cy="1111.1" r="4.45" fill="#000000"/>
<circle cx="1115.5" cy="1111.1" r="4.45" fill="#000000"/>
<circle cx="1121.5" cy="1111.1" r="4.45" fill="#000000"/>
<circle cx="1127.5" cy="1111.1" r="4.45" fill="#000000"/>
<circle cx="1133.5" cy="1111.1" r="4.45" fill="#000000"/>
<circle cx="1139.5" cy="1111.1" r="4.45" fill="#000000"/>
<circle cx="1145.5" cy="1111.1" r="4.45" fill="#000000"/>
<circle cx="1151.5" cy="1111.1" r="4.45" fill="#000000"/>
<circle cx="1157.5" cy="1111.1" r="4.45" fill="#000000"/>
<circle cx="1237.5" cy="1111.1" r="4.45" fill="#000000"/>
<circle cx="1243.5" cy="1111.1" r="4.45" fill="#000000"/>
<circle cx="1249.5" cy="1111.1" r="4.45" fill="#000000"/>
<circle cx="1298.5" cy="1111.1" r="4.45" fill="#000000"/>
<circle cx="1304.5" cy="1111.1" r="4.45" fill="#000000"/>
<circle cx="1383.5" cy="1111.1" r="4.45" fill="#000000"/>
<circle cx="1389.5" cy="1111.1" r="4.45" fill="#000000"/>
<circle cx="1395.5" cy="1111.1" r="4.45" fill="#000000"/>
<circle cx="1401.5" cy="1111.1" r="4.45" fill="#000000"/>
<circle cx="1407.5" cy="1111.1" r="4.45" fill="#000000"/>
<circle cx="1414.5" cy="1111.1" r="4.45" fill="#000000"/>
<circle cx="1420.5" cy="1111.1" r="4.45" fill="#000000"/>
<circle cx="1426.5" cy="1111.1" r="4.45" fill="#000000"/>
<circle cx="1493.5" cy="1111.1" r="4.45" fill="#000000"/>
<circle cx="1499.5" cy="1111.1" r="4.45" fill="#000000"/>
<circle cx="1505.5" cy="1111.1" r="4.45" fill="#000000"/>
<circle cx="1511.5" cy="1111.1" r="4.45" fill="#000000"/>
<circle cx="1517.5" cy="1111.1" r="4.45" fill="#000000"/>
<circle cx="1523.5" cy="1111.1" r="4.45" fill="#000000"/>
<circle cx="1566.5" cy="1111.1" r="4.45" fill="#000000"/>
<circle cx="1572.5" cy="1111.1" r="4.45" fill="#000000"/>
<circle cx="1627.5" cy="1111.1" r="4.45" fill="#000000"/>
<circle cx="1633.5" cy="1111.1" r="4.45" fill="#000000"/>
<circle cx="1694.5" cy="1111.1" r="4.45" fill="#000000"/>
<circle cx="1700.5" cy="1111.1" r="4.45" fill="#000000"/>
<circle cx="1706.5" cy="1111.1" r="4.45" fill="#000000"/>
<circle cx="1712.5" cy="1111.1" r="4.45" fill="#000000"/>
<circle cx="1719.5" cy="1111.1" r="4.45" fill="#000000"/>
<circle cx="1725.5" cy="1111.1" r="4.45" fill="#000000"/>
<circle cx="1761.5" cy="1111.1" r="4.45" fill="#000000"/>
<circle cx="1816.5" cy="1111.1" r="4.45" fill="#000000"/>
<circle cx="1822.5" cy="1111.1" r="4.45" fill="#000000"/>
<circle cx="1828.5" cy="1111.1" r="4.45" fill="#000000"/>
<circle cx="1834.5" cy="1111.1" r="4.45" fill="#000000"/>
<circle cx="1841.5" cy="1111.1" r="4.45" fill="#000000"/>
<circle cx="90.5" cy="1111.1" r="4.45" fill="#ff0000"/>
<circle cx="96.5" cy="1111.1" r="4.45" fill="#ff0000"/>
<circle cx="102.5" cy="1111.1" r="4.45" fill="#ff0000"/>
<circle cx="108.5" cy="1111.1" r="4.45" fill="#ff0000"/>
<circle cx="114.5" cy="1111.1" r="4.45" fill="#ff0000"/>
<circle cx="120.5" cy="1111.1" r="4.45" fill="#ff0000"/>
<circle cx="127.5" cy="1111.1" r="4.45" fill="#ff0000"/>
<circle cx="133.5" cy="1111.1" r="4.45" fill="#ff0000"/>
<circle cx="139.5" cy="1111.1" r="4.45" fill="#ff0000"/>
<circle cx="145.5" cy="1111.1" r="4.45" fill="#ff0000"/>
<circle cx="242.5" cy="1111.1" r="4.45" fill="#ff0000"/>
<circle cx="249.5" cy="1111.1" r="4.45" fill="#ff0000"/>
<circle cx="255.5" cy="1111.1" r="4.45" fill="#ff0000"/>
<circle cx="261.5" cy="1111.1" r="4.45" fill="#ff0000"/>
<circle cx="267.5" cy="1111.1" r="4.45" fill="#ff0000"/>
<circle cx="273.5" cy="1111.1" r="4.45" fill="#ff0000"/>
<circle cx="279.5" cy="1111.1" r="4.45" fill="#ff0000"/>
<circle cx="328.5" cy="1111.1" r="4.45" fill="#ff0000"/>
<circle cx="334.5" cy="1111.1" r="4.45" fill="#ff0000"/>
<circle cx="340.5" cy="1111.1" r="4.45" fill="#ff0000"/>
<circle cx="346.5" cy="1111.1" r="4.45" fill="#ff0000"/>
<circle cx="450.5" cy="1111.1" r="4.45" fill="#ff0000"/>
<circle cx="456.5" cy="1111.1" r="4.45" fill="#ff0000"/>
<circle cx="462.5" cy="1111.1" r="4.45" fill="#ff0000"/>
<circle cx="468.5" cy="1111.1" r="4.45" fill="#ff0000"/>
<circle cx="474.5" cy="1111.1" r="4.45" fill="#ff0000"/>
<circle cx="480.5" cy="1111.1" r="4.45" fill="#ff0000"/>
<circle cx="486.5" cy="1111.1" r="4.45" fill="#ff0000"/>
<circle cx="492.5" cy="1111.1" r="4.45" fill="#ff0000"/>
<circle cx="499.5" cy="1111.1" r="4.45" fill="#ff0000"/>
<circle cx="505.5" cy="1111.1" r="4.45" fill="#ff0000"/>
<circle cx="511.5" cy="1111.1" r="4.45" fill="#ff0000"/>
<circle cx="517.5" cy="1111.1" r="4.45" fill="#ff0000"/>
<circle cx="828.5" cy="1111.1" r="4.45" fill="#ff0000"/>
<circle cx="834.5" cy="1111.1" r="4.45" fill="#ff0000"/>
<circle cx="840.5" cy="1111.1" r="4.45" fill="#ff0000"/>
<circle cx="846.5" cy="1111.1" r="4.45" fill="#ff0000"/>
<circle cx="852.5" cy="1111.1" r="4.45" fill="#ff0000"/>
<circle cx="858.5" cy="1111.1" r="4.45" fill="#ff0000"/>
<circle cx="865.5" cy="1111.1" r="4.45" fill="#ff0000"/>
<circle cx="926.5" cy="1111.1" r="4.45" fill="#ff0000"/>
<circle cx="932.5" cy="1111.1" r="4.45" fill="#ff0000"/>
<circle cx="938.5" cy="1111.1" r="4.45" fill="#ff0000"/>
<circle cx="944.5" cy="1111.1" r="4.45" fill="#ff0000"/>
<circle cx="950.5" cy="1111.1" r="4.45" fill="#ff0000"/>
<circle cx="956.5" cy="1111.1" r="4.45" fill="#ff0000"/>
<circle cx="962.5" cy="1111.1" r="4.45" fill="#ff0000"/>
<circle cx="968.5" cy="1111.1" r="4.45" fill="#ff0000"/>
<circle cx="974.5" cy="1111.1" r="4.45" fill="#ff0000"/>
<circle cx="1163.5" cy="1111.1" r="4.45" fill="#ff0000"/>
<circle cx="1170.5" cy="1111.1" r="4.45" fill="#ff0000"/>
<circle cx="1176.5" cy="1111.1" r="4.45" fill="#ff0000"/>
<circle cx="1182.5" cy="1111.1" r="4.45" fill="#ff0000"/>
<circle cx="1188.5" cy="1111.1" r="4.45" fill="#ff0000"/>
<circle cx="1194.5" cy="1111.1" r="4.45" fill="#ff0000"/>
<circle cx="1200.5" cy="1111.1" r="4.45" fill="#ff0000"/>
<circle cx="1206.5" cy="1111.1" r="4.45" fill="#ff0000"/>
<circle cx="1212.5" cy="1111.1" r="4.45" fill="#ff0000"/>
<circle cx="1218.5" cy="1111.1" r="4.45" fill="#ff0000"/>
<circle cx="1224.5" cy="1111.1" r="4.45" fill="#ff0000"/>
<circle cx="1231.5" cy="1111.1" r="4.45" fill="#ff0000"/>
<circle cx="1310.5" cy="1111.1" r="4.45" fill="#ff0000"/>
<circle cx="1316.5" cy="1111.1" r="4.45" fill="#ff0000"/>
<circle cx="1322.5" cy="1111.1" r="4.45" fill="#ff0000"/>
<circle cx="1328.5" cy="1111.1" r="4.45" fill="#ff0000"/>
<circle cx="1334.5" cy="1111.1" r="4.45" fill="#ff0000"/>
<circle cx="1340.5" cy="1111.1" r="4.45" fill="#ff0000"/>
<circle cx="1346.5" cy="1111.1" r="4.45" fill="#ff0000"/>
<circle cx="1353.5" cy="1111.1" r="4.45" fill="#ff0000"/>
<circle cx="1359.5" cy="1111.1" r="4.45" fill="#ff0000"/>
<circle cx="1365.5" cy="1111.1" r="4.45" fill="#ff0000"/>
<circle cx="1371.5" cy="1111.1" r="4.45" fill="#ff0000"/>
<circle cx="1377.5" cy="1111.1" r="4.45" fill="#ff0000"/>
<circle cx="1529.5" cy="1111.1" r="4.45" fill="#ff0000"/>
<circle cx="1536.5" cy="1111.1" r="4.45" fill="#ff0000"/>
<circle cx="1542.5" cy="1111.1" r="4.45" fill="#ff0000"/>
<circle cx="1548.5" cy="1111.1" r="4.45" fill="#ff0000"/>
<circle cx="1554.5" cy="1111.1" r="4.45" fill="#ff0000"/>
<circle cx="1560.5" cy="1111.1" r="4.45" fill="#ff0000"/>
<circle cx="1639.5" cy="1111.1" r="4.45" fill="#ff0000"/>
<circle cx="1645.5" cy="1111.1" r="4.45" fill="#ff0000"/>
<circle cx="1651.5" cy="1111.1" r="4.45" fill="#ff0000"/>
<circle cx="1658.5" cy="1111.1" r="4.45" fill="#ff0000"/>
<circle cx="1664.5" cy="1111.1" r="4.45" fill="#ff0000"/>
<circle cx="1670.5" cy="1111.1" r="4.45" fill="#ff0000"/>
<circle cx="1676.5" cy="1111.1" r="4.45" fill="#ff0000"/>
<circle cx="1682.5" cy="1111.1" r="4.45" fill="#ff0000"/>
<circle cx="1688.5" cy="1111.1" r="4.45" fill="#ff0000"/>
<circle cx="1767.5" cy="1111.1" r="4.45" fill="#ff0000"/>
<circle cx="1773.5" cy="1111.1" r="4.45" fill="#ff0000"/>
<circle cx="1780.5" cy="1111.1" r="4.45" fill="#ff0000"/>
<circle cx="1786.5" cy="1111.1" r="4.45" fill="#ff0000"/>
<circle cx="1792.5" cy="1111.1" r="4.45" fill="#ff0000"/>
<circle cx="1798.5" cy="1111.1" r="4.45" fill="#ff0000"/>
<circle cx="1804.5" cy="1111.1" r="4.45" fill="#ff0000"/>
<circle cx="1810.5" cy="1111.1" r="4.45" fill="#ff0000"/>
<circle cx="1847.5" cy="1111.1" r="4.45" fill="#ff0000"/>
<circle cx="1853.5" cy="1111.1" r="4.45" fill="#ff0000"/>
<circle cx="1859.5" cy="1111.1" r="4.45" fill="#ff0000"/>
<circle cx="11.5" cy="1111.1" r="4.45" fill="#00ff00"/>
<circle cx="17.5" cy="1111.1" r="4.45" fill="#00ff00"/>
<circle cx="23.5" cy="1111.1" r="4.45" fill="#00ff00"/>
<circle cx="29.5" cy="1111.1" r="4.45" fill="#00ff00"/>
<circle cx="35.5" cy="1111.1" r="4.45" fill="#00ff00"/>
<circle cx="41.5" cy="1111.1" r="4.45" fill="#00ff00"/>
<circle cx="47.5" cy="1111.1" r="4.45" fill="#00ff00"/>
<circle cx="395.5" cy="1111.1" r="4.45" fill="#00ff00"/>
<circle cx="401.5" cy="1111.1" r="4.45" fill="#00ff00"/>
<circle cx="407.5" cy="1111.1" r="4.45" fill="#00ff00"/>
<circle cx="413.5" cy="1111.1" r="4.45" fill="#00ff00"/>
<circle cx="419.5" cy="1111.1" r="4.45" fill="#00ff00"/>
<circle cx="425.5" cy="1111.1" r="4.45" fill="#00ff00"/>
<circle cx="431.5" cy="1111.1" r="4.45" fill="#00ff00"/>
<circle cx="535.5" cy="1111.1" r="4.45" fill="#00ff00"/>
<circle cx="541.5" cy="1111.1" r="4.45" fill="#00ff00"/>
<circle cx="547.5" cy="1111.1" r="4.45" fill="#00ff00"/>
<circle cx="553.5" cy="1111.1" r="4.45" fill="#00ff00"/>
<circle cx="560.5" cy="1111.1" r="4.45" fill="#00ff00"/>
<circle cx="566.5" cy="1111.1" r="4.45" fill="#00ff00"/>
<circle cx="572.5" cy="1111.1" r="4.45" fill="#00ff00"/>
<circle cx="578.5" cy="1111.1" r="4.45" fill="#00ff00"/>
<circle cx="584.5" cy="1111.1" r="4.45" fill="#00ff00"/>
<circle cx="590.5" cy="1111.1" r="4.45" fill="#00ff00"/>
<circle cx="596.5" cy="1111.1" r="4.45" fill="#00ff00"/>
<circle cx="602.5" cy="1111.1" r="4.45" fill="#00ff00"/>
<circle cx="608.5" cy="1111.1" r="4.45" fill="#00ff00"/>
<circle cx="614.5" cy="1111.1" r="4.45" fill="#00ff00"/>
<circle cx="621.5" cy="1111.1" r="4.45" fill="#00ff00"/>
<circle cx="627.5" cy="1111.1" r="4.45" fill="#00ff00"/>
<circle cx="688.5" cy="1111.1" r="4.45" fill="#00ff00"/>
<circle cx="694.5" cy="1111.1" r="4.45" fill="#00ff00"/>
<circle cx="700.5" cy="1111.1" r="4.45" fill="#00ff00"/>
<circle cx="706.5" cy="1111.1" r="4.45" fill="#00ff00"/>
<circle cx="712.5" cy="1111.1" r="4.45" fill="#00ff00"/>
<circle cx="718.5" cy="1111.1" r="4.45" fill="#00ff00"/>
<circle cx="767.5" cy="1111.1" r="4.45" fill="#00ff00"/>
<circle cx="773.5" cy="1111.1" r="4.45" fill="#00ff00"/>
<circle cx="779.5" cy="1111.1" r="4.45" fill="#00ff00"/>
<circle cx="785.5" cy="1111.1" r="4.45" fill="#00ff00"/>
<circle cx="883.5" cy="1111.1" r="4.45" fill="#00ff00"/>
<circle cx="889.5" cy="1111.1" r="4.45" fill="#00ff00"/>
<circle cx="895.5" cy="1111.1" r="4.45" fill="#00ff00"/>
<circle cx="901.5" cy="1111.1" r="4.45" fill="#00ff00"/>
<circle cx="907.5" cy="1111.1" r="4.45" fill="#00ff00"/>
<circle cx="987.5" cy="1111.1" r="4.45" fill="#00ff00"/>
<circle cx="993.5" cy="1111.1" r="4.45" fill="#00ff00"/>
<circle cx="999.5" cy="1111.1" r="4.45" fill="#00ff00"/>
<circle cx="1005.5" cy="1111.1" r="4.45" fill="#00ff00"/>
<circle cx="1011.5" cy="1111.1" r="4.45" fill="#00ff00"/>
<circle cx="1017.5" cy="1111.1" r="4.45" fill="#00ff00"/>
<circle cx="1023.5" cy="1111.1" r="4.45" fill="#00ff00"/>
<circle cx="1029.5" cy="1111.1" r="4.45" fill="#00ff00"/>
<circle cx="1035.5" cy="1111.1" r="4.45" fill="#00ff00"/>
<circle cx="1041.5" cy="1111.1" r="4.45" fill="#00ff00"/>
<circle cx="1048.5" cy="1111.1" r="4.45" fill="#00ff00"/>
<circle cx="1066.5" cy="1111.1" r="4.45" fill="#00ff00"/>
<circle cx="1072.5" cy="1111.1" r="4.45" fill="#00ff00"/>
<circle cx="1078.5" cy="1111.1" r="4.45" fill="#00ff00"/>
<circle cx="1084.5" cy="1111.1" r="4.45" fill="#00ff00"/>
<circle cx="1090.5" cy="1111.1" r="4.45" fill="#00ff00"/>
<circle cx="1096.5" cy="1111.1" r="4.45" fill="#00ff00"/>
<circle cx="1102.5" cy="1111.1" r="4.45" fill="#00ff00"/>
<circle cx="1109.5" cy="1111.1" r="4.45" fill="#00ff00"/>
<circle cx="1255.5" cy="1111.1" r="4.45" fill="#00ff00"/>
<circle cx="1261.5" cy="1111.1" r="4.45" fill="#00ff00"/>
<circle cx="1267.5" cy="1111.1" r="4.45" fill="#00ff00"/>
<circle cx="1273.5" cy="1111.1" r="4.45" fill="#00ff00"/>
<circle cx="1279.5" cy="1111.1" r="4.45" fill="#00ff00"/>
<circle cx="1285.5" cy="1111.1" r="4.45" fill="#00ff00"/>
<circle cx="1292.5" cy="1111.1" r="4.45" fill="#00ff00"/>
<circle cx="1432.5" cy="1111.1" r="4.45" fill="#00ff00"/>
<circle cx="1438.5" cy="1111.1" r="4.45" fill="#00ff00"/>
<circle cx="1444.5" cy="1111.1" r="4.45" fill="#00ff00"/>
<circle cx="1450.5" cy="1111.1" r="4.45" fill="#00ff00"/>
<circle cx="1456.5" cy="1111.1" r="4.45" fill="#00ff00"/>
<circle cx="1462.5" cy="1111.1" r="4.45" fill="#00ff00"/>
<circle cx="1468.5" cy="1111.1" r="4.45" fill="#00ff00"/>
<circle cx="1475.5" cy="1111.1" r="4.45" fill="#00ff00"/>
<circle cx="1481.5" cy="1111.1" r="4.45" fill="#00ff00"/>
<circle cx="1487.5" cy="1111.1" r="4.45" fill="#00ff00"/>
<circle cx="1578.5" cy="1111.1" r="4.45" fill="#00ff00"/>
<circle cx="1584.5" cy="1111.1" r="4.45" fill="#00ff00"/>
<circle cx="1590.5" cy="1111.1" r="4.45" fill="#00ff00"/>
<circle cx="1597.5" cy="1111.1" r="4.45" fill="#00ff00"/>
<circle cx="1603.5" cy="1111.1" r="4.45" fill="#00ff00"/>
<circle cx="1609.5" cy="1111.1" r="4.45" fill="#00ff00"/>
<circle cx="1615.5" cy="1111.1" r="4.45" fill="#00ff00"/>
<circle cx="1621.5" cy="1111.1" r="4.45" fill="#00ff00"/>
<circle cx="1731.5" cy="1111.1" r="4.45" fill="#00ff00"/>
<circle cx="1737.5" cy="1111.1" r="4.45" fill="#00ff00"/>
<circle cx="1743.5" cy="1111.1" r="4.45" fill="#00ff00"/>
<circle cx="1749.5" cy="1111.1" r="4.45" fill="#00ff00"/>
<circle cx="1755.5" cy="1111.1" r="4.45" fill="#00ff00"/>
<circle cx="17.5" cy="1120.4" r="4.45" fill="#00ff00"/>
<circle cx="23.5" cy="1120.4" r="4.45" fill="#00ff00"/>
<circle cx="29.5" cy="1120.4" r="4.45" fill="#00ff00"/>
<circle cx="35.5" cy="1120.4" r="4.45" fill="#00ff00"/>
<circle cx="41.5" cy="1120.4" r="4.45" fill="#00ff00"/>
<circle cx="47.5" cy="1120.4" r="4.45" fill="#00ff00"/>
<circle cx="53.5" cy="1120.4" r="4.45" fill="#00ff00"/>
<circle cx="59.5" cy="1120.4" r="4.45" fill="#00ff00"/>
<circle cx="66.5" cy="1120.4" r="4.45" fill="#00ff00"/>
<circle cx="72.5" cy="1120.4" r="4.45" fill="#00ff00"/>
<circle cx="78.5" cy="1120.4" r="4.45" fill="#00ff00"/>
<circle cx="84.5" cy="1120.4" r="4.45" fill="#00ff00"/>
<circle cx="90.5" cy="1120.4" r="4.45" fill="#00ff00"/>
<circle cx="96.5" cy="1120.4" r="4.45" fill="#00ff00"/>
<circle cx="102.5" cy="1120.4" r="4.45" fill="#00ff00"/>
<circle cx="108.5" cy="1120.4" r="4.45" fill="#00ff00"/>
<circle cx="114.5" cy="1120.4" r="4.45" fill="#00ff00"/>
<circle cx="560.5" cy="1120.4" r="4.45" fill="#00ff00"/>
<circle cx="566.5" cy="1120.4" r="4.45" fill="#00ff00"/>
<circle cx="572.5" cy="1120.4" r="4.45" fill="#00ff00"/>
<circle cx="578.5" cy="1120.4" r="4.45" fill="#00ff00"/>
<circle cx="584.5" cy="1120.4" r="4.45" fill="#00ff00"/>
<circle cx="590.5" cy="1120.4" r="4.45" fill="#00ff00"/>
<circle cx="596.5" cy="1120.4" r="4.45" fill="#00ff00"/>
<circle cx="602.5" cy="1120.4" r="4.45" fill="#00ff00"/>
<circle cx="608.5" cy="1120.4" r="4.45" fill="#00ff00"/>
<circle cx="614.5" cy="1120.4" r="4.45" fill="#00ff00"/>
<circle cx="621.5" cy="1120.4" r="4.45" fill="#00ff00"/>
<circle cx="627.5" cy="1120.4" r="4.45" fill="#00ff00"/>
<circle cx="633.5" cy="1120.4" r="4.45" fill="#00ff00"/>
<circle cx="639.5" cy="1120.4" r="4.45" fill="#00ff00"/>
<circle cx="645.5" cy="1120.4" r="4.45" fill="#00ff00"/>
<circle cx="651.5" cy="1120.4" r="4.45" fill="#00ff00"/>
<circle cx="657.5" cy="1120.4" r="4.45" fill="#00ff00"/>
<circle cx="663.5" cy="1120.4" r="4.45" fill="#00ff00"/>
<circle cx="669.5" cy="1120.4" r="4.45" fill="#00ff00"/>
<circle cx="675.5" cy="1120.4" r="4.45" fill="#00ff00"/>
<circle cx="682.5" cy="1120.4" r="4.45" fill="#00ff00"/>
<circle cx="688.5" cy="1120.4" r="4.45" fill="#00ff00"/>
<circle cx="694.5" cy="1120.4" r="4.45" fill="#00ff00"/>
<circle cx="700.5" cy="1120.4" r="4.45" fill="#00ff00"/>
<circle cx="706.5" cy="1120.4" r="4.45" fill="#00ff00"/>
<circle cx="712.5" cy="1120.4" r="4.45" fill="#00ff00"/>
<circle cx="718.5" cy="1120.4" r="4.45" fill="#00ff00"/>
<circle cx="724.5" cy="1120.4" r="4.45" fill="#00ff00"/>
<circle cx="730.5" cy="1120.4" r="4.45" fill="#00ff00"/>
<circle cx="736.5" cy="1120.4" r="4.45" fill="#00ff00"/>
<circle cx="743.5" cy="1120.4" r="4.45" fill="#00ff00"/>
<circle cx="749.5" cy="1120.4" r="4.45" fill="#00ff00"/>
<circle cx="755.5" cy="1120.4" r="4.45" fill="#00ff00"/>
<circle cx="761.5" cy="1120.4" r="4.45" fill="#00ff00"/>
<circle cx="767.5" cy="1120.4" r="4.45" fill="#00ff00"/>
<circle cx="773.5" cy="1120.4" r="4.45" fill="#00ff00"/>
<circle cx="779.5" cy="1120.4" r="4.45" fill="#00ff00"/>
<circle cx="785.5" cy="1120.4" r="4.45" fill="#00ff00"/>
<circle cx="791.5" cy="1120.4" r="4.45" fill="#00ff00"/>
<circle cx="797.5" cy="1120.4" r="4.45" fill="#00ff00"/>
<circle cx="804.5" cy="1120.4" r="4.45" fill="#00ff00"/>
<circle cx="810.5" cy="1120.4" r="4.45" fill="#00ff00"/>
<circle cx="816.5" cy="1120.4" r="4.45" fill="#00ff00"/>
<circle cx="822.5" cy="1120.4" r="4.45" fill="#00ff00"/>
<circle cx="828.5" cy="1120.4" r="4.45" fill="#00ff00"/>
<circle cx="834.5" cy="1120.4" r="4.45" fill="#00ff00"/>
<circle cx="840.5" cy="1120.4" r="4.45" fill="#00ff00"/>
<circle cx="846.5" cy="1120.4" r="4.45" fill="#00ff00"/>
<circle cx="852.5" cy="1120.4" r="4.45" fill="#00ff00"/>
<circle cx="858.5" cy="1120.4" r="4.45" fill="#00ff00"/>
<circle cx="865.5" cy="1120.4" r="4.45" fill="#00ff00"/>
<circle cx="1005.5" cy="1120.4" r="4.45" fill="#00ff00"/>
<circle cx="1011.5" cy="1120.4" r="4.45" fill="#00ff00"/>
<circle cx="1017.5" cy="1120.4" r="4.45" fill="#00ff00"/>
<circle cx="1023.5" cy="1120.4" r="4.45" fill="#00ff00"/>
<circle cx="1029.5" cy="1120.4" r="4.45" fill="#00ff00"/>
<circle cx="1035.5" cy="1120.4" r="4.45" fill="#00ff00"/>
<circle cx="1041.5" cy="1120.4" r="4.45" fill="#00ff00"/>
<circle cx="1048.5" cy="1120.4" r="4.45" fill="#00ff00"/>
<circle cx="1054.5" cy="1120.4" r="4.45" fill="#00ff00"/>
<circle cx="1060.5" cy="1120.4" r="4.45" fill="#00ff00"/>
<circle cx="1066.5" cy="1120.4" r="4.45" fill="#00ff00"/>
<circle cx="1072.5" cy="1120.4" r="4.45" fill="#00ff00"/>
<circle cx="1078.5" cy="1120.4" r="4.45" fill="#00ff00"/>
<circle cx="1084.5" cy="1120.4" r="4.45" fill="#00ff00"/>
<circle cx="1090.5" cy="1120.4" r="4.45" fill="#00ff00"/>
<circle cx="1096.5" cy="1120.4" r="4.45" fill="#00ff00"/>
<circle cx="1102.5" cy="1120.4" r="4.45" fill="#00ff00"/>
<circle cx="1109.5" cy="1120.4" r="4.45" fill="#00ff00"/>
<circle cx="1115.5" cy="1120.4" r="4.45" fill="#00ff00"/>
<circle cx="1121.5" cy="1120.4" r="4.45" fill="#00ff00"/>
<circle cx="1127.5" cy="1120.4" r="4.45" fill="#00ff00"/>
<circle cx="1133.5" cy="1120.4" r="4.45" fill="#00ff00"/>
<circle cx="1139.5" cy="1120.4" r="4.45" fill="#00ff00"/>
<circle cx="1145.5" cy="1120.4" r="4.45" fill="#00ff00"/>
<circle cx="1151.5" cy="1120.4" r="4.45" fill="#00ff00"/>
<circle cx="1157.5" cy="1120.4" r="4.45" fill="#00ff00"/>
<circle cx="1163.5" cy="1120.4" r="4.45" fill="#00ff00"/>
<circle cx="1170.5" cy="1120.4" r="4.45" fill="#00ff00"/>
<circle cx="1176.5" cy="1120.4" r="4.45" fill="#00ff00"/>
<circle cx="1182.5" cy="1120.4" r="4.45" fill="#00ff00"/>
<circle cx="1188.5" cy="1120.4" r="4.45" fill="#00ff00"/>
<circle cx="1194.5" cy="1120.4" r="4.45" fill="#00ff00"/>
<circle cx="1200.5" cy="1120.4" r="4.45" fill="#00ff00"/>
<circle cx="1206.5" cy="1120.4" r="4.45" fill="#00ff00"/>
<circle cx="1212.5" cy="1120.4" r="4.45" fill="#00ff00"/>
<circle cx="1267.5" cy="1120.4" r="4.45" fill="#00ff00"/>
<circle cx="1273.5" cy="1120.4" r="4.45" fill="#00ff00"/>
<circle cx="1279.5" cy="1120.4" r="4.45" fill="#00ff00"/>
<circle cx="1285.5" cy="1120.4" r="4.45" fill="#00ff00"/>
<circle cx="1292.5" cy="1120.4" r="4.45" fill="#00ff00"/>
<circle cx="1298.5" cy="1120.4" r="4.45" fill="#00ff00"/>
<circle cx="1304.5" cy="1120.4" r="4.45" fill="#00ff00"/>
<circle cx="1475.5" cy="1120.4" r="4.45" fill="#00ff00"/>
<circle cx="1481.5" cy="1120.4" r="4.45" fill="#00ff00"/>
<circle cx="1487.5" cy="1120.4" r="4.45" fill="#00ff00"/>
<circle cx="1493.5" cy="1120.4" r="4.45" fill="#00ff00"/>
<circle cx="1499.5" cy="1120.4" r="4.45" fill="#00ff00"/>
<circle cx="1505.5" cy="1120.4" r="4.45" fill="#00ff00"/>
<circle cx="1511.5" cy="1120.4" r="4.45" fill="#00ff00"/>
<circle cx="1517.5" cy="1120.4" r="4.45" fill="#00ff00"/>
<circle cx="1523.5" cy="1120.4" r="4.45" fill="#00ff00"/>
<circle cx="1529.5" cy="1120.4" r="4.45" fill="#00ff00"/>
<circle cx="1536.5" cy="1120.4" r="4.45" fill="#00ff00"/>
<circle cx="1584.5" cy="1120.4" r="4.45" fill="#00ff00"/>
<circle cx="1590.5" cy="1120.4" r="4.45" fill="#00ff00"/>
<circle cx="1597.5" cy="1120.4" r="4.45" fill="#00ff00"/>
<circle cx="1603.5" cy="1120.4" r="4.45" fill="#00ff00"/>
<circle cx="1609.5" cy="1120.4" r="4.45" fill="#00ff00"/>
<circle cx="1615.5" cy="1120.4" r="4.45" fill="#00ff00"/>
<circle cx="1621.5" cy="1120.4" r="4.45" fill="#00ff00"/>
<circle cx="1627.5" cy="1120.4" r="4.45" fill="#00ff00"/>
<circle cx="1633.5" cy="1120.4" r="4.45" fill="#00ff00"/>
<circle cx="1639.5" cy="1120.4" r="4.45" fill="#00ff00"/>
<circle cx="877.5" cy="1120.4" r="4.45" fill="#008000"/>
<circle cx="883.5" cy="1120.4" r="4.45" fill="#008000"/>
<circle cx="889.5" cy="1120.4" r="4.45" fill="#008000"/>
<circle cx="895.5" cy="1120.4" r="4.45" fill="#008000"/>
<circle cx="901.5" cy="1120.4" r="4.45" fill="#008000"/>
<circle cx="907.5" cy="1120.4" r="4.45" fill="#008000"/>
<circle cx="913.5" cy="1120.4" r="4.45" fill="#008000"/>
<circle cx="919.5" cy="1120.4" r="4.45" fill="#008000"/>
<circle cx="926.5" cy="1120.4" r="4.45" fill="#008000"/>
<circle cx="932.5" cy="1120.4" r="4.45" fill="#008000"/>
<circle cx="120.5" cy="1120.4" r="4.45" fill="#000000"/>
<circle cx="127.5" cy="1120.4" r="4.45" fill="#000000"/>
<circle cx="871.5" cy="1120.4" r="4.45" fill="#000000"/>
<circle cx="1218.5" cy="1120.4" r="4.45" fill="#000000"/>
<circle cx="1224.5" cy="1120.4" r="4.45" fill="#000000"/>
<circle cx="1310.5" cy="1120.4" r="4.45" fill="#000000"/>
<circle cx="1316.5" cy="1120.4" r="4.45" fill="#000000"/>
<circle cx="1542.5" cy="1120.4" r="4.45" fill="#000000"/>
<circle cx="1548.5" cy="1120.4" r="4.45" fill="#000000"/>
<circle cx="1645.5" cy="1120.4" r="4.45" fill="#000000"/>
<circle cx="1651.5" cy="1120.4" r="4.45" fill="#000000"/>
<circle cx="133.5" cy="1120.4" r="4.45" fill="#ff0000"/>
<circle cx="139.5" cy="1120.4" r="4.45" fill="#ff0000"/>
<circle cx="145.5" cy="1120.4" r="4.45" fill="#ff0000"/>
<circle cx="151.5" cy="1120.4" r="4.45" fill="#ff0000"/>
<circle cx="157.5" cy="1120.4" r="4.45" fill="#ff0000"/>
<circle cx="163.5" cy="1120.4" r="4.45" fill="#ff0000"/>
<circle cx="169.5" cy="1120.4" r="4.45" fill="#ff0000"/>
<circle cx="175.5" cy="1120.4" r="4.45" fill="#ff0000"/>
<circle cx="181.5" cy="1120.4" r="4.45" fill="#ff0000"/>
<circle cx="188.5" cy="1120.4" r="4.45" fill="#ff0000"/>
<circle cx="194.5" cy="1120.4" r="4.45" fill="#ff0000"/>
<circle cx="200.5" cy="1120.4" r="4.45" fill="#ff0000"/>
<circle cx="206.5" cy="1120.4" r="4.45" fill="#ff0000"/>
<circle cx="212.5" cy="1120.4" r="4.45" fill="#ff0000"/>
<circle cx="218.5" cy="1120.4" r="4.45" fill="#ff0000"/>
<circle cx="224.5" cy="1120.4" r="4.45" fill="#ff0000"/>
<circle cx="230.5" cy="1120.4" r="4.45" fill="#ff0000"/>
<circle cx="236.5" cy="1120.4" r="4.45" fill="#ff0000"/>
<circle cx="242.5" cy="1120.4" r="4.45" fill="#ff0000"/>
<circle cx="249.5" cy="1120.4" r="4.45" fill="#ff0000"/>
<circle cx="255.5" cy="1120.4" r="4.45" fill="#ff0000"/>
<circle cx="261.5" cy="1120.4" r="4.45" fill="#ff0000"/>
<circle cx="267.5" cy="1120.4" r="4.45" fill="#ff0000"/>
<circle cx="273.5" cy="1120.4" r="4.45" fill="#ff0000"/>
<circle cx="279.5" cy="1120.4" r="4.45" fill="#ff0000"/>
<circle cx="285.5" cy="1120.4" r="4.45" fill="#ff0000"/>
<circle cx="291.5" cy="1120.4" r="4.45" fill="#ff0000"/>
<circle cx="297.5" cy="1120.4" r="4.45" fill="#ff0000"/>
<circle cx="303.5" cy="1120.4" r="4.45" fill="#ff0000"/>
<circle cx="310.5" cy="1120.4" r="4.45" fill="#ff0000"/>
<circle cx="316.5" cy="1120.4" r="4.45" fill="#ff0000"/>
<circle cx="322.5" cy="1120.4" r="4.45" fill="#ff0000"/>
<circle cx="328.5" cy="1120.4" r="4.45" fill="#ff0000"/>
<circle cx="334.5" cy="1120.4" r="4.45" fill="#ff0000"/>
<circle cx="340.5" cy="1120.4" r="4.45" fill="#ff0000"/>
<circle cx="346.5" cy="1120.4" r="4.45" fill="#ff0000"/>
<circle cx="352.5" cy="1120.4" r="4.45" fill="#ff0000"/>
<circle cx="358.5" cy="1120.4" r="4.45" fill="#ff0000"/>
<circle cx="364.5" cy="1120.4" r="4.45" fill="#ff0000"/>
<circle cx="371.5" cy="1120.4" r="4.45" fill="#ff0000"/>
<circle cx="377.5" cy="1120.4" r="4.45" fill="#ff0000"/>
<circle cx="383.5" cy="1120.4" r="4.45" fill="#ff0000"/>
<circle cx="389.5" cy="1120.4" r="4.45" fill="#ff0000"/>
<circle cx="395.5" cy="1120.4" r="4.45" fill="#ff0000"/>
<circle cx="401.5" cy="1120.4" r="4.45" fill="#ff0000"/>
<circle cx="407.5" cy="1120.4" r="4.45" fill="#ff0000"/>
<circle cx="413.5" cy="1120.4" r="4.45" fill="#ff0000"/>
<circle cx="419.5" cy="1120.4" r="4.45" fill="#ff0000"/>
<circle cx="938.5" cy="1120.4" r="4.45" fill="#ff0000"/>
<circle cx="944.5" cy="1120.4" r="4.45" fill="#ff0000"/>
<circle cx="950.5" cy="1120.4" r="4.45" fill="#ff0000"/>
<circle cx="956.5" cy="1120.4" r="4.45" fill="#ff0000"/>
<circle cx="962.5" cy="1120.4" r="4.45" fill="#ff0000"/>
<circle cx="968.5" cy="1120.4" r="4.45" fill="#ff0000"/>
<circle cx="974.5" cy="1120.4" r="4.45" fill="#ff0000"/>
<circle cx="980.5" cy="1120.4" r="4.45" fill="#ff0000"/>
<circle cx="1231.5" cy="1120.4" r="4.45" fill="#ff0000"/>
<circle cx="1237.5" cy="1120.4" r="4.45" fill="#ff0000"/>
<circle cx="1243.5" cy="1120.4" r="4.45" fill="#ff0000"/>
<circle cx="1249.5" cy="1120.4" r="4.45" fill="#ff0000"/>
<circle cx="1322.5" cy="1120.4" r="4.45" fill="#ff0000"/>
<circle cx="1328.5" cy="1120.4" r="4.45" fill="#ff0000"/>
<circle cx="1334.5" cy="1120.4" r="4.45" fill="#ff0000"/>
<circle cx="1340.5" cy="1120.4" r="4.45" fill="#ff0000"/>
<circle cx="1346.5" cy="1120.4" r="4.45" fill="#ff0000"/>
<circle cx="1353.5" cy="1120.4" r="4.45" fill="#ff0000"/>
<circle cx="1359.5" cy="1120.4" r="4.45" fill="#ff0000"/>
<circle cx="1365.5" cy="1120.4" r="4.45" fill="#ff0000"/>
<circle cx="1371.5" cy="1120.4" r="4.45" fill="#ff0000"/>
<circle cx="1377.5" cy="1120.4" r="4.45" fill="#ff0000"/>
<circle cx="1383.5" cy="1120.4" r="4.45" fill="#ff0000"/>
<circle cx="1389.5" cy="1120.4" r="4.45" fill="#ff0000"/>
<circle cx="1395.5" cy="1120.4" r="4.45" fill="#ff0000"/>
<circle cx="1401.5" cy="1120.4" r="4.45" fill="#ff0000"/>
<circle cx="1407.5" cy="1120.4" r="4.45" fill="#ff0000"/>
<circle cx="1414.5" cy="1120.4" r="4.45" fill="#ff0000"/>
<circle cx="1420.5" cy="1120.4" r="4.45" fill="#ff0000"/>
<circle cx="1426.5" cy="1120.4" r="4.45" fill="#ff0000"/>
<circle cx="1432.5" cy="1120.4" r="4.45" fill="#ff0000"/>
<circle cx="1438.5" cy="1120.4" r="4.45" fill="#ff0000"/>
<circle cx="1444.5" cy="1120.4" r="4.45" fill="#ff0000"/>
<circle cx="1450.5" cy="1120.4" r="4.45" fill="#ff0000"/>
<circle cx="1456.5" cy="1120.4" r="4.45" fill="#ff0000"/>
<circle cx="1554.5" cy="1120.4" r="4.45" fill="#ff0000"/>
<circle cx="1560.5" cy="1120.4" r="4.45" fill="#ff0000"/>
<circle cx="1566.5" cy="1120.4" r="4.45" fill="#ff0000"/>
<circle cx="1572.5" cy="1120.4" r="4.45" fill="#ff0000"/>
<circle cx="1658.5" cy="1120.4" r="4.45" fill="#ff0000"/>
<circle cx="1664.5" cy="1120.4" r="4.45" fill="#ff0000"/>
<circle cx="1670.5" cy="1120.4" r="4.45" fill="#ff0000"/>
<circle cx="1676.5" cy="1120.4" r="4.45" fill="#ff0000"/>
<circle cx="1682.5" cy="1120.4" r="4.45" fill="#ff0000"/>
<circle cx="1688.5" cy="1120.4" r="4.45" fill="#ff0000"/>
<circle cx="1694.5" cy="1120.4" r="4.45" fill="#ff0000"/>
<circle cx="1700.5" cy="1120.4" r="4.45" fill="#ff0000"/>
<circle cx="1706.5" cy="1120.4" r="4.45" fill="#ff0000"/>
<circle cx="1712.5" cy="1120.4" r="4.45" fill="#ff0000"/>
<circle cx="1719.5" cy="1120.4" r="4.45" fill="#ff0000"/>
<circle cx="1725.5" cy="1120.4" r="4.45" fill="#ff0000"/>
<circle cx="1731.5" cy="1120.4" r="4.45" fill="#ff0000"/>
<circle cx="1737.5" cy="1120.4" r="4.45" fill="#ff0000"/>
<circle cx="1743.5" cy="1120.4" r="4.45" fill="#ff0000"/>
<circle cx="1749.5" cy="1120.4" r="4.45" fill="#ff0000"/>
<circle cx="1755.5" cy="1120.4" r="4.45" fill="#ff0000"/>
<circle cx="1761.5" cy="1120.4" r="4.45" fill="#ff0000"/>
<circle cx="1767.5" cy="1120.4" r="4.45" fill="#ff0000"/>
<circle cx="1773.5" cy="1120.4" r="4.45" fill="#ff0000"/>
<circle cx="1780.5" cy="1120.4" r="4.45" fill="#ff0000"/>
<circle cx="1786.5" cy="1120.4" r="4.45" fill="#ff0000"/>
<circle cx="1792.5" cy="1120.4" r="4.45" fill="#ff0000"/>
<circle cx="1798.5" cy="1120.4" r="4.45" fill="#ff0000"/>
<circle cx="1804.5" cy="1120.4" r="4.45" fill="#ff0000"/>
<circle cx="1810.5" cy="1120.4" r="4.45" fill="#ff0000"/>
<circle cx="1816.5" cy="1120.4" r="4.45" fill="#ff0000"/>
<circle cx="1822.5" cy="1120.4" r="4.45" fill="#ff0000"/>
<circle cx="1828.5" cy="1120.4" r="4.45" fill="#ff0000"/>
<circle cx="1834.5" cy="1120.4" r="4.45" fill="#ff0000"/>
<circle cx="1841.5" cy="1120.4" r="4.45" fill="#ff0000"/>
<circle cx="1847.5" cy="1120.4" r="4.45" fill="#ff0000"/>
<circle cx="1853.5" cy="1120.4" r="4.45" fill="#ff0000"/>
<circle cx="1859.5" cy="1120.4" r="4.45" fill="#ff0000"/>
<circle cx="425.5" cy="1120.4" r="4.45" fill="#ffff00"/>
<circle cx="431.5" cy="1120.4" r="4.45" fill="#ffff00"/>
<circle cx="438.5" cy="1120.4" r="4.45" fill="#ffff00"/>
<circle cx="987.5" cy="1120.4" r="4.45" fill="#ffff00"/>
<circle cx="993.5" cy="1120.4" r="4.45" fill="#ffff00"/>
<circle cx="999.5" cy="1120.4" r="4.45" fill="#ffff00"/>
<circle cx="1255.5" cy="1120.4" r="4.45" fill="#ffff00"/>
<circle cx="1261.5" cy="1120.4" r="4.45" fill="#ffff00"/>
<circle cx="1462.5" cy="1120.4" r="4.45" fill="#ffff00"/>
<circle cx="1468.5" cy="1120.4" r="4.45" fill="#ffff00"/>
<circle cx="1578.5" cy="1120.4" r="4.45" fill="#ffff00"/>
<circle cx="11.5" cy="1120.4" r="4.45" fill="#800000"/>
<circle cx="444.5" cy="1120.4" r="4.45" fill="#800000"/>
<circle cx="450.5" cy="1120.4" r="4.45" fill="#800000"/>
<circle cx="456.5" cy="1120.4" r="4.45" fill="#800000"/>
<circle cx="462.5" cy="1120.4" r="4.45" fill="#800000"/>
<circle cx="468.5" cy="1120.4" r="4.45" fill="#800000"/>
<circle cx="474.5" cy="1120.4" r="4.45" fill="#800000"/>
<circle cx="480.5" cy="1120.4" r="4.45" fill="#800000"/>
<circle cx="486.5" cy="1120.4" r="4.45" fill="#800000"/>
<circle cx="492.5" cy="1120.4" r="4.45" fill="#800000"/>
<circle cx="499.5" cy="1120.4" r="4.45" fill="#800000"/>
<circle cx="505.5" cy="1120.4" r="4.45" fill="#800000"/>
<circle cx="511.5" cy="1120.4" r="4.45" fill="#800000"/>
<circle cx="517.5" cy="1120.4" r="4.45" fill="#800000"/>
<circle cx="523.5" cy="1120.4" r="4.45" fill="#800000"/>
<circle cx="529.5" cy="1120.4" r="4.45" fill="#800000"/>
<circle cx="535.5" cy="1120.4" r="4.45" fill="#800000"/>
<circle cx="541.5" cy="1120.4" r="4.45" fill="#800000"/>
<circle cx="547.5" cy="1120.4" r="4.45" fill="#800000"/>
<circle cx="553.5" cy="1120.4" r="4.45" fill="#800000"/>
</g>
<g clip-path="url(#p4)">
<circle cx="11.5" cy="1138.3" r="4.3" fill="#00ff00"/>
<circle cx="17.5" cy="1138.3" r="4.3" fill="#00ff00"/>
<circle cx="23.5" cy="1138.3" r="4.3" fill="#ff0000"/>
<circle cx="29.5" cy="1138.3" r="4.3" fill="#ff0000"/>
<circle cx="35.5" cy="1138.3" r="4.3" fill="#ff0000"/>
<circle cx="41.5" cy="1138.3" r="4.3" fill="#ff0000"/>
<circle cx="47.5" cy="1138.3" r="4.3" fill="#ff0000"/>
<circle cx="53.5" cy="1138.3" r="4.3" fill="#ff0000"/>
<circle cx="59.5" cy="1138.3" r="4.3" fill="#ff0000"/>
<circle cx="66.5" cy="1138.3" r="4.3" fill="#ff0000"/>
<circle cx="72.5" cy="1138.3" r="4.3" fill="#ff0000"/>
<circle cx="78.5" cy="1138.3" r="4.3" fill="#ff0000"/>
<circle cx="84.5" cy="1138.3" r="4.3" fill="#00ff00"/>
<circle cx="90.5" cy="1138.3" r="4.3" fill="#00ff00"/>
<circle cx="96.5" cy="1138.3" r="4.3" fill="#00ff00"/>
<circle cx="102.5" cy="1138.3" r="4.3" fill="#ff0000"/>
<circle cx="108.5" cy="1138.3" r="4.3" fill="#00ff00"/>
<circle cx="114.5" cy="1138.3" r="4.3" fill="#ff0000"/>
<circle cx="120.5" cy="1138.3" r="4.3" fill="#ff0000"/>
<circle cx="127.5" cy="1138.3" r="4.3" fill="#ff0000"/>
<circle cx="133.5" cy="1138.3" r="4.3" fill="#00ff00"/>
<circle cx="139.5" cy="1138.3" r="4.3" fill="#ff0000"/>
<circle cx="145.5" cy="1138.3" r="4.3" fill="#ff0000"/>
<circle cx="151.5" cy="1138.3" r="4.3" fill="#00ff00"/>
<circle cx="157.5" cy="1138.3" r="4.3" fill="#00ff00"/>
<circle cx="163.5" cy="1138.3" r="4.3" fill="#00ff00"/>
<circle cx="169.5" cy="1138.3" r="4.3" fill="#00ff00"/>
<circle cx="175.5" cy="1138.3" r="4.3" fill="#00ff00"/>
<circle cx="181.5" cy="1138.3" r="4.3" fill="#00ff00"/>
<circle cx="188.5" cy="1138.3" r="4.3" fill="#00ff00"/>
<circle cx="194.5" cy="1138.3" r="4.3" fill="#ff0000"/>
<circle cx="200.5" cy="1138.3" r="4.3" fill="#ff0000"/>
<circle cx="206.5" cy="1138.3" r="4.3" fill="#00ff00"/>
<circle cx="212.5" cy="1138.3" r="4.3" fill="#00ff00"/>
<circle cx="218.5" cy="1138.3" r="4.3" fill="#00ff00"/>
<circle cx="224.5" cy="1138.3" r="4.3" fill="#00ff00"/>
<circle cx="230.5" cy="1138.3" r="4.3" fill="#00ff00"/>
<circle cx="236.5" cy="1138.3" r="4.3" fill="#ff0000"/>
<circle cx="242.5" cy="1138.3" r="4.3" fill="#ff0000"/>
<circle cx="249.5" cy="1138.3" r="4.3" fill="#ff0000"/>
<circle cx="255.5" cy="1138.3" r="4.3" fill="#ff0000"/>
<circle cx="261.5" cy="1138.3" r="4.3" fill="#ff0000"/>
<circle cx="267.5" cy="1138.3" r="4.3" fill="#00ff00"/>
<circle cx="273.5" cy="1138.3" r="4.3" fill="#00ff00"/>
<circle cx="279.5" cy="1138.3" r="4.3" fill="#00ff00"/>
<circle cx="285.5" cy="1138.3" r="4.3" fill="#00ff00"/>
<circle cx="291.5" cy="1138.3" r="4.3" fill="#00ff00"/>
<circle cx="297.5" cy="1138.3" r="4.3" fill="#00ff00"/>
<circle cx="303.5" cy="1138.3" r="4.3" fill="#ff0000"/>
<circle cx="310.5" cy="1138.3" r="4.3" fill="#ff0000"/>
<circle cx="316.5" cy="1138.3" r="4.3" fill="#ff0000"/>
<circle cx="322.5" cy="1138.3" r="4.3" fill="#ff0000"/>
<circle cx="328.5" cy="1138.3" r="4.3" fill="#ff0000"/>
<circle cx="334.5" cy="1138.3" r="4.3" fill="#ff0000"/>
<circle cx="340.5" cy="1138.3" r="4.3" fill="#ff0000"/>
<circle cx="346.5" cy="1138.3" r="4.3" fill="#00ff00"/>
<circle cx="352.5" cy="1138.3" r="4.3" fill="#00ff00"/>
<circle cx="358.5" cy="1138.3" r="4.3" fill="#00ff00"/>
<circle cx="364.5" cy="1138.3" r="4.3" fill="#00ff00"/>
<circle cx="371.5" cy="1138.3" r="4.3" fill="#00ff00"/>
<circle cx="377.5" cy="1138.3" r="4.3" fill="#00ff00"/>
<circle cx="383.5" cy="1138.3" r="4.3" fill="#00ff00"/>
<circle cx="389.5" cy="1138.3" r="4.3" fill="#ff0000"/>
<circle cx="395.5" cy="1138.3" r="4.3" fill="#ff0000"/>
<circle cx="401.5" cy="1138.3" r="4.3" fill="#ff0000"/>
<circle cx="407.5" cy="1138.3" r="4.3" fill="#ff0000"/>
<circle cx="413.5" cy="1138.3" r="4.3" fill="#00ff00"/>
<circle cx="419.5" cy="1138.3" r="4.3" fill="#00ff00"/>
<circle cx="425.5" cy="1138.3" r="4.3" fill="#00ff00"/>
<circle cx="431.5" cy="1138.3" r="4.3" fill="#ff0000"/>
<circle cx="438.5" cy="1138.3" r="4.3" fill="#ff0000"/>
<circle cx="444.5" cy="1138.3" r="4.3" fill="#ff0000"/>
<circle cx="450.5" cy="1138.3" r="4.3" fill="#ff0000"/>
<circle cx="456.5" cy="1138.3" r="4.3" fill="#ff0000"/>
<circle cx="462.5" cy="1138.3" r="4.3" fill="#ff0000"/>
<circle cx="468.5" cy="1138.3" r="4.3" fill="#00ff00"/>
<circle cx="474.5" cy="1138.3" r="4.3" fill="#00ff00"/>
<circle cx="480.5" cy="1138.3" r="4.3" fill="#00ff00"/>
<circle cx="486.5" cy="1138.3" r="4.3" fill="#ff0000"/>
<circle cx="492.5" cy="1138.3" r="4.3" fill="#ff0000"/>
<circle cx="499.5" cy="1138.3" r="4.3" fill="#ff0000"/>
<circle cx="505.5" cy="1138.3" r="4.3" fill="#00ff00"/>
<circle cx="511.5" cy="1138.3" r="4.3" fill="#00ff00"/>
<circle cx="517.5" cy="1138.3" r="4.3" fill="#00ff00"/>
<circle cx="523.5" cy="1138.3" r="4.3" fill="#00ff00"/>
<circle cx="529.5" cy="1138.3" r="4.3" fill="#00ff00"/>
<circle cx="535.5" cy="1138.3" r="4.3" fill="#00ff00"/>
<circle cx="541.5" cy="1138.3" r="4.3" fill="#00ff00"/>
<circle cx="547.5" cy="1138.3" r="4.3" fill="#00ff00"/>
<circle cx="553.5" cy="1138.3" r="4.3" fill="#ff0000"/>
<circle cx="560.5" cy="1138.3" r="4.3" fill="#ff0000"/>
<circle cx="566.5" cy="1138.3" r="4.3" fill="#ff0000"/>
<circle cx="572.5" cy="1138.3" r="4.3" fill="#ff0000"/>
<circle cx="578.5" cy="1138.3" r="4.3" fill="#ff0000"/>
<circle cx="584.5" cy="1138.3" r="4.3" fill="#00ff00"/>
<circle cx="590.5" cy="1138.3" r="4.3" fill="#00ff00"/>
<circle cx="596.5" cy="1138.3" r="4.3" fill="#00ff00"/>
<circle cx="602.5" cy="1138.3" r="4.3" fill="#00ff00"/>
<circle cx="608.5" cy="1138.3" r="4.3" fill="#00ff00"/>
<circle cx="614.5" cy="1138.3" r="4.3" fill="#ff0000"/>
<circle cx="621.5" cy="1138.3" r="4.3" fill="#ff0000"/>
<circle cx="627.5" cy="1138.3" r="4.3" fill="#ff0000"/>
<circle cx="633.5" cy="1138.3" r="4.3" fill="#ff0000"/>
<circle cx="639.5" cy="1138.3" r="4.3" fill="#ff0000"/>
<circle cx="645.5" cy="1138.3" r="4.3" fill="#ff0000"/>
<circle cx="651.5" cy="1138.3" r="4.3" fill="#ff0000"/>
<circle cx="657.5" cy="1138.3" r="4.3" fill="#ff0000"/>
<circle cx="663.5" cy="1138.3" r="4.3" fill="#ff0000"/>
<circle cx="669.5" cy="1138.3" r="4.3" fill="#ff0000"/>
<circle cx="675.5" cy="1138.3" r="4.3" fill="#ff0000"/>
<circle cx="682.5" cy="1138.3" r="4.3" fill="#00ff00"/>
<circle cx="688.5" cy="1138.3" r="4.3" fill="#00ff00"/>
<circle cx="694.5" cy="1138.3" r="4.3" fill="#00ff00"/>
<circle cx="700.5" cy="1138.3" r="4.3" fill="#00ff00"/>
<circle cx="706.5" cy="1138.3" r="4.3" fill="#ff0000"/>
<circle cx="712.5" cy="1138.3" r="4.3" fill="#ff0000"/>
<circle cx="718.5" cy="1138.3" r="4.3" fill="#ff0000"/>
<circle cx="724.5" cy="1138.3" r="4.3" fill="#ff0000"/>
<circle cx="730.5" cy="1138.3" r="4.3" fill="#ff0000"/>
<circle cx="736.5" cy="1138.3" r="4.3" fill="#ff0000"/>
<circle cx="743.5" cy="1138.3" r="4.3" fill="#ff0000"/>
<circle cx="749.5" cy="1138.3" r="4.3" fill="#ff0000"/>
<circle cx="755.5" cy="1138.3" r="4.3" fill="#00ff00"/>
<circle cx="761.5" cy="1138.3" r="4.3" fill="#00ff00"/>
<circle cx="767.5" cy="1138.3" r="4.3" fill="#00ff00"/>
<circle cx="773.5" cy="1138.3" r="4.3" fill="#ff0000"/>
<circle cx="779.5" cy="1138.3" r="4.3" fill="#ff0000"/>
<circle cx="785.5" cy="1138.3" r="4.3" fill="#ff0000"/>
<circle cx="791.5" cy="1138.3" r="4.3" fill="#ff0000"/>
<circle cx="797.5" cy="1138.3" r="4.3" fill="#ff0000"/>
<circle cx="804.5" cy="1138.3" r="4.3" fill="#ff0000"/>
<circle cx="810.5" cy="1138.3" r="4.3" fill="#ff0000"/>
<circle cx="816.5" cy="1138.3" r="4.3" fill="#ff0000"/>
<circle cx="822.5" cy="1138.3" r="4.3" fill="#ff0000"/>
<circle cx="828.5" cy="1138.3" r="4.3" fill="#ff0000"/>
<circle cx="834.5" cy="1138.3" r="4.3" fill="#ff0000"/>
<circle cx="840.5" cy="1138.3" r="4.3" fill="#00ff00"/>
<circle cx="846.5" cy="1138.3" r="4.3" fill="#00ff00"/>
<circle cx="852.5" cy="1138.3" r="4.3" fill="#00ff00"/>
<circle cx="858.5" cy="1138.3" r="4.3" fill="#00ff00"/>
<circle cx="865.5" cy="1138.3" r="4.3" fill="#00ff00"/>
<circle cx="871.5" cy="1138.3" r="4.3" fill="#00ff00"/>
<circle cx="877.5" cy="1138.3" r="4.3" fill="#00ff00"/>
<circle cx="883.5" cy="1138.3" r="4.3" fill="#00ff00"/>
<circle cx="889.5" cy="1138.3" r="4.3" fill="#00ff00"/>
<circle cx="895.5" cy="1138.3" r="4.3" fill="#ff0000"/>
<circle cx="901.5" cy="1138.3" r="4.3" fill="#ff0000"/>
<circle cx="907.5" cy="1138.3" r="4.3" fill="#ff0000"/>
<circle cx="913.5" cy="1138.3" r="4.3" fill="#ff0000"/>
<circle cx="919.5" cy="1138.3" r="4.3" fill="#ff0000"/>
<circle cx="926.5" cy="1138.3" r="4.3" fill="#ff0000"/>
<circle cx="932.5" cy="1138.3" r="4.3" fill="#ff0000"/>
<circle cx="938.5" cy="1138.3" r="4.3" fill="#ff0000"/>
<circle cx="944.5" cy="1138.3" r="4.3" fill="#ff0000"/>
<circle cx="950.5" cy="1138.3" r="4.3" fill="#ff0000"/>
<circle cx="956.5" cy="1138.3" r="4.3" fill="#ff0000"/>
<circle cx="962.5" cy="1138.3" r="4.3" fill="#00ff00"/>
<circle cx="968.5" cy="1138.3" r="4.3" fill="#00ff00"/>
<circle cx="974.5" cy="1138.3" r="4.3" fill="#00ff00"/>
<circle cx="980.5" cy="1138.3" r="4.3" fill="#00ff00"/>
<circle cx="987.5" cy="1138.3" r="4.3" fill="#00ff00"/>
<circle cx="993.5" cy="1138.3" r="4.3" fill="#00ff00"/>
<circle cx="999.5" cy="1138.3" r="4.3" fill="#00ff00"/>
<circle cx="1005.5" cy="1138.3" r="4.3" fill="#ff0000"/>
<circle cx="1011.5" cy="1138.3" r="4.3" fill="#ff0000"/>
<circle cx="1017.5" cy="1138.3" r="4.3" fill="#ff0000"/>
<circle cx="1023.5" cy="1138.3" r="4.3" fill="#ff0000"/>
<circle cx="1029.5" cy="1138.3" r="4.3" fill="#ff0000"/>
<circle cx="1035.5" cy="1138.3" r="4.3" fill="#ff0000"/>
<circle cx="1041.5" cy="1138.3" r="4.3" fill="#00ff00"/>
<circle cx="1048.5" cy="1138.3" r="4.3" fill="#00ff00"/>
<circle cx="1054.5" cy="1138.3" r="4.3" fill="#ff0000"/>
<circle cx="1060.5" cy="1138.3" r="4.3" fill="#00ff00"/>
<circle cx="1066.5" cy="1138.3" r="4.3" fill="#00ff00"/>
<circle cx="1072.5" cy="1138.3" r="4.3" fill="#00ff00"/>
<circle cx="1078.5" cy="1138.3" r="4.3" fill="#00ff00"/>
<circle cx="1084.5" cy="1138.3" r="4.3" fill="#00ff00"/>
<circle cx="1090.5" cy="1138.3" r="4.3" fill="#ff0000"/>
<circle cx="1096.5" cy="1138.3" r="4.3" fill="#ff0000"/>
<circle cx="1102.5" cy="1138.3" r="4.3" fill="#ff0000"/>
<circle cx="1109.5" cy="1138.3" r="4.3" fill="#ff0000"/>
<circle cx="1115.5" cy="1138.3" r="4.3" fill="#ff0000"/>
<circle cx="1121.5" cy="1138.3" r="4.3" fill="#ff0000"/>
<circle cx="1127.5" cy="1138.3" r="4.3" fill="#ff0000"/>
<circle cx="1133.5" cy="1138.3" r="4.3" fill="#ff0000"/>
<circle cx="1139.5" cy="1138.3" r="4.3" fill="#ff0000"/>
<circle cx="1145.5" cy="1138.3" r="4.3" fill="#00ff00"/>
<circle cx="1151.5" cy="1138.3" r="4.3" fill="#00ff00"/>
<circle cx="1157.5" cy="1138.3" r="4.3" fill="#00ff00"/>
<circle cx="1163.5" cy="1138.3" r="4.3" fill="#00ff00"/>
<circle cx="1170.5" cy="1138.3" r="4.3" fill="#00ff00"/>
<circle cx="1176.5" cy="1138.3" r="4.3" fill="#00ff00"/>
<circle cx="1182.5" cy="1138.3" r="4.3" fill="#00ff00"/>
<circle cx="1188.5" cy="1138.3" r="4.3" fill="#00ff00"/>
<circle cx="1194.5" cy="1138.3" r="4.3" fill="#ff0000"/>
<circle cx="1200.5" cy="1138.3" r="4.3" fill="#ff0000"/>
<circle cx="1206.5" cy="1138.3" r="4.3" fill="#ff0000"/>
<circle cx="1212.5" cy="1138.3" r="4.3" fill="#ff0000"/>
<circle cx="1218.5" cy="1138.3" r="4.3" fill="#ff0000"/>
<circle cx="1224.5" cy="1138.3" r="4.3" fill="#00ff00"/>
<circle cx="1231.5" cy="1138.3" r="4.3" fill="#00ff00"/>
<circle cx="1237.5" cy="1138.3" r="4.3" fill="#00ff00"/>
<circle cx="1243.5" cy="1138.3" r="4.3" fill="#00ff00"/>
<circle cx="1249.5" cy="1138.3" r="4.3" fill="#00ff00"/>
<circle cx="1255.5" cy="1138.3" r="4.3" fill="#00ff00"/>
<circle cx="1261.5" cy="1138.3" r="4.3" fill="#00ff00"/>
<circle cx="1267.5" cy="1138.3" r="4.3" fill="#00ff00"/>
<circle cx="1273.5" cy="1138.3" r="4.3" fill="#00ff00"/>
<circle cx="1279.5" cy="1138.3" r="4.3" fill="#ff0000"/>
<circle cx="1285.5" cy="1138.3" r="4.3" fill="#ff0000"/>
<circle cx="1292.5" cy="1138.3" r="4.3" fill="#ff0000"/>
<circle cx="1298.5" cy="1138.3" r="4.3" fill="#ff0000"/>
<circle cx="1304.5" cy="1138.3" r="4.3" fill="#ff0000"/>
<circle cx="1310.5" cy="1138.3" r="4.3" fill="#ff0000"/>
<circle cx="1316.5" cy="1138.3" r="4.3" fill="#ff0000"/>
<circle cx="1322.5" cy="1138.3" r="4.3" fill="#ff0000"/>
<circle cx="1328.5" cy="1138.3" r="4.3" fill="#00ff00"/>
<circle cx="1334.5" cy="1138.3" r="4.3" fill="#00ff00"/>
<circle cx="1340.5" cy="1138.3" r="4.3" fill="#00ff00"/>
<circle cx="1346.5" cy="1138.3" r="4.3" fill="#00ff00"/>
<circle cx="1353.5" cy="1138.3" r="4.3" fill="#00ff00"/>
<circle cx="1359.5" cy="1138.3" r="4.3" fill="#ff0000"/>
<circle cx="1365.5" cy="1138.3" r="4.3" fill="#ff0000"/>
<circle cx="1371.5" cy="1138.3" r="4.3" fill="#ff0000"/>
<circle cx="1377.5" cy="1138.3" r="4.3" fill="#ff0000"/>
<circle cx="1383.5" cy="1138.3" r="4.3" fill="#ff0000"/>
<circle cx="1389.5" cy="1138.3" r="4.3" fill="#ff0000"/>
<circle cx="1395.5" cy="1138.3" r="4.3" fill="#00ff00"/>
<circle cx="1401.5" cy="1138.3" r="4.3" fill="#00ff00"/>
<circle cx="1407.5" cy="1138.3" r="4.3" fill="#00ff00"/>
<circle cx="1414.5" cy="1138.3" r="4.3" fill="#00ff00"/>
<circle cx="1420.5" cy="1138.3" r="4.3" fill="#00ff00"/>
<circle cx="1426.5" cy="1138.3" r="4.3" fill="#00ff00"/>
<circle cx="1432.5" cy="1138.3" r="4.3" fill="#00ff00"/>
<circle cx="1438.5" cy="1138.3" r="4.3" fill="#00ff00"/>
<circle cx="1444.5" cy="1138.3" r="4.3" fill="#00ff00"/>
<circle cx="1450.5" cy="1138.3" r="4.3" fill="#00ff00"/>
<circle cx="1456.5" cy="1138.3" r="4.3" fill="#00ff00"/>
<circle cx="1462.5" cy="1138.3" r="4.3" fill="#00ff00"/>
<circle cx="1468.5" cy="1138.3" r="4.3" fill="#00ff00"/>
<circle cx="1475.5" cy="1138.3" r="4.3" fill="#ff0000"/>
<circle cx="1481.5" cy="1138.3" r="4.3" fill="#ff0000"/>
<circle cx="1487.5" cy="1138.3" r="4.3" fill="#ff0000"/>
<circle cx="1493.5" cy="1138.3" r="4.3" fill="#ff0000"/>
<circle cx="1499.5" cy="1138.3" r="4.3" fill="#ff0000"/>
<circle cx="1505.5" cy="1138.3" r="4.3" fill="#ff0000"/>
<circle cx="1511.5" cy="1138.3" r="4.3" fill="#ff0000"/>
<circle cx="1517.5" cy="1138.3" r="4.3" fill="#ff0000"/>
<circle cx="1523.5" cy="1138.3" r="4.3" fill="#ff0000"/>
<circle cx="1529.5" cy="1138.3" r="4.3" fill="#ff0000"/>
<circle cx="1536.5" cy="1138.3" r="4.3" fill="#ff0000"/>
<circle cx="1542.5" cy="1138.3" r="4.3" fill="#ff0000"/>
<circle cx="1548.5" cy="1138.3" r="4.3" fill="#ff0000"/>
<circle cx="1554.5" cy="1138.3" r="4.3" fill="#00ff00"/>
<circle cx="1560.5" cy="1138.3" r="4.3" fill="#00ff00"/>
<circle cx="1566.5" cy="1138.3" r="4.3" fill="#00ff00"/>
<circle cx="1572.5" cy="1138.3" r="4.3" fill="#00ff00"/>
<circle cx="1578.5" cy="1138.3" r="4.3" fill="#00ff00"/>
<circle cx="1584.5" cy="1138.3" r="4.3" fill="#00ff00"/>
<circle cx="1590.5" cy="1138.3" r="4.3" fill="#00ff00"/>
<circle cx="1597.5" cy="1138.3" r="4.3" fill="#ff0000"/>
<circle cx="1603.5" cy="1138.3" r="4.3" fill="#ff0000"/>
<circle cx="1609.5" cy="1138.3" r="4.3" fill="#ff0000"/>
<circle cx="1615.5" cy="1138.3" r="4.3" fill="#ff0000"/>
<circle cx="1621.5" cy="1138.3" r="4.3" fill="#ff0000"/>
<circle cx="1627.5" cy="1138.3" r="4.3" fill="#ff0000"/>
<circle cx="1633.5" cy="1138.3" r="4.3" fill="#ff0000"/>
<circle cx="1639.5" cy="1138.3" r="4.3" fill="#ff0000"/>
<circle cx="1645.5" cy="1138.3" r="4.3" fill="#ff0000"/>
<circle cx="1651.5" cy="1138.3" r="4.3" fill="#ff0000"/>
<circle cx="1658.5" cy="1138.3" r="4.3" fill="#ff0000"/>
<circle cx="1664.5" cy="1138.3" r="4.3" fill="#ff0000"/>
<circle cx="1670.5" cy="1138.3" r="4.3" fill="#ff0000"/>
<circle cx="1676.5" cy="1138.3" r="4.3" fill="#ff0000"/>
<circle cx="1682.5" cy="1138.3" r="4.3" fill="#ff0000"/>
<circle cx="1688.5" cy="1138.3" r="4.3" fill="#00ff00"/>
<circle cx="1694.5" cy="1138.3" r="4.3" fill="#00ff00"/>
<circle cx="1700.5" cy="1138.3" r="4.3" fill="#00ff00"/>
<circle cx="1706.5" cy="1138.3" r="4.3" fill="#00ff00"/>
<circle cx="1712.5" cy="1138.3" r="4.3" fill="#00ff00"/>
<circle cx="1719.5" cy="1138.3" r="4.3" fill="#00ff00"/>
<circle cx="1725.5" cy="1138.3" r="4.3" fill="#00ff00"/>
<circle cx="1731.5" cy="1138.3" r="4.3" fill="#00ff00"/>
<circle cx="1737.5" cy="1138.3" r="4.3" fill="#00ff00"/>
<circle cx="1743.5" cy="1138.3" r="4.3" fill="#ff0000"/>
<circle cx="1749.5" cy="1138.3" r="4.3" fill="#ff0000"/>
<circle cx="1755.5" cy="1138.3" r="4.3" fill="#ff0000"/>
<circle cx="1761.5" cy="1138.3" r="4.3" fill="#ff0000"/>
<circle cx="1767.5" cy="1138.3" r="4.3" fill="#ff0000"/>
<circle cx="1773.5" cy="1138.3" r="4.3" fill="#ff0000"/>
<circle cx="1780.5" cy="1138.3" r="4.3" fill="#ff0000"/>
<circle cx="1786.5" cy="1138.3" r="4.3" fill="#ff0000"/>
<circle cx="1792.5" cy="1138.3" r="4.3" fill="#ff0000"/>
<circle cx="1798.5" cy="1138.3" r="4.3" fill="#ff0000"/>
<circle cx="1804.5" cy="1138.3" r="4.3" fill="#00ff00"/>
<circle cx="1810.5" cy="1138.3" r="4.3" fill="#00ff00"/>
<circle cx="1816.5" cy="1138.3" r="4.3" fill="#00ff00"/>
<circle cx="1822.5" cy="1138.3" r="4.3" fill="#00ff00"/>
<circle cx="1828.5" cy="1138.3" r="4.3" fill="#00ff00"/>
<circle cx="1834.5" cy="1138.3" r="4.3" fill="#ff0000"/>
<circle cx="1841.5" cy="1138.3" r="4.3" fill="#ff0000"/>
<circle cx="1847.5" cy="1138.3" r="4.3" fill="#ff0000"/>
<circle cx="1853.5" cy="1138.3" r="4.3" fill="#ff0000"/>
<circle cx="1859.5" cy="1138.3" r="4.3" fill="#ff0000"/>
<circle cx="11.5" cy="1138.3" r="2.2" fill="#ff0000"/>
<circle cx="17.5" cy="1138.3" r="2.2" fill="#ff0000"/>
<circle cx="255.5" cy="1138.3" r="2.2" fill="#00ff00"/>
<circle cx="261.5" cy="1138.3" r="2.2" fill="#00ff00"/>
<circle cx="535.5" cy="1138.3" r="2.2" fill="#ff0000"/>
<circle cx="541.5" cy="1138.3" r="2.2" fill="#ff0000"/>
<circle cx="547.5" cy="1138.3" r="2.2" fill="#ff0000"/>
<circle cx="590.5" cy="1138.3" r="2.2" fill="#ff0000"/>
<circle cx="596.5" cy="1138.3" r="2.2" fill="#ff0000"/>
<circle cx="602.5" cy="1138.3" r="2.2" fill="#ff0000"/>
<circle cx="608.5" cy="1138.3" r="2.2" fill="#ff0000"/>
<circle cx="694.5" cy="1138.3" r="2.2" fill="#ff0000"/>
<circle cx="700.5" cy="1138.3" r="2.2" fill="#ff0000"/>
<circle cx="761.5" cy="1138.3" r="2.2" fill="#ff0000"/>
<circle cx="767.5" cy="1138.3" r="2.2" fill="#ff0000"/>
<circle cx="828.5" cy="1138.3" r="2.2" fill="#00ff00"/>
<circle cx="834.5" cy="1138.3" r="2.2" fill="#00ff00"/>
<circle cx="883.5" cy="1138.3" r="2.2" fill="#ff0000"/>
<circle cx="889.5" cy="1138.3" r="2.2" fill="#ff0000"/>
<circle cx="987.5" cy="1138.3" r="2.2" fill="#ff0000"/>
<circle cx="993.5" cy="1138.3" r="2.2" fill="#ff0000"/>
<circle cx="999.5" cy="1138.3" r="2.2" fill="#ff0000"/>
<circle cx="1072.5" cy="1138.3" r="2.2" fill="#ff0000"/>
<circle cx="1078.5" cy="1138.3" r="2.2" fill="#ff0000"/>
<circle cx="1084.5" cy="1138.3" r="2.2" fill="#ff0000"/>
<circle cx="1273.5" cy="1138.3" r="2.2" fill="#ff0000"/>
<circle cx="1310.5" cy="1138.3" r="2.2" fill="#00ff00"/>
<circle cx="1316.5" cy="1138.3" r="2.2" fill="#00ff00"/>
<circle cx="1322.5" cy="1138.3" r="2.2" fill="#00ff00"/>
<circle cx="1456.5" cy="1138.3" r="2.2" fill="#ff0000"/>
<circle cx="1462.5" cy="1138.3" r="2.2" fill="#ff0000"/>
<circle cx="1468.5" cy="1138.3" r="2.2" fill="#ff0000"/>
<circle cx="1536.5" cy="1138.3" r="2.2" fill="#00ff00"/>
<circle cx="1542.5" cy="1138.3" r="2.2" fill="#00ff00"/>
<circle cx="1548.5" cy="1138.3" r="2.2" fill="#00ff00"/>
<circle cx="1578.5" cy="1138.3" r="2.2" fill="#ff0000"/>
<circle cx="1584.5" cy="1138.3" r="2.2" fill="#ff0000"/>
<circle cx="1590.5" cy="1138.3" r="2.2" fill="#ff0000"/>
<circle cx="1847.5" cy="1138.3" r="2.2" fill="#00ff00"/>
<circle cx="1853.5" cy="1138.3" r="2.2" fill="#00ff00"/>
<circle cx="1859.5" cy="1138.3" r="2.2" fill="#00ff00"/>
<circle cx="11.5" cy="1150.2" r="4.3" fill="#00ff00"/>
<circle cx="17.5" cy="1150.2" r="4.3" fill="#00ff00"/>
<circle cx="23.5" cy="1150.2" r="4.3" fill="#00ff00"/>
<circle cx="29.5" cy="1150.2" r="4.3" fill="#00ff00"/>
<circle cx="35.5" cy="1150.2" r="4.3" fill="#00ff00"/>
<circle cx="41.5" cy="1150.2" r="4.3" fill="#00ff00"/>
<circle cx="47.5" cy="1150.2" r="4.3" fill="#00ff00"/>
<circle cx="53.5" cy="1150.2" r="4.3" fill="#ff0000"/>
<circle cx="59.5" cy="1150.2" r="4.3" fill="#ff0000"/>
<circle cx="66.5" cy="1150.2" r="4.3" fill="#ff0000"/>
<circle cx="72.5" cy="1150.2" r="4.3" fill="#ff0000"/>
<circle cx="78.5" cy="1150.2" r="4.3" fill="#ff0000"/>
<circle cx="84.5" cy="1150.2" r="4.3" fill="#ff0000"/>
<circle cx="90.5" cy="1150.2" r="4.3" fill="#ff0000"/>
<circle cx="96.5" cy="1150.2" r="4.3" fill="#ff0000"/>
<circle cx="102.5" cy="1150.2" r="4.3" fill="#ff0000"/>
<circle cx="108.5" cy="1150.2" r="4.3" fill="#ff0000"/>
<circle cx="114.5" cy="1150.2" r="4.3" fill="#ff0000"/>
<circle cx="120.5" cy="1150.2" r="4.3" fill="#ff0000"/>
<circle cx="127.5" cy="1150.2" r="4.3" fill="#ff0000"/>
<circle cx="133.5" cy="1150.2" r="4.3" fill="#ff0000"/>
<circle cx="139.5" cy="1150.2" r="4.3" fill="#ff0000"/>
<circle cx="145.5" cy="1150.2" r="4.3" fill="#ff0000"/>
<circle cx="151.5" cy="1150.2" r="4.3" fill="#00ff00"/>
<circle cx="157.5" cy="1150.2" r="4.3" fill="#ff0000"/>
<circle cx="163.5" cy="1150.2" r="4.3" fill="#ff0000"/>
<circle cx="169.5" cy="1150.2" r="4.3" fill="#00ff00"/>
<circle cx="175.5" cy="1150.2" r="4.3" fill="#00ff00"/>
<circle cx="181.5" cy="1150.2" r="4.3" fill="#00ff00"/>
<circle cx="188.5" cy="1150.2" r="4.3" fill="#00ff00"/>
<circle cx="194.5" cy="1150.2" r="4.3" fill="#00ff00"/>
<circle cx="200.5" cy="1150.2" r="4.3" fill="#00ff00"/>
<circle cx="206.5" cy="1150.2" r="4.3" fill="#00ff00"/>
<circle cx="212.5" cy="1150.2" r="4.3" fill="#00ff00"/>
<circle cx="218.5" cy="1150.2" r="4.3" fill="#00ff00"/>
<circle cx="224.5" cy="1150.2" r="4.3" fill="#00ff00"/>
<circle cx="230.5" cy="1150.2" r="4.3" fill="#ff0000"/>
<circle cx="236.5" cy="1150.2" r="4.3" fill="#ff0000"/>
<circle cx="242.5" cy="1150.2" r="4.3" fill="#ff0000"/>
<circle cx="249.5" cy="1150.2" r="4.3" fill="#ff0000"/>
<circle cx="255.5" cy="1150.2" r="4.3" fill="#ff0000"/>
<circle cx="261.5" cy="1150.2" r="4.3" fill="#ff0000"/>
<circle cx="267.5" cy="1150.2" r="4.3" fill="#ff0000"/>
<circle cx="273.5" cy="1150.2" r="4.3" fill="#00ff00"/>
<circle cx="279.5" cy="1150.2" r="4.3" fill="#00ff00"/>
<circle cx="285.5" cy="1150.2" r="4.3" fill="#00ff00"/>
<circle cx="291.5" cy="1150.2" r="4.3" fill="#00ff00"/>
<circle cx="297.5" cy="1150.2" r="4.3" fill="#00ff00"/>
<circle cx="303.5" cy="1150.2" r="4.3" fill="#00ff00"/>
<circle cx="310.5" cy="1150.2" r="4.3" fill="#00ff00"/>
<circle cx="316.5" cy="1150.2" r="4.3" fill="#00ff00"/>
<circle cx="322.5" cy="1150.2" r="4.3" fill="#ff0000"/>
<circle cx="328.5" cy="1150.2" r="4.3" fill="#ff0000"/>
<circle cx="334.5" cy="1150.2" r="4.3" fill="#ff0000"/>
<circle cx="340.5" cy="1150.2" r="4.3" fill="#ff0000"/>
<circle cx="346.5" cy="1150.2" r="4.3" fill="#ff0000"/>
<circle cx="352.5" cy="1150.2" r="4.3" fill="#ff0000"/>
<circle cx="358.5" cy="1150.2" r="4.3" fill="#ff0000"/>
<circle cx="364.5" cy="1150.2" r="4.3" fill="#00ff00"/>
<circle cx="371.5" cy="1150.2" r="4.3" fill="#00ff00"/>
<circle cx="377.5" cy="1150.2" r="4.3" fill="#00ff00"/>
<circle cx="383.5" cy="1150.2" r="4.3" fill="#00ff00"/>
<circle cx="389.5" cy="1150.2" r="4.3" fill="#00ff00"/>
<circle cx="395.5" cy="1150.2" r="4.3" fill="#00ff00"/>
<circle cx="401.5" cy="1150.2" r="4.3" fill="#00ff00"/>
<circle cx="407.5" cy="1150.2" r="4.3" fill="#00ff00"/>
<circle cx="413.5" cy="1150.2" r="4.3" fill="#00ff00"/>
<circle cx="419.5" cy="1150.2" r="4.3" fill="#00ff00"/>
<circle cx="425.5" cy="1150.2" r="4.3" fill="#00ff00"/>
<circle cx="431.5" cy="1150.2" r="4.3" fill="#00ff00"/>
<circle cx="438.5" cy="1150.2" r="4.3" fill="#ff0000"/>
<circle cx="444.5" cy="1150.2" r="4.3" fill="#ff0000"/>
<circle cx="450.5" cy="1150.2" r="4.3" fill="#ff0000"/>
<circle cx="456.5" cy="1150.2" r="4.3" fill="#ff0000"/>
<circle cx="462.5" cy="1150.2" r="4.3" fill="#ff0000"/>
<circle cx="468.5" cy="1150.2" r="4.3" fill="#ff0000"/>
<circle cx="474.5" cy="1150.2" r="4.3" fill="#ff0000"/>
<circle cx="480.5" cy="1150.2" r="4.3" fill="#ff0000"/>
<circle cx="486.5" cy="1150.2" r="4.3" fill="#ff0000"/>
<circle cx="492.5" cy="1150.2" r="4.3" fill="#ff0000"/>
<circle cx="499.5" cy="1150.2" r="4.3" fill="#ff0000"/>
<circle cx="505.5" cy="1150.2" r="4.3" fill="#00ff00"/>
<circle cx="511.5" cy="1150.2" r="4.3" fill="#00ff00"/>
<circle cx="517.5" cy="1150.2" r="4.3" fill="#00ff00"/>
<circle cx="523.5" cy="1150.2" r="4.3" fill="#00ff00"/>
<circle cx="529.5" cy="1150.2" r="4.3" fill="#00ff00"/>
<circle cx="535.5" cy="1150.2" r="4.3" fill="#00ff00"/>
<circle cx="541.5" cy="1150.2" r="4.3" fill="#00ff00"/>
<circle cx="547.5" cy="1150.2" r="4.3" fill="#00ff00"/>
<circle cx="553.5" cy="1150.2" r="4.3" fill="#00ff00"/>
<circle cx="560.5" cy="1150.2" r="4.3" fill="#00ff00"/>
<circle cx="566.5" cy="1150.2" r="4.3" fill="#00ff00"/>
<circle cx="572.5" cy="1150.2" r="4.3" fill="#00ff00"/>
<circle cx="578.5" cy="1150.2" r="4.3" fill="#00ff00"/>
<circle cx="584.5" cy="1150.2" r="4.3" fill="#00ff00"/>
<circle cx="590.5" cy="1150.2" r="4.3" fill="#00ff00"/>
<circle cx="596.5" cy="1150.2" r="4.3" fill="#00ff00"/>
<circle cx="602.5" cy="1150.2" r="4.3" fill="#00ff00"/>
<circle cx="608.5" cy="1150.2" r="4.3" fill="#00ff00"/>
<circle cx="614.5" cy="1150.2" r="4.3" fill="#00ff00"/>
<circle cx="621.5" cy="1150.2" r="4.3" fill="#00ff00"/>
<circle cx="627.5" cy="1150.2" r="4.3" fill="#ff0000"/>
<circle cx="633.5" cy="1150.2" r="4.3" fill="#ff0000"/>
<circle cx="639.5" cy="1150.2" r="4.3" fill="#ff0000"/>
<circle cx="645.5" cy="1150.2" r="4.3" fill="#ff0000"/>
<circle cx="651.5" cy="1150.2" r="4.3" fill="#ff0000"/>
<circle cx="657.5" cy="1150.2" r="4.3" fill="#ff0000"/>
<circle cx="663.5" cy="1150.2" r="4.3" fill="#ff0000"/>
<circle cx="669.5" cy="1150.2" r="4.3" fill="#ff0000"/>
<circle cx="675.5" cy="1150.2" r="4.3" fill="#ff0000"/>
<circle cx="682.5" cy="1150.2" r="4.3" fill="#ff0000"/>
<circle cx="688.5" cy="1150.2" r="4.3" fill="#ff0000"/>
<circle cx="694.5" cy="1150.2" r="4.3" fill="#00ff00"/>
<circle cx="700.5" cy="1150.2" r="4.3" fill="#00ff00"/>
<circle cx="706.5" cy="1150.2" r="4.3" fill="#00ff00"/>
<circle cx="712.5" cy="1150.2" r="4.3" fill="#00ff00"/>
<circle cx="718.5" cy="1150.2" r="4.3" fill="#00ff00"/>
<circle cx="724.5" cy="1150.2" r="4.3" fill="#00ff00"/>
<circle cx="730.5" cy="1150.2" r="4.3" fill="#ff0000"/>
<circle cx="736.5" cy="1150.2" r="4.3" fill="#ff0000"/>
<circle cx="743.5" cy="1150.2" r="4.3" fill="#ff0000"/>
<circle cx="749.5" cy="1150.2" r="4.3" fill="#ff0000"/>
<circle cx="755.5" cy="1150.2" r="4.3" fill="#00ff00"/>
<circle cx="761.5" cy="1150.2" r="4.3" fill="#00ff00"/>
<circle cx="767.5" cy="1150.2" r="4.3" fill="#00ff00"/>
<circle cx="773.5" cy="1150.2" r="4.3" fill="#ff0000"/>
<circle cx="779.5" cy="1150.2" r="4.3" fill="#ff0000"/>
<circle cx="785.5" cy="1150.2" r="4.3" fill="#ff0000"/>
<circle cx="791.5" cy="1150.2" r="4.3" fill="#ff0000"/>
<circle cx="797.5" cy="1150.2" r="4.3" fill="#ff0000"/>
<circle cx="804.5" cy="1150.2" r="4.3" fill="#ff0000"/>
<circle cx="810.5" cy="1150.2" r="4.3" fill="#ff0000"/>
<circle cx="816.5" cy="1150.2" r="4.3" fill="#ff0000"/>
<circle cx="822.5" cy="1150.2" r="4.3" fill="#ff0000"/>
<circle cx="828.5" cy="1150.2" r="4.3" fill="#ff0000"/>
<circle cx="834.5" cy="1150.2" r="4.3" fill="#ff0000"/>
<circle cx="840.5" cy="1150.2" r="4.3" fill="#ff0000"/>
<circle cx="846.5" cy="1150.2" r="4.3" fill="#ff0000"/>
<circle cx="852.5" cy="1150.2" r="4.3" fill="#ff0000"/>
<circle cx="858.5" cy="1150.2" r="4.3" fill="#ff0000"/>
<circle cx="865.5" cy="1150.2" r="4.3" fill="#ff0000"/>
<circle cx="871.5" cy="1150.2" r="4.3" fill="#00ff00"/>
<circle cx="877.5" cy="1150.2" r="4.3" fill="#00ff00"/>
<circle cx="883.5" cy="1150.2" r="4.3" fill="#00ff00"/>
<circle cx="889.5" cy="1150.2" r="4.3" fill="#00ff00"/>
<circle cx="895.5" cy="1150.2" r="4.3" fill="#00ff00"/>
<circle cx="901.5" cy="1150.2" r="4.3" fill="#00ff00"/>
<circle cx="907.5" cy="1150.2" r="4.3" fill="#00ff00"/>
<circle cx="913.5" cy="1150.2" r="4.3" fill="#00ff00"/>
<circle cx="919.5" cy="1150.2" r="4.3" fill="#00ff00"/>
<circle cx="926.5" cy="1150.2" r="4.3" fill="#ff0000"/>
<circle cx="932.5" cy="1150.2" r="4.3" fill="#ff0000"/>
<circle cx="938.5" cy="1150.2" r="4.3" fill="#ff0000"/>
<circle cx="944.5" cy="1150.2" r="4.3" fill="#ff0000"/>
<circle cx="950.5" cy="1150.2" r="4.3" fill="#ff0000"/>
<circle cx="956.5" cy="1150.2" r="4.3" fill="#ff0000"/>
<circle cx="962.5" cy="1150.2" r="4.3" fill="#ff0000"/>
<circle cx="968.5" cy="1150.2" r="4.3" fill="#ff0000"/>
<circle cx="974.5" cy="1150.2" r="4.3" fill="#00ff00"/>
<circle cx="980.5" cy="1150.2" r="4.3" fill="#00ff00"/>
<circle cx="987.5" cy="1150.2" r="4.3" fill="#00ff00"/>
<circle cx="993.5" cy="1150.2" r="4.3" fill="#00ff00"/>
<circle cx="999.5" cy="1150.2" r="4.3" fill="#00ff00"/>
<circle cx="1005.5" cy="1150.2" r="4.3" fill="#00ff00"/>
<circle cx="1011.5" cy="1150.2" r="4.3" fill="#00ff00"/>
<circle cx="1017.5" cy="1150.2" r="4.3" fill="#00ff00"/>
<circle cx="1023.5" cy="1150.2" r="4.3" fill="#00ff00"/>
<circle cx="1029.5" cy="1150.2" r="4.3" fill="#00ff00"/>
<circle cx="1035.5" cy="1150.2" r="4.3" fill="#00ff00"/>
<circle cx="1041.5" cy="1150.2" r="4.3" fill="#ff0000"/>
<circle cx="1048.5" cy="1150.2" r="4.3" fill="#ff0000"/>
<circle cx="1054.5" cy="1150.2" r="4.3" fill="#ff0000"/>
<circle cx="1060.5" cy="1150.2" r="4.3" fill="#ff0000"/>
<circle cx="1066.5" cy="1150.2" r="4.3" fill="#00ff00"/>
<circle cx="1072.5" cy="1150.2" r="4.3" fill="#00ff00"/>
<circle cx="1078.5" cy="1150.2" r="4.3" fill="#00ff00"/>
<circle cx="1084.5" cy="1150.2" r="4.3" fill="#00ff00"/>
<circle cx="1090.5" cy="1150.2" r="4.3" fill="#00ff00"/>
<circle cx="1096.5" cy="1150.2" r="4.3" fill="#00ff00"/>
<circle cx="1102.5" cy="1150.2" r="4.3" fill="#ff0000"/>
<circle cx="1109.5" cy="1150.2" r="4.3" fill="#ff0000"/>
<circle cx="1115.5" cy="1150.2" r="4.3" fill="#ff0000"/>
<circle cx="1121.5" cy="1150.2" r="4.3" fill="#ff0000"/>
<circle cx="1127.5" cy="1150.2" r="4.3" fill="#ff0000"/>
<circle cx="1133.5" cy="1150.2" r="4.3" fill="#ff0000"/>
<circle cx="1139.5" cy="1150.2" r="4.3" fill="#ff0000"/>
<circle cx="1145.5" cy="1150.2" r="4.3" fill="#ff0000"/>
<circle cx="1151.5" cy="1150.2" r="4.3" fill="#ff0000"/>
<circle cx="1157.5" cy="1150.2" r="4.3" fill="#ff0000"/>
<circle cx="1163.5" cy="1150.2" r="4.3" fill="#ff0000"/>
<circle cx="1170.5" cy="1150.2" r="4.3" fill="#ff0000"/>
<circle cx="1176.5" cy="1150.2" r="4.3" fill="#ff0000"/>
<circle cx="1182.5" cy="1150.2" r="4.3" fill="#ff0000"/>
<circle cx="1188.5" cy="1150.2" r="4.3" fill="#ff0000"/>
<circle cx="1194.5" cy="1150.2" r="4.3" fill="#ff0000"/>
<circle cx="1200.5" cy="1150.2" r="4.3" fill="#ff0000"/>
<circle cx="1206.5" cy="1150.2" r="4.3" fill="#ff0000"/>
<circle cx="1212.5" cy="1150.2" r="4.3" fill="#ff0000"/>
<circle cx="1218.5" cy="1150.2" r="4.3" fill="#ff0000"/>
<circle cx="1224.5" cy="1150.2" r="4.3" fill="#ff0000"/>
<circle cx="1231.5" cy="1150.2" r="4.3" fill="#ff0000"/>
<circle cx="1237.5" cy="1150.2" r="4.3" fill="#00ff00"/>
<circle cx="1243.5" cy="1150.2" r="4.3" fill="#00ff00"/>
<circle cx="1249.5" cy="1150.2" r="4.3" fill="#00ff00"/>
<circle cx="1255.5" cy="1150.2" r="4.3" fill="#00ff00"/>
<circle cx="1261.5" cy="1150.2" r="4.3" fill="#00ff00"/>
<circle cx="1267.5" cy="1150.2" r="4.3" fill="#00ff00"/>
<circle cx="1273.5" cy="1150.2" r="4.3" fill="#00ff00"/>
<circle cx="1279.5" cy="1150.2" r="4.3" fill="#00ff00"/>
<circle cx="1285.5" cy="1150.2" r="4.3" fill="#00ff00"/>
<circle cx="1292.5" cy="1150.2" r="4.3" fill="#ff0000"/>
<circle cx="1298.5" cy="1150.2" r="4.3" fill="#ff0000"/>
<circle cx="1304.5" cy="1150.2" r="4.3" fill="#ff0000"/>
<circle cx="1310.5" cy="1150.2" r="4.3" fill="#ff0000"/>
<circle cx="1316.5" cy="1150.2" r="4.3" fill="#ff0000"/>
<circle cx="1322.5" cy="1150.2" r="4.3" fill="#ff0000"/>
<circle cx="1328.5" cy="1150.2" r="4.3" fill="#ff0000"/>
<circle cx="1334.5" cy="1150.2" r="4.3" fill="#ff0000"/>
<circle cx="1340.5" cy="1150.2" r="4.3" fill="#ff0000"/>
<circle cx="1346.5" cy="1150.2" r="4.3" fill="#ff0000"/>
<circle cx="1353.5" cy="1150.2" r="4.3" fill="#ff0000"/>
<circle cx="1359.5" cy="1150.2" r="4.3" fill="#ff0000"/>
<circle cx="1365.5" cy="1150.2" r="4.3" fill="#00ff00"/>
<circle cx="1371.5" cy="1150.2" r="4.3" fill="#00ff00"/>
<circle cx="1377.5" cy="1150.2" r="4.3" fill="#ff0000"/>
<circle cx="1383.5" cy="1150.2" r="4.3" fill="#ff0000"/>
<circle cx="1389.5" cy="1150.2" r="4.3" fill="#ff0000"/>
<circle cx="1395.5" cy="1150.2" r="4.3" fill="#00ff00"/>
<circle cx="1401.5" cy="1150.2" r="4.3" fill="#00ff00"/>
<circle cx="1407.5" cy="1150.2" r="4.3" fill="#00ff00"/>
<circle cx="1414.5" cy="1150.2" r="4.3" fill="#00ff00"/>
<circle cx="1420.5" cy="1150.2" r="4.3" fill="#00ff00"/>
<circle cx="1426.5" cy="1150.2" r="4.3" fill="#00ff00"/>
<circle cx="1432.5" cy="1150.2" r="4.3" fill="#00ff00"/>
<circle cx="1438.5" cy="1150.2" r="4.3" fill="#00ff00"/>
<circle cx="1444.5" cy="1150.2" r="4.3" fill="#00ff00"/>
<circle cx="1450.5" cy="1150.2" r="4.3" fill="#00ff00"/>
<circle cx="1456.5" cy="1150.2" r="4.3" fill="#00ff00"/>
<circle cx="1462.5" cy="1150.2" r="4.3" fill="#00ff00"/>
<circle cx="1468.5" cy="1150.2" r="4.3" fill="#00ff00"/>
<circle cx="1475.5" cy="1150.2" r="4.3" fill="#00ff00"/>
<circle cx="1481.5" cy="1150.2" r="4.3" fill="#00ff00"/>
<circle cx="1487.5" cy="1150.2" r="4.3" fill="#00ff00"/>
<circle cx="1493.5" cy="1150.2" r="4.3" fill="#00ff00"/>
<circle cx="1499.5" cy="1150.2" r="4.3" fill="#ff0000"/>
<circle cx="1505.5" cy="1150.2" r="4.3" fill="#ff0000"/>
<circle cx="1511.5" cy="1150.2" r="4.3" fill="#ff0000"/>
<circle cx="1517.5" cy="1150.2" r="4.3" fill="#ff0000"/>
<circle cx="1523.5" cy="1150.2" r="4.3" fill="#ff0000"/>
<circle cx="1529.5" cy="1150.2" r="4.3" fill="#ff0000"/>
<circle cx="1536.5" cy="1150.2" r="4.3" fill="#ff0000"/>
<circle cx="1542.5" cy="1150.2" r="4.3" fill="#ff0000"/>
<circle cx="1548.5" cy="1150.2" r="4.3" fill="#ff0000"/>
<circle cx="1554.5" cy="1150.2" r="4.3" fill="#ff0000"/>
<circle cx="1560.5" cy="1150.2" r="4.3" fill="#ff0000"/>
<circle cx="1566.5" cy="1150.2" r="4.3" fill="#00ff00"/>
<circle cx="1572.5" cy="1150.2" r="4.3" fill="#00ff00"/>
<circle cx="1578.5" cy="1150.2" r="4.3" fill="#00ff00"/>
<circle cx="1584.5" cy="1150.2" r="4.3" fill="#00ff00"/>
<circle cx="1590.5" cy="1150.2" r="4.3" fill="#00ff00"/>
<circle cx="1597.5" cy="1150.2" r="4.3" fill="#00ff00"/>
<circle cx="1603.5" cy="1150.2" r="4.3" fill="#00ff00"/>
<circle cx="1609.5" cy="1150.2" r="4.3" fill="#00ff00"/>
<circle cx="1615.5" cy="1150.2" r="4.3" fill="#00ff00"/>
<circle cx="1621.5" cy="1150.2" r="4.3" fill="#ff0000"/>
<circle cx="1627.5" cy="1150.2" r="4.3" fill="#ff0000"/>
<circle cx="1633.5" cy="1150.2" r="4.3" fill="#ff0000"/>
<circle cx="1639.5" cy="1150.2" r="4.3" fill="#ff0000"/>
<circle cx="1645.5" cy="1150.2" r="4.3" fill="#ff0000"/>
<circle cx="1651.5" cy="1150.2" r="4.3" fill="#ff0000"/>
<circle cx="1658.5" cy="1150.2" r="4.3" fill="#ff0000"/>
<circle cx="1664.5" cy="1150.2" r="4.3" fill="#ff0000"/>
<circle cx="1670.5" cy="1150.2" r="4.3" fill="#ff0000"/>
<circle cx="1676.5" cy="1150.2" r="4.3" fill="#ff0000"/>
<circle cx="1682.5" cy="1150.2" r="4.3" fill="#ff0000"/>
<circle cx="1688.5" cy="1150.2" r="4.3" fill="#ff0000"/>
<circle cx="1694.5" cy="1150.2" r="4.3" fill="#ff0000"/>
<circle cx="1700.5" cy="1150.2" r="4.3" fill="#ff0000"/>
<circle cx="1706.5" cy="1150.2" r="4.3" fill="#00ff00"/>
<circle cx="1712.5" cy="1150.2" r="4.3" fill="#00ff00"/>
<circle cx="1719.5" cy="1150.2" r="4.3" fill="#00ff00"/>
<circle cx="1725.5" cy="1150.2" r="4.3" fill="#00ff00"/>
<circle cx="1731.5" cy="1150.2" r="4.3" fill="#00ff00"/>
<circle cx="1737.5" cy="1150.2" r="4.3" fill="#00ff00"/>
<circle cx="1743.5" cy="1150.2" r="4.3" fill="#00ff00"/>
<circle cx="1749.5" cy="1150.2" r="4.3" fill="#00ff00"/>
<circle cx="1755.5" cy="1150.2" r="4.3" fill="#00ff00"/>
<circle cx="1761.5" cy="1150.2" r="4.3" fill="#ff0000"/>
<circle cx="1767.5" cy="1150.2" r="4.3" fill="#ff0000"/>
<circle cx="1773.5" cy="1150.2" r="4.3" fill="#ff0000"/>
<circle cx="1780.5" cy="1150.2" r="4.3" fill="#ff0000"/>
<circle cx="1786.5" cy="1150.2" r="4.3" fill="#ff0000"/>
<circle cx="1792.5" cy="1150.2" r="4.3" fill="#ff0000"/>
<circle cx="1798.5" cy="1150.2" r="4.3" fill="#ff0000"/>
<circle cx="1804.5" cy="1150.2" r="4.3" fill="#ff0000"/>
<circle cx="1810.5" cy="1150.2" r="4.3" fill="#ff0000"/>
<circle cx="1816.5" cy="1150.2" r="4.3" fill="#00ff00"/>
<circle cx="1822.5" cy="1150.2" r="4.3" fill="#00ff00"/>
<circle cx="1828.5" cy="1150.2" r="4.3" fill="#00ff00"/>
<circle cx="1834.5" cy="1150.2" r="4.3" fill="#00ff00"/>
<circle cx="1841.5" cy="1150.2" r="4.3" fill="#ff0000"/>
<circle cx="1847.5" cy="1150.2" r="4.3" fill="#ff0000"/>
<circle cx="1853.5" cy="1150.2" r="4.3" fill="#ff0000"/>
<circle cx="1859.5" cy="1150.2" r="4.3" fill="#ff0000"/>
<circle cx="578.5" cy="1150.2" r="2.2" fill="#ff0000"/>
<circle cx="584.5" cy="1150.2" r="2.2" fill="#ff0000"/>
<circle cx="590.5" cy="1150.2" r="2.2" fill="#ff0000"/>
<circle cx="596.5" cy="1150.2" r="2.2" fill="#ff0000"/>
<circle cx="602.5" cy="1150.2" r="2.2" fill="#ff0000"/>
<circle cx="608.5" cy="1150.2" r="2.2" fill="#ff0000"/>
<circle cx="614.5" cy="1150.2" r="2.2" fill="#ff0000"/>
<circle cx="621.5" cy="1150.2" r="2.2" fill="#ff0000"/>
<circle cx="694.5" cy="1150.2" r="2.2" fill="#ff0000"/>
<circle cx="700.5" cy="1150.2" r="2.2" fill="#ff0000"/>
<circle cx="706.5" cy="1150.2" r="2.2" fill="#ff0000"/>
<circle cx="712.5" cy="1150.2" r="2.2" fill="#ff0000"/>
<circle cx="718.5" cy="1150.2" r="2.2" fill="#ff0000"/>
<circle cx="724.5" cy="1150.2" r="2.2" fill="#ff0000"/>
<circle cx="755.5" cy="1150.2" r="2.2" fill="#ff0000"/>
<circle cx="761.5" cy="1150.2" r="2.2" fill="#ff0000"/>
<circle cx="767.5" cy="1150.2" r="2.2" fill="#ff0000"/>
<circle cx="1005.5" cy="1150.2" r="2.2" fill="#ff0000"/>
<circle cx="1011.5" cy="1150.2" r="2.2" fill="#ff0000"/>
<circle cx="1017.5" cy="1150.2" r="2.2" fill="#ff0000"/>
<circle cx="1023.5" cy="1150.2" r="2.2" fill="#ff0000"/>
<circle cx="1029.5" cy="1150.2" r="2.2" fill="#ff0000"/>
<circle cx="1035.5" cy="1150.2" r="2.2" fill="#ff0000"/>
<circle cx="1066.5" cy="1150.2" r="2.2" fill="#ff0000"/>
<circle cx="1072.5" cy="1150.2" r="2.2" fill="#ff0000"/>
<circle cx="1078.5" cy="1150.2" r="2.2" fill="#ff0000"/>
<circle cx="1084.5" cy="1150.2" r="2.2" fill="#ff0000"/>
<circle cx="1090.5" cy="1150.2" r="2.2" fill="#ff0000"/>
<circle cx="1096.5" cy="1150.2" r="2.2" fill="#ff0000"/>
<circle cx="1346.5" cy="1150.2" r="2.2" fill="#00ff00"/>
<circle cx="1353.5" cy="1150.2" r="2.2" fill="#00ff00"/>
<circle cx="1359.5" cy="1150.2" r="2.2" fill="#00ff00"/>
<circle cx="1377.5" cy="1150.2" r="2.2" fill="#00ff00"/>
<circle cx="1383.5" cy="1150.2" r="2.2" fill="#00ff00"/>
<circle cx="1389.5" cy="1150.2" r="2.2" fill="#00ff00"/>
<circle cx="1462.5" cy="1150.2" r="2.2" fill="#ff0000"/>
<circle cx="1468.5" cy="1150.2" r="2.2" fill="#ff0000"/>
<circle cx="1475.5" cy="1150.2" r="2.2" fill="#ff0000"/>
<circle cx="1481.5" cy="1150.2" r="2.2" fill="#ff0000"/>
<circle cx="1487.5" cy="1150.2" r="2.2" fill="#ff0000"/>
<circle cx="1493.5" cy="1150.2" r="2.2" fill="#ff0000"/>
<circle cx="1597.5" cy="1150.2" r="2.2" fill="#ff0000"/>
<circle cx="1603.5" cy="1150.2" r="2.2" fill="#ff0000"/>
<circle cx="1609.5" cy="1150.2" r="2.2" fill="#ff0000"/>
<circle cx="1615.5" cy="1150.2" r="2.2" fill="#ff0000"/>
<circle cx="1700.5" cy="1150.2" r="2.2" fill="#00ff00"/>
<circle cx="1859.5" cy="1150.2" r="2.2" fill="#00ff00"/>
<circle cx="11.5" cy="1161.7" r="4.3" fill="#00ff00"/>
<circle cx="17.5" cy="1161.7" r="4.3" fill="#00ff00"/>
<circle cx="23.5" cy="1161.7" r="4.3" fill="#00ff00"/>
<circle cx="29.5" cy="1161.7" r="4.3" fill="#00ff00"/>
<circle cx="35.5" cy="1161.7" r="4.3" fill="#00ff00"/>
<circle cx="41.5" cy="1161.7" r="4.3" fill="#00ff00"/>
<circle cx="47.5" cy="1161.7" r="4.3" fill="#00ff00"/>
<circle cx="53.5" cy="1161.7" r="4.3" fill="#00ff00"/>
<circle cx="59.5" cy="1161.7" r="4.3" fill="#00ff00"/>
<circle cx="66.5" cy="1161.7" r="4.3" fill="#00ff00"/>
<circle cx="72.5" cy="1161.7" r="4.3" fill="#00ff00"/>
<circle cx="78.5" cy="1161.7" r="4.3" fill="#00ff00"/>
<circle cx="84.5" cy="1161.7" r="4.3" fill="#ff0000"/>
<circle cx="90.5" cy="1161.7" r="4.3" fill="#ff0000"/>
<circle cx="96.5" cy="1161.7" r="4.3" fill="#ff0000"/>
<circle cx="102.5" cy="1161.7" r="4.3" fill="#ff0000"/>
<circle cx="108.5" cy="1161.7" r="4.3" fill="#ff0000"/>
<circle cx="114.5" cy="1161.7" r="4.3" fill="#ff0000"/>
<circle cx="120.5" cy="1161.7" r="4.3" fill="#ff0000"/>
<circle cx="127.5" cy="1161.7" r="4.3" fill="#ff0000"/>
<circle cx="133.5" cy="1161.7" r="4.3" fill="#ff0000"/>
<circle cx="139.5" cy="1161.7" r="4.3" fill="#ff0000"/>
<circle cx="145.5" cy="1161.7" r="4.3" fill="#ff0000"/>
<circle cx="151.5" cy="1161.7" r="4.3" fill="#ff0000"/>
<circle cx="157.5" cy="1161.7" r="4.3" fill="#ff0000"/>
<circle cx="163.5" cy="1161.7" r="4.3" fill="#ff0000"/>
<circle cx="169.5" cy="1161.7" r="4.3" fill="#ff0000"/>
<circle cx="175.5" cy="1161.7" r="4.3" fill="#ff0000"/>
<circle cx="181.5" cy="1161.7" r="4.3" fill="#ff0000"/>
<circle cx="188.5" cy="1161.7" r="4.3" fill="#ff0000"/>
<circle cx="194.5" cy="1161.7" r="4.3" fill="#ff0000"/>
<circle cx="200.5" cy="1161.7" r="4.3" fill="#ff0000"/>
<circle cx="206.5" cy="1161.7" r="4.3" fill="#ff0000"/>
<circle cx="212.5" cy="1161.7" r="4.3" fill="#00ff00"/>
<circle cx="218.5" cy="1161.7" r="4.3" fill="#00ff00"/>
<circle cx="224.5" cy="1161.7" r="4.3" fill="#00ff00"/>
<circle cx="230.5" cy="1161.7" r="4.3" fill="#00ff00"/>
<circle cx="236.5" cy="1161.7" r="4.3" fill="#00ff00"/>
<circle cx="242.5" cy="1161.7" r="4.3" fill="#ff0000"/>
<circle cx="249.5" cy="1161.7" r="4.3" fill="#ff0000"/>
<circle cx="255.5" cy="1161.7" r="4.3" fill="#ff0000"/>
<circle cx="261.5" cy="1161.7" r="4.3" fill="#ff0000"/>
<circle cx="267.5" cy="1161.7" r="4.3" fill="#ff0000"/>
<circle cx="273.5" cy="1161.7" r="4.3" fill="#00ff00"/>
<circle cx="279.5" cy="1161.7" r="4.3" fill="#00ff00"/>
<circle cx="285.5" cy="1161.7" r="4.3" fill="#00ff00"/>
<circle cx="291.5" cy="1161.7" r="4.3" fill="#00ff00"/>
<circle cx="297.5" cy="1161.7" r="4.3" fill="#00ff00"/>
<circle cx="303.5" cy="1161.7" r="4.3" fill="#00ff00"/>
<circle cx="310.5" cy="1161.7" r="4.3" fill="#00ff00"/>
<circle cx="316.5" cy="1161.7" r="4.3" fill="#00ff00"/>
<circle cx="322.5" cy="1161.7" r="4.3" fill="#ff0000"/>
<circle cx="328.5" cy="1161.7" r="4.3" fill="#ff0000"/>
<circle cx="334.5" cy="1161.7" r="4.3" fill="#00ff00"/>
<circle cx="340.5" cy="1161.7" r="4.3" fill="#ff0000"/>
<circle cx="346.5" cy="1161.7" r="4.3" fill="#ff0000"/>
<circle cx="352.5" cy="1161.7" r="4.3" fill="#ff0000"/>
<circle cx="358.5" cy="1161.7" r="4.3" fill="#ff0000"/>
<circle cx="364.5" cy="1161.7" r="4.3" fill="#ff0000"/>
<circle cx="371.5" cy="1161.7" r="4.3" fill="#ff0000"/>
<circle cx="377.5" cy="1161.7" r="4.3" fill="#ff0000"/>
<circle cx="383.5" cy="1161.7" r="4.3" fill="#ff0000"/>
<circle cx="389.5" cy="1161.7" r="4.3" fill="#ff0000"/>
<circle cx="395.5" cy="1161.7" r="4.3" fill="#00ff00"/>
<circle cx="401.5" cy="1161.7" r="4.3" fill="#00ff00"/>
<circle cx="407.5" cy="1161.7" r="4.3" fill="#00ff00"/>
<circle cx="413.5" cy="1161.7" r="4.3" fill="#00ff00"/>
<circle cx="419.5" cy="1161.7" r="4.3" fill="#00ff00"/>
<circle cx="425.5" cy="1161.7" r="4.3" fill="#00ff00"/>
<circle cx="431.5" cy="1161.7" r="4.3" fill="#00ff00"/>
<circle cx="438.5" cy="1161.7" r="4.3" fill="#00ff00"/>
<circle cx="444.5" cy="1161.7" r="4.3" fill="#00ff00"/>
<circle cx="450.5" cy="1161.7" r="4.3" fill="#00ff00"/>
<circle cx="456.5" cy="1161.7" r="4.3" fill="#00ff00"/>
<circle cx="462.5" cy="1161.7" r="4.3" fill="#00ff00"/>
<circle cx="468.5" cy="1161.7" r="4.3" fill="#00ff00"/>
<circle cx="474.5" cy="1161.7" r="4.3" fill="#00ff00"/>
<circle cx="480.5" cy="1161.7" r="4.3" fill="#00ff00"/>
<circle cx="486.5" cy="1161.7" r="4.3" fill="#ff0000"/>
<circle cx="492.5" cy="1161.7" r="4.3" fill="#ff0000"/>
<circle cx="499.5" cy="1161.7" r="4.3" fill="#ff0000"/>
<circle cx="505.5" cy="1161.7" r="4.3" fill="#ff0000"/>
<circle cx="511.5" cy="1161.7" r="4.3" fill="#ff0000"/>
<circle cx="517.5" cy="1161.7" r="4.3" fill="#ff0000"/>
<circle cx="523.5" cy="1161.7" r="4.3" fill="#ff0000"/>
<circle cx="529.5" cy="1161.7" r="4.3" fill="#00ff00"/>
<circle cx="535.5" cy="1161.7" r="4.3" fill="#00ff00"/>
<circle cx="541.5" cy="1161.7" r="4.3" fill="#00ff00"/>
<circle cx="547.5" cy="1161.7" r="4.3" fill="#00ff00"/>
<circle cx="553.5" cy="1161.7" r="4.3" fill="#00ff00"/>
<circle cx="560.5" cy="1161.7" r="4.3" fill="#00ff00"/>
<circle cx="566.5" cy="1161.7" r="4.3" fill="#00ff00"/>
<circle cx="572.5" cy="1161.7" r="4.3" fill="#00ff00"/>
<circle cx="578.5" cy="1161.7" r="4.3" fill="#00ff00"/>
<circle cx="584.5" cy="1161.7" r="4.3" fill="#00ff00"/>
<circle cx="590.5" cy="1161.7" r="4.3" fill="#00ff00"/>
<circle cx="596.5" cy="1161.7" r="4.3" fill="#00ff00"/>
<circle cx="602.5" cy="1161.7" r="4.3" fill="#00ff00"/>
<circle cx="608.5" cy="1161.7" r="4.3" fill="#00ff00"/>
<circle cx="614.5" cy="1161.7" r="4.3" fill="#00ff00"/>
<circle cx="621.5" cy="1161.7" r="4.3" fill="#00ff00"/>
<circle cx="627.5" cy="1161.7" r="4.3" fill="#00ff00"/>
<circle cx="633.5" cy="1161.7" r="4.3" fill="#00ff00"/>
<circle cx="639.5" cy="1161.7" r="4.3" fill="#00ff00"/>
<circle cx="645.5" cy="1161.7" r="4.3" fill="#00ff00"/>
<circle cx="651.5" cy="1161.7" r="4.3" fill="#00ff00"/>
<circle cx="657.5" cy="1161.7" r="4.3" fill="#00ff00"/>
<circle cx="663.5" cy="1161.7" r="4.3" fill="#ff0000"/>
<circle cx="669.5" cy="1161.7" r="4.3" fill="#ff0000"/>
<circle cx="675.5" cy="1161.7" r="4.3" fill="#ff0000"/>
<circle cx="682.5" cy="1161.7" r="4.3" fill="#ff0000"/>
<circle cx="688.5" cy="1161.7" r="4.3" fill="#ff0000"/>
<circle cx="694.5" cy="1161.7" r="4.3" fill="#00ff00"/>
<circle cx="700.5" cy="1161.7" r="4.3" fill="#00ff00"/>
<circle cx="706.5" cy="1161.7" r="4.3" fill="#ff0000"/>
<circle cx="712.5" cy="1161.7" r="4.3" fill="#ff0000"/>
<circle cx="718.5" cy="1161.7" r="4.3" fill="#ff0000"/>
<circle cx="724.5" cy="1161.7" r="4.3" fill="#ff0000"/>
<circle cx="730.5" cy="1161.7" r="4.3" fill="#ff0000"/>
<circle cx="736.5" cy="1161.7" r="4.3" fill="#ff0000"/>
<circle cx="743.5" cy="1161.7" r="4.3" fill="#00ff00"/>
<circle cx="749.5" cy="1161.7" r="4.3" fill="#00ff00"/>
<circle cx="755.5" cy="1161.7" r="4.3" fill="#00ff00"/>
<circle cx="761.5" cy="1161.7" r="4.3" fill="#00ff00"/>
<circle cx="767.5" cy="1161.7" r="4.3" fill="#00ff00"/>
<circle cx="773.5" cy="1161.7" r="4.3" fill="#ff0000"/>
<circle cx="779.5" cy="1161.7" r="4.3" fill="#ff0000"/>
<circle cx="785.5" cy="1161.7" r="4.3" fill="#ff0000"/>
<circle cx="791.5" cy="1161.7" r="4.3" fill="#ff0000"/>
<circle cx="797.5" cy="1161.7" r="4.3" fill="#ff0000"/>
<circle cx="804.5" cy="1161.7" r="4.3" fill="#ff0000"/>
<circle cx="810.5" cy="1161.7" r="4.3" fill="#ff0000"/>
<circle cx="816.5" cy="1161.7" r="4.3" fill="#ff0000"/>
<circle cx="822.5" cy="1161.7" r="4.3" fill="#ff0000"/>
<circle cx="828.5" cy="1161.7" r="4.3" fill="#ff0000"/>
<circle cx="834.5" cy="1161.7" r="4.3" fill="#ff0000"/>
<circle cx="840.5" cy="1161.7" r="4.3" fill="#ff0000"/>
<circle cx="846.5" cy="1161.7" r="4.3" fill="#ff0000"/>
<circle cx="852.5" cy="1161.7" r="4.3" fill="#ff0000"/>
<circle cx="858.5" cy="1161.7" r="4.3" fill="#ff0000"/>
<circle cx="865.5" cy="1161.7" r="4.3" fill="#ff0000"/>
<circle cx="871.5" cy="1161.7" r="4.3" fill="#ff0000"/>
<circle cx="877.5" cy="1161.7" r="4.3" fill="#ff0000"/>
<circle cx="883.5" cy="1161.7" r="4.3" fill="#ff0000"/>
<circle cx="889.5" cy="1161.7" r="4.3" fill="#ff0000"/>
<circle cx="895.5" cy="1161.7" r="4.3" fill="#ff0000"/>
<circle cx="901.5" cy="1161.7" r="4.3" fill="#00ff00"/>
<circle cx="907.5" cy="1161.7" r="4.3" fill="#00ff00"/>
<circle cx="913.5" cy="1161.7" r="4.3" fill="#00ff00"/>
<circle cx="919.5" cy="1161.7" r="4.3" fill="#00ff00"/>
<circle cx="926.5" cy="1161.7" r="4.3" fill="#00ff00"/>
<circle cx="932.5" cy="1161.7" r="4.3" fill="#00ff00"/>
<circle cx="938.5" cy="1161.7" r="4.3" fill="#00ff00"/>
<circle cx="944.5" cy="1161.7" r="4.3" fill="#00ff00"/>
<circle cx="950.5" cy="1161.7" r="4.3" fill="#ff0000"/>
<circle cx="956.5" cy="1161.7" r="4.3" fill="#ff0000"/>
<circle cx="962.5" cy="1161.7" r="4.3" fill="#ff0000"/>
<circle cx="968.5" cy="1161.7" r="4.3" fill="#ff0000"/>
<circle cx="974.5" cy="1161.7" r="4.3" fill="#ff0000"/>
<circle cx="980.5" cy="1161.7" r="4.3" fill="#ff0000"/>
<circle cx="987.5" cy="1161.7" r="4.3" fill="#00ff00"/>
<circle cx="993.5" cy="1161.7" r="4.3" fill="#00ff00"/>
<circle cx="999.5" cy="1161.7" r="4.3" fill="#00ff00"/>
<circle cx="1005.5" cy="1161.7" r="4.3" fill="#00ff00"/>
<circle cx="1011.5" cy="1161.7" r="4.3" fill="#00ff00"/>
<circle cx="1017.5" cy="1161.7" r="4.3" fill="#00ff00"/>
<circle cx="1023.5" cy="1161.7" r="4.3" fill="#00ff00"/>
<circle cx="1029.5" cy="1161.7" r="4.3" fill="#00ff00"/>
<circle cx="1035.5" cy="1161.7" r="4.3" fill="#00ff00"/>
<circle cx="1041.5" cy="1161.7" r="4.3" fill="#00ff00"/>
<circle cx="1048.5" cy="1161.7" r="4.3" fill="#00ff00"/>
<circle cx="1054.5" cy="1161.7" r="4.3" fill="#00ff00"/>
<circle cx="1060.5" cy="1161.7" r="4.3" fill="#00ff00"/>
<circle cx="1066.5" cy="1161.7" r="4.3" fill="#00ff00"/>
<circle cx="1072.5" cy="1161.7" r="4.3" fill="#00ff00"/>
<circle cx="1078.5" cy="1161.7" r="4.3" fill="#00ff00"/>
<circle cx="1084.5" cy="1161.7" r="4.3" fill="#00ff00"/>
<circle cx="1090.5" cy="1161.7" r="4.3" fill="#00ff00"/>
<circle cx="1096.5" cy="1161.7" r="4.3" fill="#00ff00"/>
<circle cx="1102.5" cy="1161.7" r="4.3" fill="#00ff00"/>
<circle cx="1109.5" cy="1161.7" r="4.3" fill="#ff0000"/>
<circle cx="1115.5" cy="1161.7" r="4.3" fill="#ff0000"/>
<circle cx="1121.5" cy="1161.7" r="4.3" fill="#ff0000"/>
<circle cx="1127.5" cy="1161.7" r="4.3" fill="#ff0000"/>
<circle cx="1133.5" cy="1161.7" r="4.3" fill="#ff0000"/>
<circle cx="1139.5" cy="1161.7" r="4.3" fill="#ff0000"/>
<circle cx="1145.5" cy="1161.7" r="4.3" fill="#ff0000"/>
<circle cx="1151.5" cy="1161.7" r="4.3" fill="#ff0000"/>
<circle cx="1157.5" cy="1161.7" r="4.3" fill="#ff0000"/>
<circle cx="1163.5" cy="1161.7" r="4.3" fill="#ff0000"/>
<circle cx="1170.5" cy="1161.7" r="4.3" fill="#ff0000"/>
<circle cx="1176.5" cy="1161.7" r="4.3" fill="#ff0000"/>
<circle cx="1182.5" cy="1161.7" r="4.3" fill="#ff0000"/>
<circle cx="1188.5" cy="1161.7" r="4.3" fill="#ff0000"/>
<circle cx="1194.5" cy="1161.7" r="4.3" fill="#ff0000"/>
<circle cx="1200.5" cy="1161.7" r="4.3" fill="#ff0000"/>
<circle cx="1206.5" cy="1161.7" r="4.3" fill="#ff0000"/>
<circle cx="1212.5" cy="1161.7" r="4.3" fill="#ff0000"/>
<circle cx="1218.5" cy="1161.7" r="4.3" fill="#ff0000"/>
<circle cx="1224.5" cy="1161.7" r="4.3" fill="#ff0000"/>
<circle cx="1231.5" cy="1161.7" r="4.3" fill="#ff0000"/>
<circle cx="1237.5" cy="1161.7" r="4.3" fill="#ff0000"/>
<circle cx="1243.5" cy="1161.7" r="4.3" fill="#ff0000"/>
<circle cx="1249.5" cy="1161.7" r="4.3" fill="#ff0000"/>
<circle cx="1255.5" cy="1161.7" r="4.3" fill="#ff0000"/>
<circle cx="1261.5" cy="1161.7" r="4.3" fill="#ff0000"/>
<circle cx="1267.5" cy="1161.7" r="4.3" fill="#ff0000"/>
<circle cx="1273.5" cy="1161.7" r="4.3" fill="#00ff00"/>
<circle cx="1279.5" cy="1161.7" r="4.3" fill="#00ff00"/>
<circle cx="1285.5" cy="1161.7" r="4.3" fill="#00ff00"/>
<circle cx="1292.5" cy="1161.7" r="4.3" fill="#00ff00"/>
<circle cx="1298.5" cy="1161.7" r="4.3" fill="#00ff00"/>
<circle cx="1304.5" cy="1161.7" r="4.3" fill="#00ff00"/>
<circle cx="1310.5" cy="1161.7" r="4.3" fill="#00ff00"/>
<circle cx="1316.5" cy="1161.7" r="4.3" fill="#ff0000"/>
<circle cx="1322.5" cy="1161.7" r="4.3" fill="#ff0000"/>
<circle cx="1328.5" cy="1161.7" r="4.3" fill="#ff0000"/>
<circle cx="1334.5" cy="1161.7" r="4.3" fill="#ff0000"/>
<circle cx="1340.5" cy="1161.7" r="4.3" fill="#ff0000"/>
<circle cx="1346.5" cy="1161.7" r="4.3" fill="#ff0000"/>
<circle cx="1353.5" cy="1161.7" r="4.3" fill="#ff0000"/>
<circle cx="1359.5" cy="1161.7" r="4.3" fill="#ff0000"/>
<circle cx="1365.5" cy="1161.7" r="4.3" fill="#ff0000"/>
<circle cx="1371.5" cy="1161.7" r="4.3" fill="#ff0000"/>
<circle cx="1377.5" cy="1161.7" r="4.3" fill="#ff0000"/>
<circle cx="1383.5" cy="1161.7" r="4.3" fill="#ff0000"/>
<circle cx="1389.5" cy="1161.7" r="4.3" fill="#ff0000"/>
<circle cx="1395.5" cy="1161.7" r="4.3" fill="#ff0000"/>
<circle cx="1401.5" cy="1161.7" r="4.3" fill="#ff0000"/>
<circle cx="1407.5" cy="1161.7" r="4.3" fill="#ff0000"/>
<circle cx="1414.5" cy="1161.7" r="4.3" fill="#ff0000"/>
<circle cx="1420.5" cy="1161.7" r="4.3" fill="#00ff00"/>
<circle cx="1426.5" cy="1161.7" r="4.3" fill="#00ff00"/>
<circle cx="1432.5" cy="1161.7" r="4.3" fill="#00ff00"/>
<circle cx="1438.5" cy="1161.7" r="4.3" fill="#00ff00"/>
<circle cx="1444.5" cy="1161.7" r="4.3" fill="#00ff00"/>
<circle cx="1450.5" cy="1161.7" r="4.3" fill="#00ff00"/>
<circle cx="1456.5" cy="1161.7" r="4.3" fill="#00ff00"/>
<circle cx="1462.5" cy="1161.7" r="4.3" fill="#00ff00"/>
<circle cx="1468.5" cy="1161.7" r="4.3" fill="#00ff00"/>
<circle cx="1475.5" cy="1161.7" r="4.3" fill="#00ff00"/>
<circle cx="1481.5" cy="1161.7" r="4.3" fill="#00ff00"/>
<circle cx="1487.5" cy="1161.7" r="4.3" fill="#00ff00"/>
<circle cx="1493.5" cy="1161.7" r="4.3" fill="#00ff00"/>
<circle cx="1499.5" cy="1161.7" r="4.3" fill="#00ff00"/>
<circle cx="1505.5" cy="1161.7" r="4.3" fill="#00ff00"/>
<circle cx="1511.5" cy="1161.7" r="4.3" fill="#00ff00"/>
<circle cx="1517.5" cy="1161.7" r="4.3" fill="#00ff00"/>
<circle cx="1523.5" cy="1161.7" r="4.3" fill="#00ff00"/>
<circle cx="1529.5" cy="1161.7" r="4.3" fill="#00ff00"/>
<circle cx="1536.5" cy="1161.7" r="4.3" fill="#ff0000"/>
<circle cx="1542.5" cy="1161.7" r="4.3" fill="#ff0000"/>
<circle cx="1548.5" cy="1161.7" r="4.3" fill="#ff0000"/>
<circle cx="1554.5" cy="1161.7" r="4.3" fill="#ff0000"/>
<circle cx="1560.5" cy="1161.7" r="4.3" fill="#ff0000"/>
<circle cx="1566.5" cy="1161.7" r="4.3" fill="#ff0000"/>
<circle cx="1572.5" cy="1161.7" r="4.3" fill="#ff0000"/>
<circle cx="1578.5" cy="1161.7" r="4.3" fill="#ff0000"/>
<circle cx="1584.5" cy="1161.7" r="4.3" fill="#ff0000"/>
<circle cx="1590.5" cy="1161.7" r="4.3" fill="#00ff00"/>
<circle cx="1597.5" cy="1161.7" r="4.3" fill="#00ff00"/>
<circle cx="1603.5" cy="1161.7" r="4.3" fill="#00ff00"/>
<circle cx="1609.5" cy="1161.7" r="4.3" fill="#00ff00"/>
<circle cx="1615.5" cy="1161.7" r="4.3" fill="#00ff00"/>
<circle cx="1621.5" cy="1161.7" r="4.3" fill="#00ff00"/>
<circle cx="1627.5" cy="1161.7" r="4.3" fill="#00ff00"/>
<circle cx="1633.5" cy="1161.7" r="4.3" fill="#00ff00"/>
<circle cx="1639.5" cy="1161.7" r="4.3" fill="#ff0000"/>
<circle cx="1645.5" cy="1161.7" r="4.3" fill="#ff0000"/>
<circle cx="1651.5" cy="1161.7" r="4.3" fill="#ff0000"/>
<circle cx="1658.5" cy="1161.7" r="4.3" fill="#ff0000"/>
<circle cx="1664.5" cy="1161.7" r="4.3" fill="#ff0000"/>
<circle cx="1670.5" cy="1161.7" r="4.3" fill="#ff0000"/>
<circle cx="1676.5" cy="1161.7" r="4.3" fill="#ff0000"/>
<circle cx="1682.5" cy="1161.7" r="4.3" fill="#ff0000"/>
<circle cx="1688.5" cy="1161.7" r="4.3" fill="#ff0000"/>
<circle cx="1694.5" cy="1161.7" r="4.3" fill="#ff0000"/>
<circle cx="1700.5" cy="1161.7" r="4.3" fill="#ff0000"/>
<circle cx="1706.5" cy="1161.7" r="4.3" fill="#ff0000"/>
<circle cx="1712.5" cy="1161.7" r="4.3" fill="#ff0000"/>
<circle cx="1719.5" cy="1161.7" r="4.3" fill="#ff0000"/>
<circle cx="1725.5" cy="1161.7" r="4.3" fill="#ff0000"/>
<circle cx="1731.5" cy="1161.7" r="4.3" fill="#00ff00"/>
<circle cx="1737.5" cy="1161.7" r="4.3" fill="#00ff00"/>
<circle cx="1743.5" cy="1161.7" r="4.3" fill="#00ff00"/>
<circle cx="1749.5" cy="1161.7" r="4.3" fill="#00ff00"/>
<circle cx="1755.5" cy="1161.7" r="4.3" fill="#00ff00"/>
<circle cx="1761.5" cy="1161.7" r="4.3" fill="#00ff00"/>
<circle cx="1767.5" cy="1161.7" r="4.3" fill="#00ff00"/>
<circle cx="1773.5" cy="1161.7" r="4.3" fill="#00ff00"/>
<circle cx="1780.5" cy="1161.7" r="4.3" fill="#00ff00"/>
<circle cx="1786.5" cy="1161.7" r="4.3" fill="#00ff00"/>
<circle cx="1792.5" cy="1161.7" r="4.3" fill="#00ff00"/>
<circle cx="1798.5" cy="1161.7" r="4.3" fill="#ff0000"/>
<circle cx="1804.5" cy="1161.7" r="4.3" fill="#ff0000"/>
<circle cx="1810.5" cy="1161.7" r="4.3" fill="#ff0000"/>
<circle cx="1816.5" cy="1161.7" r="4.3" fill="#ff0000"/>
<circle cx="1822.5" cy="1161.7" r="4.3" fill="#ff0000"/>
<circle cx="1828.5" cy="1161.7" r="4.3" fill="#ff0000"/>
<circle cx="1834.5" cy="1161.7" r="4.3" fill="#ff0000"/>
<circle cx="1841.5" cy="1161.7" r="4.3" fill="#ff0000"/>
<circle cx="1847.5" cy="1161.7" r="4.3" fill="#ff0000"/>
<circle cx="1853.5" cy="1161.7" r="4.3" fill="#ff0000"/>
<circle cx="1859.5" cy="1161.7" r="4.3" fill="#ff0000"/>
<circle cx="596.5" cy="1161.7" r="2.2" fill="#ff0000"/>
<circle cx="602.5" cy="1161.7" r="2.2" fill="#ff0000"/>
<circle cx="608.5" cy="1161.7" r="2.2" fill="#ff0000"/>
<circle cx="614.5" cy="1161.7" r="2.2" fill="#ff0000"/>
<circle cx="621.5" cy="1161.7" r="2.2" fill="#ff0000"/>
<circle cx="627.5" cy="1161.7" r="2.2" fill="#ff0000"/>
<circle cx="633.5" cy="1161.7" r="2.2" fill="#ff0000"/>
<circle cx="639.5" cy="1161.7" r="2.2" fill="#ff0000"/>
<circle cx="645.5" cy="1161.7" r="2.2" fill="#ff0000"/>
<circle cx="651.5" cy="1161.7" r="2.2" fill="#ff0000"/>
<circle cx="657.5" cy="1161.7" r="2.2" fill="#ff0000"/>
<circle cx="694.5" cy="1161.7" r="2.2" fill="#ff0000"/>
<circle cx="700.5" cy="1161.7" r="2.2" fill="#ff0000"/>
<circle cx="743.5" cy="1161.7" r="2.2" fill="#ff0000"/>
<circle cx="749.5" cy="1161.7" r="2.2" fill="#ff0000"/>
<circle cx="755.5" cy="1161.7" r="2.2" fill="#ff0000"/>
<circle cx="761.5" cy="1161.7" r="2.2" fill="#ff0000"/>
<circle cx="767.5" cy="1161.7" r="2.2" fill="#ff0000"/>
<circle cx="1060.5" cy="1161.7" r="2.2" fill="#ff0000"/>
<circle cx="1066.5" cy="1161.7" r="2.2" fill="#ff0000"/>
<circle cx="1072.5" cy="1161.7" r="2.2" fill="#ff0000"/>
<circle cx="1078.5" cy="1161.7" r="2.2" fill="#ff0000"/>
<circle cx="1084.5" cy="1161.7" r="2.2" fill="#ff0000"/>
<circle cx="1090.5" cy="1161.7" r="2.2" fill="#ff0000"/>
<circle cx="1096.5" cy="1161.7" r="2.2" fill="#ff0000"/>
<circle cx="1102.5" cy="1161.7" r="2.2" fill="#ff0000"/>
<circle cx="1377.5" cy="1161.7" r="2.2" fill="#00ff00"/>
<circle cx="1383.5" cy="1161.7" r="2.2" fill="#00ff00"/>
<circle cx="1389.5" cy="1161.7" r="2.2" fill="#00ff00"/>
<circle cx="1395.5" cy="1161.7" r="2.2" fill="#00ff00"/>
<circle cx="1401.5" cy="1161.7" r="2.2" fill="#00ff00"/>
<circle cx="1407.5" cy="1161.7" r="2.2" fill="#00ff00"/>
<circle cx="1414.5" cy="1161.7" r="2.2" fill="#00ff00"/>
<circle cx="1511.5" cy="1161.7" r="2.2" fill="#ff0000"/>
<circle cx="1517.5" cy="1161.7" r="2.2" fill="#ff0000"/>
<circle cx="1847.5" cy="1161.7" r="2.2" fill="#00ff00"/>
<circle cx="1853.5" cy="1161.7" r="2.2" fill="#00ff00"/>
<circle cx="1859.5" cy="1161.7" r="2.2" fill="#00ff00"/>
</g>
<rect x="492.8" y="736.2" width="1773.2" height="36.7" fill="#f57c00" fill-opacity="0.2"/>
<line x1="1730" y1="437" x2="2380" y2="437" stroke="#8c8c8c" stroke-width="1.8"/>
<path d="M10.8 538.4C13.0 537.9 17.7 537.4 23.9 535.5C30.1 533.6 41.0 529.0 47.8 527.1C54.6 525.2 59.8 524.8 64.6 524.2C69.4 523.6 72.1 524.1 76.5 523.5C80.9 522.9 86.1 520.8 90.9 520.4C95.7 520.0 100.5 520.6 105.3 521.1C110.1 521.6 114.4 522.1 119.6 523.5C124.8 524.9 130.4 528.4 136.4 529.5C142.4 530.6 149.5 530.3 155.5 530.2C161.5 530.1 166.2 529.1 172.2 529.0C178.2 528.9 185.8 529.6 191.4 529.5C197.0 529.4 201.7 528.9 205.7 528.3C209.7 527.7 211.7 526.4 215.3 525.9C218.9 525.4 223.3 524.8 227.3 525.2C231.3 525.6 234.8 526.6 239.2 528.3C243.6 530.0 249.2 533.2 253.6 535.5C258.0 537.8 261.9 541.0 265.5 542.2C269.1 543.4 271.5 542.1 275.1 542.7C278.7 543.3 283.1 544.8 287.1 545.8C291.1 546.8 295.2 547.2 299.0 548.6C302.8 550.0 305.4 550.5 310.0 554.1C314.6 557.7 319.9 564.3 326.4 570.0C332.8 575.7 341.7 582.5 348.7 588.5C355.7 594.5 360.2 599.2 368.4 605.8C376.6 612.4 389.5 622.3 398.1 628.1C406.8 633.9 412.9 636.0 420.3 640.5C427.7 645.0 435.6 650.8 442.6 655.3C449.6 659.8 455.8 663.9 462.4 667.6C469.0 671.3 476.0 673.4 482.2 677.5C488.4 681.6 493.7 687.9 499.5 692.4C505.3 696.9 513.4 702.5 516.8 704.7C520.2 706.9 517.5 704.2 520.0 705.6C522.5 707.0 527.7 710.9 531.5 713.3C535.3 715.7 538.5 718.1 543.0 720.0C547.5 721.9 553.2 724.1 558.3 724.8C563.4 725.5 568.8 725.0 573.6 724.4C578.4 723.8 582.2 722.5 587.0 721.3C591.8 720.1 597.5 718.2 602.3 717.1C607.1 716.0 611.6 715.9 615.7 714.8C619.9 713.7 623.2 712.6 627.2 710.4C631.2 708.2 635.1 704.4 639.6 701.4C644.1 698.4 649.0 695.0 654.0 692.2C659.0 689.4 664.5 687.5 669.3 684.6C674.1 681.7 677.3 679.5 682.7 675.0C688.1 670.5 695.4 663.2 701.8 657.8C708.2 652.4 714.3 647.5 721.0 642.5C727.7 637.5 735.5 633.6 742.0 628.1C748.5 622.6 754.0 615.8 760.0 609.4C766.0 603.0 772.0 595.9 777.7 590.0C783.4 584.1 788.1 580.1 794.0 573.9C799.9 567.7 807.4 559.1 813.1 552.9C818.8 546.7 823.3 541.5 828.4 536.6C833.5 531.7 838.6 527.4 843.7 523.2C848.8 519.1 854.5 515.0 859.0 511.7C863.5 508.3 866.7 506.3 870.5 503.1C874.3 499.9 878.5 496.0 882.0 492.6C885.5 489.2 888.4 485.8 891.6 483.0C894.8 480.2 897.0 478.4 901.4 476.0C905.8 473.6 912.3 471.2 918.3 468.9C924.3 466.6 931.0 464.0 937.4 462.0C943.8 460.0 950.2 459.0 956.6 456.8C963.0 454.6 969.7 451.2 975.7 448.8C981.8 446.4 986.9 443.9 992.9 442.5C998.9 441.1 1005.4 441.2 1011.5 440.2C1017.6 439.2 1023.8 437.7 1029.3 436.7C1034.8 435.7 1039.5 435.1 1044.6 434.1C1049.7 433.2 1055.2 432.3 1059.9 431.0C1064.6 429.7 1068.3 427.8 1073.0 426.2C1077.7 424.6 1083.2 423.2 1088.3 421.4C1093.4 419.6 1098.2 417.3 1103.6 415.3C1109.0 413.3 1115.4 411.6 1120.8 409.3C1126.2 407.0 1131.0 403.9 1136.1 401.3C1141.2 398.7 1146.0 396.2 1151.4 393.6C1156.8 391.1 1162.6 388.7 1168.7 386.0C1174.8 383.3 1182.5 379.1 1187.8 377.4C1193.1 375.7 1196.4 376.8 1200.6 376.0C1204.8 375.2 1208.1 373.9 1212.7 372.6C1217.3 371.3 1222.6 369.9 1228.0 368.2C1233.4 366.4 1239.8 364.4 1245.2 362.1C1250.6 359.8 1255.7 357.3 1260.5 354.4C1265.3 351.5 1270.7 346.8 1273.9 344.8C1277.1 342.8 1276.4 343.7 1279.6 342.5C1282.8 341.3 1288.2 339.3 1293.0 337.7C1297.8 336.1 1303.2 334.4 1308.3 333.0C1313.4 331.6 1318.8 330.6 1323.6 329.5C1328.4 328.4 1332.2 327.0 1337.0 326.3C1341.8 325.6 1347.5 325.5 1352.3 325.1C1357.1 324.7 1361.5 323.9 1365.7 323.8C1369.9 323.7 1373.2 323.7 1377.2 324.4C1381.2 325.1 1385.1 326.8 1389.6 328.0C1394.1 329.2 1399.0 330.2 1404.0 331.4C1409.0 332.6 1413.6 333.8 1419.3 335.3C1425.0 336.8 1432.7 339.3 1438.4 340.4C1444.1 341.5 1448.3 341.5 1453.7 342.0C1459.1 342.5 1464.9 343.0 1471.0 343.5C1477.1 344.0 1483.3 344.4 1490.1 344.8C1496.8 345.2 1505.4 345.5 1511.5 345.7C1517.6 345.9 1521.2 345.6 1526.6 346.1C1532.0 346.6 1538.4 348.1 1543.8 348.9C1549.2 349.7 1553.5 350.6 1558.9 351.0C1564.3 351.4 1570.3 351.7 1576.1 351.5C1581.8 351.3 1587.7 350.8 1593.4 350.0C1599.2 349.2 1605.6 347.5 1610.6 346.7C1615.6 345.9 1618.5 345.2 1623.5 345.0C1628.5 344.8 1635.0 345.5 1640.7 345.7C1646.5 345.9 1651.5 345.6 1658.0 346.3C1664.5 347.0 1673.0 349.2 1679.5 349.8C1686.0 350.4 1690.6 350.0 1696.7 350.0C1702.8 350.0 1711.2 350.2 1716.1 349.8C1721.0 349.4 1722.2 348.0 1726.0 347.6C1729.8 347.2 1734.5 347.5 1738.8 347.6C1743.1 347.8 1747.9 348.2 1751.7 348.5C1755.5 348.8 1758.4 348.8 1761.4 349.4C1764.5 349.9 1766.1 350.4 1770.0 351.8C1773.9 353.2 1780.1 356.1 1784.7 358.1C1789.3 360.2 1793.8 362.3 1797.5 364.1C1801.2 365.9 1802.7 366.9 1806.7 368.7C1810.7 370.4 1816.5 372.5 1821.4 374.6C1826.3 376.7 1831.1 379.0 1836.0 381.5C1840.9 384.0 1845.9 386.9 1850.7 389.8C1855.5 392.7 1862.6 397.1 1865.0 398.6" fill="none" stroke="#2962ff" stroke-width="1.1" stroke-linejoin="round" clip-path="url(#p1)"/>
<g clip-path="url(#p1)" shape-rendering="crispEdges">
<rect x="11" y="453" width="1" height="7" fill="#089981"/>
<rect x="11" y="463" width="1" height="22" fill="#089981"/>
<rect x="9.5" y="460.5" width="4" height="3" fill="none" stroke="#089981" stroke-width="1"/>
<rect x="17" y="436" width="1" height="82" fill="#f23645"/>
<rect x="15" y="459" width="5" height="39" fill="#f23645"/>
<rect x="23" y="401" width="1" height="85" fill="#089981"/>
<rect x="23" y="497" width="1" height="22" fill="#089981"/>
<rect x="21.5" y="486.5" width="4" height="11" fill="none" stroke="#089981" stroke-width="1"/>
<rect x="29" y="425" width="1" height="13" fill="#089981"/>
<rect x="29" y="486" width="1" height="26" fill="#089981"/>
<rect x="27.5" y="438.5" width="4" height="48" fill="none" stroke="#089981" stroke-width="1"/>
<rect x="35" y="435" width="1" height="39" fill="#f23645"/>
<rect x="33" y="438" width="5" height="31" fill="#f23645"/>
<rect x="41" y="430" width="1" height="35" fill="#089981"/>
<rect x="41" y="468" width="1" height="30" fill="#089981"/>
<rect x="39.5" y="465.5" width="4" height="3" fill="none" stroke="#089981" stroke-width="1"/>
<rect x="47" y="426" width="1" height="28" fill="#089981"/>
<rect x="47" y="465" width="1" height="14" fill="#089981"/>
<rect x="45.5" y="454.5" width="4" height="11" fill="none" stroke="#089981" stroke-width="1"/>
<rect x="53" y="448" width="1" height="15" fill="#f23645"/>
<rect x="51" y="453" width="5" height="3" fill="#f23645"/>
<rect x="59" y="446" width="1" height="35" fill="#f23645"/>
<rect x="57" y="455" width="5" height="26" fill="#f23645"/>
<rect x="66" y="473" width="1" height="68" fill="#f23645"/>
<rect x="64" y="481" width="5" height="6" fill="#f23645"/>
<rect x="72" y="467" width="1" height="42" fill="#f23645"/>
<rect x="70" y="487" width="5" height="9" fill="#f23645"/>
<rect x="78" y="454" width="1" height="13" fill="#089981"/>
<rect x="76.5" y="467.5" width="4" height="29" fill="none" stroke="#089981" stroke-width="1"/>
<rect x="84" y="435" width="1" height="20" fill="#089981"/>
<rect x="84" y="467" width="1" height="4" fill="#089981"/>
<rect x="82.5" y="455.5" width="4" height="12" fill="none" stroke="#089981" stroke-width="1"/>
<rect x="90" y="439" width="1" height="54" fill="#f23645"/>
<rect x="88" y="455" width="5" height="29" fill="#f23645"/>
<rect x="96" y="478" width="1" height="30" fill="#f23645"/>
<rect x="94" y="483" width="5" height="22" fill="#f23645"/>
<rect x="102" y="494" width="1" height="67" fill="#f23645"/>
<rect x="100" y="505" width="5" height="38" fill="#f23645"/>
<rect x="108" y="481" width="1" height="13" fill="#089981"/>
<rect x="108" y="542" width="1" height="84" fill="#089981"/>
<rect x="106.5" y="494.5" width="4" height="48" fill="none" stroke="#089981" stroke-width="1"/>
<rect x="114" y="490" width="1" height="71" fill="#f23645"/>
<rect x="112" y="494" width="5" height="47" fill="#f23645"/>
<rect x="120" y="522" width="1" height="39" fill="#f23645"/>
<rect x="118" y="540" width="5" height="16" fill="#f23645"/>
<rect x="127" y="523" width="1" height="44" fill="#f23645"/>
<rect x="125" y="555" width="5" height="1" fill="#f23645"/>
<rect x="133" y="509" width="1" height="58" fill="#f23645"/>
<rect x="131" y="556" width="5" height="1" fill="#f23645"/>
<rect x="139" y="551" width="1" height="16" fill="#f23645"/>
<rect x="137" y="556" width="5" height="1" fill="#f23645"/>
<rect x="145" y="546" width="1" height="33" fill="#f23645"/>
<rect x="143" y="557" width="5" height="1" fill="#f23645"/>
<rect x="151" y="533" width="1" height="11" fill="#089981"/>
<rect x="151" y="557" width="1" height="16" fill="#089981"/>
<rect x="149.5" y="544.5" width="4" height="13" fill="none" stroke="#089981" stroke-width="1"/>
<rect x="157" y="529" width="1" height="48" fill="#f23645"/>
<rect x="155" y="544" width="5" height="22" fill="#f23645"/>
<rect x="163" y="536" width="1" height="3" fill="#089981"/>
<rect x="163" y="566" width="1" height="21" fill="#089981"/>
<rect x="161.5" y="539.5" width="4" height="27" fill="none" stroke="#089981" stroke-width="1"/>
<rect x="169" y="536" width="1" height="37" fill="#f23645"/>
<rect x="167" y="539" width="5" height="16" fill="#f23645"/>
<rect x="175" y="526" width="1" height="18" fill="#089981"/>
<rect x="175" y="555" width="1" height="5" fill="#089981"/>
<rect x="173.5" y="544.5" width="4" height="11" fill="none" stroke="#089981" stroke-width="1"/>
<rect x="181" y="537" width="1" height="6" fill="#089981"/>
<rect x="181" y="545" width="1" height="2" fill="#089981"/>
<rect x="179.5" y="543.5" width="4" height="2" fill="none" stroke="#089981" stroke-width="1"/>
<rect x="188" y="541" width="1" height="20" fill="#f23645"/>
<rect x="186" y="543" width="5" height="18" fill="#f23645"/>
<rect x="194" y="549" width="1" height="24" fill="#f23645"/>
<rect x="192" y="561" width="5" height="6" fill="#f23645"/>
<rect x="200" y="554" width="1" height="44" fill="#f23645"/>
<rect x="198" y="566" width="5" height="2" fill="#f23645"/>
<rect x="206" y="552" width="1" height="3" fill="#089981"/>
<rect x="206" y="568" width="1" height="8" fill="#089981"/>
<rect x="204.5" y="555.5" width="4" height="13" fill="none" stroke="#089981" stroke-width="1"/>
<rect x="212" y="528" width="1" height="6" fill="#089981"/>
<rect x="212" y="555" width="1" height="2" fill="#089981"/>
<rect x="210.5" y="534.5" width="4" height="21" fill="none" stroke="#089981" stroke-width="1"/>
<rect x="218" y="518" width="1" height="62" fill="#f23645"/>
<rect x="216" y="533" width="5" height="29" fill="#f23645"/>
<rect x="224" y="550" width="1" height="6" fill="#089981"/>
<rect x="224" y="562" width="1" height="4" fill="#089981"/>
<rect x="222.5" y="556.5" width="4" height="6" fill="none" stroke="#089981" stroke-width="1"/>
<rect x="230" y="554" width="1" height="19" fill="#f23645"/>
<rect x="228" y="556" width="5" height="5" fill="#f23645"/>
<rect x="236" y="556" width="1" height="68" fill="#f23645"/>
<rect x="234" y="560" width="5" height="63" fill="#f23645"/>
<rect x="242" y="608" width="1" height="94" fill="#f23645"/>
<rect x="240" y="622" width="5" height="41" fill="#f23645"/>
<rect x="249" y="653" width="1" height="104" fill="#f23645"/>
<rect x="247" y="663" width="5" height="64" fill="#f23645"/>
<rect x="255" y="685" width="1" height="34" fill="#089981"/>
<rect x="255" y="727" width="1" height="23" fill="#089981"/>
<rect x="253.5" y="719.5" width="4" height="8" fill="none" stroke="#089981" stroke-width="1"/>
<rect x="261" y="712" width="1" height="105" fill="#f23645"/>
<rect x="259" y="719" width="5" height="6" fill="#f23645"/>
<rect x="267" y="692" width="1" height="7" fill="#089981"/>
<rect x="267" y="725" width="1" height="7" fill="#089981"/>
<rect x="265.5" y="699.5" width="4" height="26" fill="none" stroke="#089981" stroke-width="1"/>
<rect x="273" y="574" width="1" height="13" fill="#089981"/>
<rect x="273" y="699" width="1" height="14" fill="#089981"/>
<rect x="271.5" y="587.5" width="4" height="112" fill="none" stroke="#089981" stroke-width="1"/>
<rect x="279" y="584" width="1" height="129" fill="#f23645"/>
<rect x="277" y="587" width="5" height="111" fill="#f23645"/>
<rect x="285" y="657" width="1" height="24" fill="#089981"/>
<rect x="285" y="697" width="1" height="70" fill="#089981"/>
<rect x="283.5" y="681.5" width="4" height="16" fill="none" stroke="#089981" stroke-width="1"/>
<rect x="291" y="629" width="1" height="6" fill="#089981"/>
<rect x="291" y="681" width="1" height="14" fill="#089981"/>
<rect x="289.5" y="635.5" width="4" height="46" fill="none" stroke="#089981" stroke-width="1"/>
<rect x="297" y="605" width="1" height="69" fill="#f23645"/>
<rect x="295" y="635" width="5" height="9" fill="#f23645"/>
<rect x="303" y="625" width="1" height="95" fill="#f23645"/>
<rect x="301" y="644" width="5" height="45" fill="#f23645"/>
<rect x="310" y="687" width="1" height="24" fill="#f23645"/>
<rect x="308" y="689" width="5" height="8" fill="#f23645"/>
<rect x="316" y="692" width="1" height="97" fill="#f23645"/>
<rect x="314" y="696" width="5" height="83" fill="#f23645"/>
<rect x="322" y="728" width="1" height="102" fill="#f23645"/>
<rect x="320" y="778" width="5" height="35" fill="#f23645"/>
<rect x="328" y="734" width="1" height="12" fill="#089981"/>
<rect x="328" y="812" width="1" height="32" fill="#089981"/>
<rect x="326.5" y="746.5" width="4" height="66" fill="none" stroke="#089981" stroke-width="1"/>
<rect x="334" y="722" width="1" height="12" fill="#089981"/>
<rect x="334" y="745" width="1" height="35" fill="#089981"/>
<rect x="332.5" y="734.5" width="4" height="11" fill="none" stroke="#089981" stroke-width="1"/>
<rect x="340" y="724" width="1" height="67" fill="#f23645"/>
<rect x="338" y="734" width="5" height="39" fill="#f23645"/>
<rect x="346" y="709" width="1" height="20" fill="#089981"/>
<rect x="346" y="773" width="1" height="7" fill="#089981"/>
<rect x="344.5" y="729.5" width="4" height="44" fill="none" stroke="#089981" stroke-width="1"/>
<rect x="352" y="718" width="1" height="6" fill="#089981"/>
<rect x="352" y="729" width="1" height="5" fill="#089981"/>
<rect x="350.5" y="724.5" width="4" height="5" fill="none" stroke="#089981" stroke-width="1"/>
<rect x="358" y="712" width="1" height="47" fill="#f23645"/>
<rect x="356" y="724" width="5" height="27" fill="#f23645"/>
<rect x="364" y="717" width="1" height="11" fill="#089981"/>
<rect x="364" y="751" width="1" height="1" fill="#089981"/>
<rect x="362.5" y="728.5" width="4" height="23" fill="none" stroke="#089981" stroke-width="1"/>
<rect x="371" y="728" width="1" height="44" fill="#f23645"/>
<rect x="369" y="728" width="5" height="20" fill="#f23645"/>
<rect x="377" y="684" width="1" height="3" fill="#089981"/>
<rect x="377" y="748" width="1" height="2" fill="#089981"/>
<rect x="375.5" y="687.5" width="4" height="61" fill="none" stroke="#089981" stroke-width="1"/>
<rect x="383" y="678" width="1" height="56" fill="#f23645"/>
<rect x="381" y="687" width="5" height="40" fill="#f23645"/>
<rect x="389" y="717" width="1" height="25" fill="#f23645"/>
<rect x="387" y="726" width="5" height="2" fill="#f23645"/>
<rect x="395" y="722" width="1" height="11" fill="#f23645"/>
<rect x="393" y="728" width="5" height="4" fill="#f23645"/>
<rect x="401" y="697" width="1" height="1" fill="#089981"/>
<rect x="399.5" y="698.5" width="4" height="34" fill="none" stroke="#089981" stroke-width="1"/>
<rect x="407" y="660" width="1" height="18" fill="#089981"/>
<rect x="407" y="698" width="1" height="7" fill="#089981"/>
<rect x="405.5" y="678.5" width="4" height="20" fill="none" stroke="#089981" stroke-width="1"/>
<rect x="413" y="663" width="1" height="32" fill="#f23645"/>
<rect x="411" y="678" width="5" height="2" fill="#f23645"/>
<rect x="419" y="667" width="1" height="34" fill="#f23645"/>
<rect x="417" y="679" width="5" height="7" fill="#f23645"/>
<rect x="425" y="674" width="1" height="8" fill="#089981"/>
<rect x="425" y="686" width="1" height="16" fill="#089981"/>
<rect x="423.5" y="682.5" width="4" height="4" fill="none" stroke="#089981" stroke-width="1"/>
<rect x="431" y="678" width="1" height="56" fill="#f23645"/>
<rect x="429" y="682" width="5" height="42" fill="#f23645"/>
<rect x="438" y="720" width="1" height="44" fill="#f23645"/>
<rect x="436" y="723" width="5" height="27" fill="#f23645"/>
<rect x="444" y="736" width="1" height="29" fill="#f23645"/>
<rect x="442" y="749" width="5" height="5" fill="#f23645"/>
<rect x="450" y="730" width="1" height="21" fill="#089981"/>
<rect x="450" y="753" width="1" height="17" fill="#089981"/>
<rect x="448.5" y="751.5" width="4" height="2" fill="none" stroke="#089981" stroke-width="1"/>
<rect x="456" y="706" width="1" height="5" fill="#089981"/>
<rect x="456" y="750" width="1" height="2" fill="#089981"/>
<rect x="454.5" y="711.5" width="4" height="39" fill="none" stroke="#089981" stroke-width="1"/>
<rect x="462" y="663" width="1" height="91" fill="#f23645"/>
<rect x="460" y="711" width="5" height="41" fill="#f23645"/>
<rect x="468" y="729" width="1" height="12" fill="#089981"/>
<rect x="468" y="752" width="1" height="19" fill="#089981"/>
<rect x="466.5" y="741.5" width="4" height="11" fill="none" stroke="#089981" stroke-width="1"/>
<rect x="474" y="718" width="1" height="13" fill="#089981"/>
<rect x="474" y="741" width="1" height="23" fill="#089981"/>
<rect x="472.5" y="731.5" width="4" height="10" fill="none" stroke="#089981" stroke-width="1"/>
<rect x="480" y="725" width="1" height="27" fill="#f23645"/>
<rect x="478" y="731" width="5" height="5" fill="#f23645"/>
<rect x="486" y="732" width="1" height="103" fill="#f23645"/>
<rect x="484" y="736" width="5" height="79" fill="#f23645"/>
<rect x="492" y="770" width="1" height="32" fill="#089981"/>
<rect x="492" y="815" width="1" height="64" fill="#089981"/>
<rect x="490.5" y="802.5" width="4" height="13" fill="none" stroke="#089981" stroke-width="1"/>
<rect x="499" y="776" width="1" height="74" fill="#f23645"/>
<rect x="497" y="802" width="5" height="47" fill="#f23645"/>
<rect x="505" y="735" width="1" height="15" fill="#089981"/>
<rect x="505" y="849" width="1" height="26" fill="#089981"/>
<rect x="503.5" y="750.5" width="4" height="99" fill="none" stroke="#089981" stroke-width="1"/>
<rect x="511" y="747" width="1" height="67" fill="#f23645"/>
<rect x="509" y="749" width="5" height="47" fill="#f23645"/>
<rect x="517" y="724" width="1" height="15" fill="#089981"/>
<rect x="517" y="796" width="1" height="10" fill="#089981"/>
<rect x="515.5" y="739.5" width="4" height="57" fill="none" stroke="#089981" stroke-width="1"/>
<rect x="523" y="701" width="1" height="9" fill="#089981"/>
<rect x="523" y="738" width="1" height="9" fill="#089981"/>
<rect x="521.5" y="710.5" width="4" height="28" fill="none" stroke="#089981" stroke-width="1"/>
<rect x="529" y="698" width="1" height="45" fill="#f23645"/>
<rect x="527" y="710" width="5" height="22" fill="#f23645"/>
<rect x="535" y="702" width="1" height="18" fill="#089981"/>
<rect x="535" y="732" width="1" height="2" fill="#089981"/>
<rect x="533.5" y="720.5" width="4" height="12" fill="none" stroke="#089981" stroke-width="1"/>
<rect x="541" y="692" width="1" height="43" fill="#f23645"/>
<rect x="539" y="720" width="5" height="14" fill="#f23645"/>
<rect x="547" y="706" width="1" height="23" fill="#089981"/>
<rect x="547" y="734" width="1" height="8" fill="#089981"/>
<rect x="545.5" y="729.5" width="4" height="5" fill="none" stroke="#089981" stroke-width="1"/>
<rect x="553" y="707" width="1" height="8" fill="#089981"/>
<rect x="553" y="728" width="1" height="4" fill="#089981"/>
<rect x="551.5" y="715.5" width="4" height="13" fill="none" stroke="#089981" stroke-width="1"/>
<rect x="560" y="712" width="1" height="12" fill="#f23645"/>
<rect x="558" y="714" width="5" height="9" fill="#f23645"/>
<rect x="566" y="705" width="1" height="8" fill="#089981"/>
<rect x="564.5" y="713.5" width="4" height="9" fill="none" stroke="#089981" stroke-width="1"/>
<rect x="572" y="709" width="1" height="2" fill="#089981"/>
<rect x="572" y="713" width="1" height="16" fill="#089981"/>
<rect x="570.5" y="711.5" width="4" height="2" fill="none" stroke="#089981" stroke-width="1"/>
<rect x="578" y="663" width="1" height="15" fill="#089981"/>
<rect x="576.5" y="678.5" width="4" height="33" fill="none" stroke="#089981" stroke-width="1"/>
<rect x="584" y="590" width="1" height="7" fill="#089981"/>
<rect x="584" y="678" width="1" height="6" fill="#089981"/>
<rect x="582.5" y="597.5" width="4" height="81" fill="none" stroke="#089981" stroke-width="1"/>
<rect x="590" y="580" width="1" height="13" fill="#089981"/>
<rect x="590" y="597" width="1" height="20" fill="#089981"/>
<rect x="588.5" y="593.5" width="4" height="4" fill="none" stroke="#089981" stroke-width="1"/>
<rect x="596" y="588" width="1" height="1" fill="#089981"/>
<rect x="596" y="593" width="1" height="27" fill="#089981"/>
<rect x="594.5" y="589.5" width="4" height="4" fill="none" stroke="#089981" stroke-width="1"/>
<rect x="602" y="563" width="1" height="17" fill="#089981"/>
<rect x="602" y="589" width="1" height="15" fill="#089981"/>
<rect x="600.5" y="580.5" width="4" height="9" fill="none" stroke="#089981" stroke-width="1"/>
<rect x="608" y="572" width="1" height="17" fill="#f23645"/>
<rect x="606" y="580" width="5" height="1" fill="#f23645"/>
<rect x="614" y="571" width="1" height="23" fill="#f23645"/>
<rect x="612" y="580" width="5" height="13" fill="#f23645"/>
<rect x="621" y="567" width="1" height="9" fill="#089981"/>
<rect x="621" y="593" width="1" height="11" fill="#089981"/>
<rect x="619.5" y="576.5" width="4" height="17" fill="none" stroke="#089981" stroke-width="1"/>
<rect x="627" y="569" width="1" height="23" fill="#f23645"/>
<rect x="625" y="576" width="5" height="11" fill="#f23645"/>
<rect x="633" y="573" width="1" height="31" fill="#f23645"/>
<rect x="631" y="586" width="5" height="2" fill="#f23645"/>
<rect x="639" y="543" width="1" height="13" fill="#089981"/>
<rect x="637.5" y="556.5" width="4" height="31" fill="none" stroke="#089981" stroke-width="1"/>
<rect x="645" y="538" width="1" height="14" fill="#089981"/>
<rect x="645" y="556" width="1" height="2" fill="#089981"/>
<rect x="643.5" y="552.5" width="4" height="4" fill="none" stroke="#089981" stroke-width="1"/>
<rect x="651" y="550" width="1" height="16" fill="#f23645"/>
<rect x="649" y="551" width="5" height="15" fill="#f23645"/>
<rect x="657" y="559" width="1" height="28" fill="#f23645"/>
<rect x="655" y="565" width="5" height="21" fill="#f23645"/>
<rect x="663" y="573" width="1" height="7" fill="#089981"/>
<rect x="663" y="586" width="1" height="10" fill="#089981"/>
<rect x="661.5" y="580.5" width="4" height="6" fill="none" stroke="#089981" stroke-width="1"/>
<rect x="669" y="551" width="1" height="2" fill="#089981"/>
<rect x="669" y="580" width="1" height="18" fill="#089981"/>
<rect x="667.5" y="553.5" width="4" height="27" fill="none" stroke="#089981" stroke-width="1"/>
<rect x="675" y="541" width="1" height="9" fill="#089981"/>
<rect x="675" y="553" width="1" height="13" fill="#089981"/>
<rect x="673.5" y="550.5" width="4" height="3" fill="none" stroke="#089981" stroke-width="1"/>
<rect x="682" y="462" width="1" height="11" fill="#089981"/>
<rect x="682" y="550" width="1" height="2" fill="#089981"/>
<rect x="680.5" y="473.5" width="4" height="77" fill="none" stroke="#089981" stroke-width="1"/>
<rect x="688" y="460" width="1" height="24" fill="#f23645"/>
<rect x="686" y="473" width="5" height="4" fill="#f23645"/>
<rect x="694" y="452" width="1" height="2" fill="#089981"/>
<rect x="694" y="477" width="1" height="1" fill="#089981"/>
<rect x="692.5" y="454.5" width="4" height="23" fill="none" stroke="#089981" stroke-width="1"/>
<rect x="700" y="452" width="1" height="19" fill="#f23645"/>
<rect x="698" y="454" width="5" height="9" fill="#f23645"/>
<rect x="706" y="443" width="1" height="61" fill="#f23645"/>
<rect x="704" y="462" width="5" height="17" fill="#f23645"/>
<rect x="712" y="451" width="1" height="11" fill="#089981"/>
<rect x="712" y="478" width="1" height="16" fill="#089981"/>
<rect x="710.5" y="462.5" width="4" height="16" fill="none" stroke="#089981" stroke-width="1"/>
<rect x="718" y="459" width="1" height="22" fill="#f23645"/>
<rect x="716" y="462" width="5" height="8" fill="#f23645"/>
<rect x="724" y="461" width="1" height="5" fill="#089981"/>
<rect x="724" y="469" width="1" height="25" fill="#089981"/>
<rect x="722.5" y="466.5" width="4" height="3" fill="none" stroke="#089981" stroke-width="1"/>
<rect x="730" y="456" width="1" height="18" fill="#f23645"/>
<rect x="728" y="466" width="5" height="5" fill="#f23645"/>
<rect x="736" y="467" width="1" height="13" fill="#f23645"/>
<rect x="734" y="470" width="5" height="5" fill="#f23645"/>
<rect x="743" y="432" width="1" height="3" fill="#089981"/>
<rect x="741.5" y="435.5" width="4" height="40" fill="none" stroke="#089981" stroke-width="1"/>
<rect x="749" y="427" width="1" height="60" fill="#f23645"/>
<rect x="747" y="434" width="5" height="12" fill="#f23645"/>
<rect x="755" y="424" width="1" height="6" fill="#089981"/>
<rect x="755" y="445" width="1" height="16" fill="#089981"/>
<rect x="753.5" y="430.5" width="4" height="15" fill="none" stroke="#089981" stroke-width="1"/>
<rect x="761" y="385" width="1" height="13" fill="#089981"/>
<rect x="761" y="430" width="1" height="9" fill="#089981"/>
<rect x="759.5" y="398.5" width="4" height="32" fill="none" stroke="#089981" stroke-width="1"/>
<rect x="767" y="372" width="1" height="3" fill="#089981"/>
<rect x="767" y="398" width="1" height="5" fill="#089981"/>
<rect x="765.5" y="375.5" width="4" height="23" fill="none" stroke="#089981" stroke-width="1"/>
<rect x="773" y="374" width="1" height="57" fill="#f23645"/>
<rect x="771" y="375" width="5" height="51" fill="#f23645"/>
<rect x="779" y="400" width="1" height="19" fill="#089981"/>
<rect x="779" y="425" width="1" height="5" fill="#089981"/>
<rect x="777.5" y="419.5" width="4" height="6" fill="none" stroke="#089981" stroke-width="1"/>
<rect x="785" y="401" width="1" height="5" fill="#089981"/>
<rect x="785" y="419" width="1" height="14" fill="#089981"/>
<rect x="783.5" y="406.5" width="4" height="13" fill="none" stroke="#089981" stroke-width="1"/>
<rect x="791" y="389" width="1" height="12" fill="#089981"/>
<rect x="791" y="406" width="1" height="2" fill="#089981"/>
<rect x="789.5" y="401.5" width="4" height="5" fill="none" stroke="#089981" stroke-width="1"/>
<rect x="797" y="385" width="1" height="37" fill="#f23645"/>
<rect x="795" y="400" width="5" height="7" fill="#f23645"/>
<rect x="804" y="402" width="1" height="29" fill="#f23645"/>
<rect x="802" y="406" width="5" height="13" fill="#f23645"/>
<rect x="810" y="406" width="1" height="42" fill="#f23645"/>
<rect x="808" y="419" width="5" height="27" fill="#f23645"/>
<rect x="816" y="436" width="1" height="32" fill="#f23645"/>
<rect x="814" y="445" width="5" height="19" fill="#f23645"/>
<rect x="822" y="452" width="1" height="4" fill="#089981"/>
<rect x="822" y="463" width="1" height="11" fill="#089981"/>
<rect x="820.5" y="456.5" width="4" height="7" fill="none" stroke="#089981" stroke-width="1"/>
<rect x="828" y="441" width="1" height="3" fill="#089981"/>
<rect x="828" y="456" width="1" height="10" fill="#089981"/>
<rect x="826.5" y="444.5" width="4" height="12" fill="none" stroke="#089981" stroke-width="1"/>
<rect x="834" y="440" width="1" height="2" fill="#089981"/>
<rect x="834" y="444" width="1" height="24" fill="#089981"/>
<rect x="832.5" y="442.5" width="4" height="2" fill="none" stroke="#089981" stroke-width="1"/>
<rect x="840" y="430" width="1" height="22" fill="#f23645"/>
<rect x="838" y="441" width="5" height="7" fill="#f23645"/>
<rect x="846" y="439" width="1" height="22" fill="#f23645"/>
<rect x="844" y="447" width="5" height="8" fill="#f23645"/>
<rect x="852" y="440" width="1" height="68" fill="#f23645"/>
<rect x="850" y="455" width="5" height="39" fill="#f23645"/>
<rect x="858" y="447" width="1" height="13" fill="#089981"/>
<rect x="858" y="493" width="1" height="5" fill="#089981"/>
<rect x="856.5" y="460.5" width="4" height="33" fill="none" stroke="#089981" stroke-width="1"/>
<rect x="865" y="440" width="1" height="5" fill="#089981"/>
<rect x="865" y="459" width="1" height="5" fill="#089981"/>
<rect x="863.5" y="445.5" width="4" height="14" fill="none" stroke="#089981" stroke-width="1"/>
<rect x="871" y="434" width="1" height="10" fill="#089981"/>
<rect x="871" y="445" width="1" height="6" fill="#089981"/>
<rect x="869.5" y="444.5" width="4" height="1" fill="none" stroke="#089981" stroke-width="1"/>
<rect x="877" y="387" width="1" height="4" fill="#089981"/>
<rect x="877" y="444" width="1" height="4" fill="#089981"/>
<rect x="875.5" y="391.5" width="4" height="53" fill="none" stroke="#089981" stroke-width="1"/>
<rect x="883" y="390" width="1" height="23" fill="#f23645"/>
<rect x="881" y="391" width="5" height="1" fill="#f23645"/>
<rect x="889" y="389" width="1" height="27" fill="#f23645"/>
<rect x="887" y="391" width="5" height="19" fill="#f23645"/>
<rect x="895" y="407" width="1" height="37" fill="#f23645"/>
<rect x="893" y="409" width="5" height="35" fill="#f23645"/>
<rect x="901" y="437" width="1" height="2" fill="#089981"/>
<rect x="901" y="444" width="1" height="35" fill="#089981"/>
<rect x="899.5" y="439.5" width="4" height="5" fill="none" stroke="#089981" stroke-width="1"/>
<rect x="907" y="437" width="1" height="23" fill="#f23645"/>
<rect x="905" y="439" width="5" height="8" fill="#f23645"/>
<rect x="913" y="438" width="1" height="7" fill="#089981"/>
<rect x="913" y="447" width="1" height="11" fill="#089981"/>
<rect x="911.5" y="445.5" width="4" height="2" fill="none" stroke="#089981" stroke-width="1"/>
<rect x="919" y="406" width="1" height="24" fill="#089981"/>
<rect x="919" y="446" width="1" height="6" fill="#089981"/>
<rect x="917.5" y="430.5" width="4" height="16" fill="none" stroke="#089981" stroke-width="1"/>
<rect x="926" y="419" width="1" height="52" fill="#f23645"/>
<rect x="924" y="430" width="5" height="28" fill="#f23645"/>
<rect x="932" y="445" width="1" height="8" fill="#089981"/>
<rect x="932" y="457" width="1" height="13" fill="#089981"/>
<rect x="930.5" y="453.5" width="4" height="4" fill="none" stroke="#089981" stroke-width="1"/>
<rect x="938" y="449" width="1" height="15" fill="#f23645"/>
<rect x="936" y="453" width="5" height="4" fill="#f23645"/>
<rect x="944" y="434" width="1" height="50" fill="#f23645"/>
<rect x="942" y="456" width="5" height="17" fill="#f23645"/>
<rect x="950" y="464" width="1" height="37" fill="#f23645"/>
<rect x="948" y="472" width="5" height="15" fill="#f23645"/>
<rect x="956" y="471" width="1" height="64" fill="#f23645"/>
<rect x="954" y="486" width="5" height="15" fill="#f23645"/>
<rect x="962" y="439" width="1" height="8" fill="#089981"/>
<rect x="962" y="500" width="1" height="16" fill="#089981"/>
<rect x="960.5" y="447.5" width="4" height="53" fill="none" stroke="#089981" stroke-width="1"/>
<rect x="968" y="436" width="1" height="4" fill="#089981"/>
<rect x="968" y="447" width="1" height="9" fill="#089981"/>
<rect x="966.5" y="440.5" width="4" height="7" fill="none" stroke="#089981" stroke-width="1"/>
<rect x="974" y="415" width="1" height="9" fill="#089981"/>
<rect x="974" y="440" width="1" height="2" fill="#089981"/>
<rect x="972.5" y="424.5" width="4" height="16" fill="none" stroke="#089981" stroke-width="1"/>
<rect x="980" y="413" width="1" height="20" fill="#f23645"/>
<rect x="978" y="424" width="5" height="5" fill="#f23645"/>
<rect x="987" y="419" width="1" height="8" fill="#089981"/>
<rect x="987" y="428" width="1" height="7" fill="#089981"/>
<rect x="985.5" y="427.5" width="4" height="1" fill="none" stroke="#089981" stroke-width="1"/>
<rect x="993" y="422" width="1" height="2" fill="#089981"/>
<rect x="993" y="428" width="1" height="2" fill="#089981"/>
<rect x="991.5" y="424.5" width="4" height="4" fill="none" stroke="#089981" stroke-width="1"/>
<rect x="999" y="411" width="1" height="2" fill="#089981"/>
<rect x="999" y="424" width="1" height="2" fill="#089981"/>
<rect x="997.5" y="413.5" width="4" height="11" fill="none" stroke="#089981" stroke-width="1"/>
<rect x="1005" y="408" width="1" height="24" fill="#f23645"/>
<rect x="1003" y="413" width="5" height="15" fill="#f23645"/>
<rect x="1011" y="422" width="1" height="27" fill="#f23645"/>
<rect x="1009" y="427" width="5" height="18" fill="#f23645"/>
<rect x="1017" y="396" width="1" height="11" fill="#089981"/>
<rect x="1017" y="445" width="1" height="5" fill="#089981"/>
<rect x="1015.5" y="407.5" width="4" height="38" fill="none" stroke="#089981" stroke-width="1"/>
<rect x="1023" y="388" width="1" height="10" fill="#089981"/>
<rect x="1023" y="407" width="1" height="3" fill="#089981"/>
<rect x="1021.5" y="398.5" width="4" height="9" fill="none" stroke="#089981" stroke-width="1"/>
<rect x="1029" y="396" width="1" height="29" fill="#f23645"/>
<rect x="1027" y="398" width="5" height="20" fill="#f23645"/>
<rect x="1035" y="412" width="1" height="3" fill="#089981"/>
<rect x="1035" y="418" width="1" height="1" fill="#089981"/>
<rect x="1033.5" y="415.5" width="4" height="3" fill="none" stroke="#089981" stroke-width="1"/>
<rect x="1041" y="397" width="1" height="6" fill="#089981"/>
<rect x="1041" y="414" width="1" height="5" fill="#089981"/>
<rect x="1039.5" y="403.5" width="4" height="11" fill="none" stroke="#089981" stroke-width="1"/>
<rect x="1048" y="397" width="1" height="26" fill="#f23645"/>
<rect x="1046" y="403" width="5" height="12" fill="#f23645"/>
<rect x="1054" y="403" width="1" height="3" fill="#089981"/>
<rect x="1054" y="415" width="1" height="8" fill="#089981"/>
<rect x="1052.5" y="406.5" width="4" height="9" fill="none" stroke="#089981" stroke-width="1"/>
<rect x="1060" y="370" width="1" height="10" fill="#089981"/>
<rect x="1060" y="406" width="1" height="7" fill="#089981"/>
<rect x="1058.5" y="380.5" width="4" height="26" fill="none" stroke="#089981" stroke-width="1"/>
<rect x="1066" y="319" width="1" height="10" fill="#089981"/>
<rect x="1066" y="380" width="1" height="8" fill="#089981"/>
<rect x="1064.5" y="329.5" width="4" height="51" fill="none" stroke="#089981" stroke-width="1"/>
<rect x="1072" y="298" width="1" height="14" fill="#089981"/>
<rect x="1072" y="329" width="1" height="8" fill="#089981"/>
<rect x="1070.5" y="312.5" width="4" height="17" fill="none" stroke="#089981" stroke-width="1"/>
<rect x="1078" y="305" width="1" height="13" fill="#f23645"/>
<rect x="1076" y="312" width="5" height="2" fill="#f23645"/>
<rect x="1084" y="292" width="1" height="3" fill="#089981"/>
<rect x="1084" y="314" width="1" height="1" fill="#089981"/>
<rect x="1082.5" y="295.5" width="4" height="19" fill="none" stroke="#089981" stroke-width="1"/>
<rect x="1090" y="253" width="1" height="35" fill="#089981"/>
<rect x="1090" y="295" width="1" height="2" fill="#089981"/>
<rect x="1088.5" y="288.5" width="4" height="7" fill="none" stroke="#089981" stroke-width="1"/>
<rect x="1096" y="287" width="1" height="45" fill="#f23645"/>
<rect x="1094" y="288" width="5" height="23" fill="#f23645"/>
<rect x="1102" y="285" width="1" height="15" fill="#089981"/>
<rect x="1102" y="311" width="1" height="6" fill="#089981"/>
<rect x="1100.5" y="300.5" width="4" height="11" fill="none" stroke="#089981" stroke-width="1"/>
<rect x="1109" y="276" width="1" height="18" fill="#089981"/>
<rect x="1109" y="300" width="1" height="13" fill="#089981"/>
<rect x="1107.5" y="294.5" width="4" height="6" fill="none" stroke="#089981" stroke-width="1"/>
<rect x="1115" y="277" width="1" height="42" fill="#f23645"/>
<rect x="1113" y="294" width="5" height="14" fill="#f23645"/>
<rect x="1121" y="301" width="1" height="13" fill="#f23645"/>
<rect x="1119" y="307" width="5" height="1" fill="#f23645"/>
<rect x="1127" y="298" width="1" height="25" fill="#f23645"/>
<rect x="1125" y="308" width="5" height="7" fill="#f23645"/>
<rect x="1133" y="289" width="1" height="24" fill="#089981"/>
<rect x="1133" y="314" width="1" height="8" fill="#089981"/>
<rect x="1131.5" y="313.5" width="4" height="1" fill="none" stroke="#089981" stroke-width="1"/>
<rect x="1139" y="283" width="1" height="3" fill="#089981"/>
<rect x="1139" y="313" width="1" height="13" fill="#089981"/>
<rect x="1137.5" y="286.5" width="4" height="27" fill="none" stroke="#089981" stroke-width="1"/>
<rect x="1145" y="285" width="1" height="29" fill="#f23645"/>
<rect x="1143" y="286" width="5" height="14" fill="#f23645"/>
<rect x="1151" y="291" width="1" height="25" fill="#f23645"/>
<rect x="1149" y="299" width="5" height="5" fill="#f23645"/>
<rect x="1157" y="302" width="1" height="40" fill="#f23645"/>
<rect x="1155" y="303" width="5" height="9" fill="#f23645"/>
<rect x="1163" y="303" width="1" height="5" fill="#089981"/>
<rect x="1163" y="312" width="1" height="5" fill="#089981"/>
<rect x="1161.5" y="308.5" width="4" height="4" fill="none" stroke="#089981" stroke-width="1"/>
<rect x="1170" y="288" width="1" height="4" fill="#089981"/>
<rect x="1170" y="308" width="1" height="1" fill="#089981"/>
<rect x="1168.5" y="292.5" width="4" height="16" fill="none" stroke="#089981" stroke-width="1"/>
<rect x="1176" y="288" width="1" height="26" fill="#f23645"/>
<rect x="1174" y="292" width="5" height="15" fill="#f23645"/>
<rect x="1182" y="294" width="1" height="25" fill="#f23645"/>
<rect x="1180" y="306" width="5" height="3" fill="#f23645"/>
<rect x="1188" y="299" width="1" height="32" fill="#f23645"/>
<rect x="1186" y="308" width="5" height="2" fill="#f23645"/>
<rect x="1194" y="298" width="1" height="36" fill="#f23645"/>
<rect x="1192" y="309" width="5" height="23" fill="#f23645"/>
<rect x="1200" y="328" width="1" height="37" fill="#f23645"/>
<rect x="1198" y="331" width="5" height="28" fill="#f23645"/>
<rect x="1206" y="350" width="1" height="22" fill="#f23645"/>
<rect x="1204" y="358" width="5" height="9" fill="#f23645"/>
<rect x="1212" y="341" width="1" height="8" fill="#089981"/>
<rect x="1212" y="366" width="1" height="7" fill="#089981"/>
<rect x="1210.5" y="349.5" width="4" height="17" fill="none" stroke="#089981" stroke-width="1"/>
<rect x="1218" y="331" width="1" height="8" fill="#089981"/>
<rect x="1218" y="348" width="1" height="1" fill="#089981"/>
<rect x="1216.5" y="339.5" width="4" height="9" fill="none" stroke="#089981" stroke-width="1"/>
<rect x="1224" y="338" width="1" height="27" fill="#f23645"/>
<rect x="1222" y="339" width="5" height="11" fill="#f23645"/>
<rect x="1231" y="331" width="1" height="8" fill="#089981"/>
<rect x="1231" y="350" width="1" height="7" fill="#089981"/>
<rect x="1229.5" y="339.5" width="4" height="11" fill="none" stroke="#089981" stroke-width="1"/>
<rect x="1237" y="311" width="1" height="1" fill="#089981"/>
<rect x="1237" y="339" width="1" height="8" fill="#089981"/>
<rect x="1235.5" y="312.5" width="4" height="27" fill="none" stroke="#089981" stroke-width="1"/>
<rect x="1243" y="311" width="1" height="20" fill="#f23645"/>
<rect x="1241" y="312" width="5" height="9" fill="#f23645"/>
<rect x="1249" y="308" width="1" height="17" fill="#f23645"/>
<rect x="1247" y="321" width="5" height="3" fill="#f23645"/>
<rect x="1255" y="293" width="1" height="1" fill="#089981"/>
<rect x="1253.5" y="294.5" width="4" height="30" fill="none" stroke="#089981" stroke-width="1"/>
<rect x="1261" y="263" width="1" height="44" fill="#f23645"/>
<rect x="1259" y="294" width="5" height="7" fill="#f23645"/>
<rect x="1267" y="283" width="1" height="2" fill="#089981"/>
<rect x="1267" y="300" width="1" height="5" fill="#089981"/>
<rect x="1265.5" y="285.5" width="4" height="15" fill="none" stroke="#089981" stroke-width="1"/>
<rect x="1273" y="248" width="1" height="4" fill="#089981"/>
<rect x="1273" y="286" width="1" height="11" fill="#089981"/>
<rect x="1271.5" y="252.5" width="4" height="34" fill="none" stroke="#089981" stroke-width="1"/>
<rect x="1279" y="240" width="1" height="76" fill="#f23645"/>
<rect x="1277" y="252" width="5" height="51" fill="#f23645"/>
<rect x="1285" y="293" width="1" height="26" fill="#f23645"/>
<rect x="1283" y="303" width="5" height="11" fill="#f23645"/>
<rect x="1292" y="307" width="1" height="6" fill="#089981"/>
<rect x="1292" y="314" width="1" height="1" fill="#089981"/>
<rect x="1290.5" y="313.5" width="4" height="1" fill="none" stroke="#089981" stroke-width="1"/>
<rect x="1298" y="301" width="1" height="12" fill="#089981"/>
<rect x="1298" y="314" width="1" height="1" fill="#089981"/>
<rect x="1296.5" y="313.5" width="4" height="1" fill="none" stroke="#089981" stroke-width="1"/>
<rect x="1304" y="311" width="1" height="31" fill="#f23645"/>
<rect x="1302" y="313" width="5" height="13" fill="#f23645"/>
<rect x="1310" y="320" width="1" height="44" fill="#f23645"/>
<rect x="1308" y="325" width="5" height="38" fill="#f23645"/>
<rect x="1316" y="343" width="1" height="5" fill="#089981"/>
<rect x="1316" y="362" width="1" height="6" fill="#089981"/>
<rect x="1314.5" y="348.5" width="4" height="14" fill="none" stroke="#089981" stroke-width="1"/>
<rect x="1322" y="341" width="1" height="31" fill="#f23645"/>
<rect x="1320" y="347" width="5" height="21" fill="#f23645"/>
<rect x="1328" y="313" width="1" height="6" fill="#089981"/>
<rect x="1328" y="367" width="1" height="9" fill="#089981"/>
<rect x="1326.5" y="319.5" width="4" height="48" fill="none" stroke="#089981" stroke-width="1"/>
<rect x="1334" y="318" width="1" height="26" fill="#f23645"/>
<rect x="1332" y="319" width="5" height="16" fill="#f23645"/>
<rect x="1340" y="333" width="1" height="54" fill="#f23645"/>
<rect x="1338" y="335" width="5" height="22" fill="#f23645"/>
<rect x="1346" y="354" width="1" height="48" fill="#f23645"/>
<rect x="1344" y="356" width="5" height="38" fill="#f23645"/>
<rect x="1353" y="367" width="1" height="7" fill="#089981"/>
<rect x="1353" y="394" width="1" height="15" fill="#089981"/>
<rect x="1351.5" y="374.5" width="4" height="20" fill="none" stroke="#089981" stroke-width="1"/>
<rect x="1359" y="364" width="1" height="26" fill="#f23645"/>
<rect x="1357" y="374" width="5" height="7" fill="#f23645"/>
<rect x="1365" y="356" width="1" height="10" fill="#089981"/>
<rect x="1365" y="380" width="1" height="5" fill="#089981"/>
<rect x="1363.5" y="366.5" width="4" height="14" fill="none" stroke="#089981" stroke-width="1"/>
<rect x="1371" y="365" width="1" height="58" fill="#f23645"/>
<rect x="1369" y="366" width="5" height="48" fill="#f23645"/>
<rect x="1377" y="406" width="1" height="3" fill="#089981"/>
<rect x="1377" y="414" width="1" height="10" fill="#089981"/>
<rect x="1375.5" y="409.5" width="4" height="5" fill="none" stroke="#089981" stroke-width="1"/>
<rect x="1383" y="400" width="1" height="16" fill="#f23645"/>
<rect x="1381" y="409" width="5" height="6" fill="#f23645"/>
<rect x="1389" y="395" width="1" height="9" fill="#089981"/>
<rect x="1389" y="414" width="1" height="12" fill="#089981"/>
<rect x="1387.5" y="404.5" width="4" height="10" fill="none" stroke="#089981" stroke-width="1"/>
<rect x="1395" y="374" width="1" height="6" fill="#089981"/>
<rect x="1395" y="403" width="1" height="9" fill="#089981"/>
<rect x="1393.5" y="380.5" width="4" height="23" fill="none" stroke="#089981" stroke-width="1"/>
<rect x="1401" y="365" width="1" height="10" fill="#089981"/>
<rect x="1401" y="380" width="1" height="8" fill="#089981"/>
<rect x="1399.5" y="375.5" width="4" height="5" fill="none" stroke="#089981" stroke-width="1"/>
<rect x="1407" y="369" width="1" height="33" fill="#f23645"/>
<rect x="1405" y="375" width="5" height="12" fill="#f23645"/>
<rect x="1414" y="357" width="1" height="35" fill="#f23645"/>
<rect x="1412" y="386" width="5" height="1" fill="#f23645"/>
<rect x="1420" y="379" width="1" height="15" fill="#f23645"/>
<rect x="1418" y="387" width="5" height="6" fill="#f23645"/>
<rect x="1426" y="376" width="1" height="7" fill="#089981"/>
<rect x="1424.5" y="383.5" width="4" height="10" fill="none" stroke="#089981" stroke-width="1"/>
<rect x="1432" y="362" width="1" height="9" fill="#089981"/>
<rect x="1432" y="383" width="1" height="4" fill="#089981"/>
<rect x="1430.5" y="371.5" width="4" height="12" fill="none" stroke="#089981" stroke-width="1"/>
<rect x="1438" y="358" width="1" height="28" fill="#f23645"/>
<rect x="1436" y="371" width="5" height="7" fill="#f23645"/>
<rect x="1444" y="346" width="1" height="4" fill="#089981"/>
<rect x="1444" y="378" width="1" height="6" fill="#089981"/>
<rect x="1442.5" y="350.5" width="4" height="28" fill="none" stroke="#089981" stroke-width="1"/>
<rect x="1450" y="350" width="1" height="6" fill="#089981"/>
<rect x="1448.5" y="333.5" width="4" height="17" fill="none" stroke="#089981" stroke-width="1"/>
<rect x="1456" y="320" width="1" height="7" fill="#089981"/>
<rect x="1456" y="333" width="1" height="9" fill="#089981"/>
<rect x="1454.5" y="327.5" width="4" height="6" fill="none" stroke="#089981" stroke-width="1"/>
<rect x="1462" y="324" width="1" height="13" fill="#f23645"/>
<rect x="1460" y="327" width="5" height="3" fill="#f23645"/>
<rect x="1468" y="326" width="1" height="11" fill="#f23645"/>
<rect x="1466" y="329" width="5" height="8" fill="#f23645"/>
<rect x="1475" y="320" width="1" height="15" fill="#089981"/>
<rect x="1475" y="336" width="1" height="10" fill="#089981"/>
<rect x="1473.5" y="335.5" width="4" height="1" fill="none" stroke="#089981" stroke-width="1"/>
<rect x="1481" y="318" width="1" height="2" fill="#089981"/>
<rect x="1481" y="335" width="1" height="7" fill="#089981"/>
<rect x="1479.5" y="320.5" width="4" height="15" fill="none" stroke="#089981" stroke-width="1"/>
<rect x="1487" y="314" width="1" height="28" fill="#f23645"/>
<rect x="1485" y="320" width="5" height="4" fill="#f23645"/>
<rect x="1493" y="307" width="1" height="10" fill="#089981"/>
<rect x="1493" y="323" width="1" height="4" fill="#089981"/>
<rect x="1491.5" y="317.5" width="4" height="6" fill="none" stroke="#089981" stroke-width="1"/>
<rect x="1499" y="312" width="1" height="26" fill="#f23645"/>
<rect x="1497" y="317" width="5" height="16" fill="#f23645"/>
<rect x="1505" y="326" width="1" height="5" fill="#089981"/>
<rect x="1505" y="332" width="1" height="2" fill="#089981"/>
<rect x="1503.5" y="331.5" width="4" height="1" fill="none" stroke="#089981" stroke-width="1"/>
<rect x="1511" y="329" width="1" height="8" fill="#f23645"/>
<rect x="1509" y="331" width="5" height="6" fill="#f23645"/>
<rect x="1517" y="334" width="1" height="41" fill="#f23645"/>
<rect x="1515" y="336" width="5" height="29" fill="#f23645"/>
<rect x="1523" y="357" width="1" height="20" fill="#f23645"/>
<rect x="1521" y="364" width="5" height="9" fill="#f23645"/>
<rect x="1529" y="350" width="1" height="8" fill="#089981"/>
<rect x="1529" y="372" width="1" height="10" fill="#089981"/>
<rect x="1527.5" y="358.5" width="4" height="14" fill="none" stroke="#089981" stroke-width="1"/>
<rect x="1536" y="355" width="1" height="55" fill="#f23645"/>
<rect x="1534" y="357" width="5" height="49" fill="#f23645"/>
<rect x="1542" y="390" width="1" height="8" fill="#089981"/>
<rect x="1542" y="406" width="1" height="4" fill="#089981"/>
<rect x="1540.5" y="398.5" width="4" height="8" fill="none" stroke="#089981" stroke-width="1"/>
<rect x="1548" y="396" width="1" height="7" fill="#f23645"/>
<rect x="1546" y="398" width="5" height="1" fill="#f23645"/>
<rect x="1554" y="368" width="1" height="2" fill="#089981"/>
<rect x="1554" y="399" width="1" height="4" fill="#089981"/>
<rect x="1552.5" y="370.5" width="4" height="29" fill="none" stroke="#089981" stroke-width="1"/>
<rect x="1560" y="345" width="1" height="1" fill="#089981"/>
<rect x="1560" y="370" width="1" height="7" fill="#089981"/>
<rect x="1558.5" y="346.5" width="4" height="24" fill="none" stroke="#089981" stroke-width="1"/>
<rect x="1566" y="341" width="1" height="23" fill="#f23645"/>
<rect x="1564" y="346" width="5" height="4" fill="#f23645"/>
<rect x="1570.5" y="300.5" width="4" height="50" fill="none" stroke="#089981" stroke-width="1"/>
<rect x="1578" y="275" width="1" height="5" fill="#089981"/>
<rect x="1578" y="300" width="1" height="4" fill="#089981"/>
<rect x="1576.5" y="280.5" width="4" height="20" fill="none" stroke="#089981" stroke-width="1"/>
<rect x="1584" y="246" width="1" height="17" fill="#089981"/>
<rect x="1584" y="280" width="1" height="13" fill="#089981"/>
<rect x="1582.5" y="263.5" width="4" height="17" fill="none" stroke="#089981" stroke-width="1"/>
<rect x="1590" y="257" width="1" height="4" fill="#089981"/>
<rect x="1590" y="263" width="1" height="7" fill="#089981"/>
<rect x="1588.5" y="261.5" width="4" height="2" fill="none" stroke="#089981" stroke-width="1"/>
<rect x="1597" y="228" width="1" height="23" fill="#089981"/>
<rect x="1597" y="262" width="1" height="2" fill="#089981"/>
<rect x="1595.5" y="251.5" width="4" height="11" fill="none" stroke="#089981" stroke-width="1"/>
<rect x="1603" y="223" width="1" height="16" fill="#089981"/>
<rect x="1603" y="251" width="1" height="4" fill="#089981"/>
<rect x="1601.5" y="239.5" width="4" height="12" fill="none" stroke="#089981" stroke-width="1"/>
<rect x="1609" y="234" width="1" height="46" fill="#f23645"/>
<rect x="1607" y="239" width="5" height="34" fill="#f23645"/>
<rect x="1615" y="243" width="1" height="9" fill="#089981"/>
<rect x="1615" y="273" width="1" height="2" fill="#089981"/>
<rect x="1613.5" y="252.5" width="4" height="21" fill="none" stroke="#089981" stroke-width="1"/>
<rect x="1621" y="248" width="1" height="41" fill="#f23645"/>
<rect x="1619" y="252" width="5" height="17" fill="#f23645"/>
<rect x="1627" y="260" width="1" height="169" fill="#f23645"/>
<rect x="1625" y="269" width="5" height="93" fill="#f23645"/>
<rect x="1633" y="356" width="1" height="42" fill="#f23645"/>
<rect x="1631" y="361" width="5" height="26" fill="#f23645"/>
<rect x="1639" y="330" width="1" height="8" fill="#089981"/>
<rect x="1639" y="387" width="1" height="11" fill="#089981"/>
<rect x="1637.5" y="338.5" width="4" height="49" fill="none" stroke="#089981" stroke-width="1"/>
<rect x="1645" y="328" width="1" height="8" fill="#089981"/>
<rect x="1645" y="339" width="1" height="14" fill="#089981"/>
<rect x="1643.5" y="336.5" width="4" height="3" fill="none" stroke="#089981" stroke-width="1"/>
<rect x="1651" y="334" width="1" height="61" fill="#f23645"/>
<rect x="1649" y="336" width="5" height="25" fill="#f23645"/>
<rect x="1658" y="354" width="1" height="38" fill="#f23645"/>
<rect x="1656" y="360" width="5" height="26" fill="#f23645"/>
<rect x="1664" y="372" width="1" height="51" fill="#f23645"/>
<rect x="1662" y="385" width="5" height="31" fill="#f23645"/>
<rect x="1670" y="402" width="1" height="68" fill="#f23645"/>
<rect x="1668" y="415" width="5" height="21" fill="#f23645"/>
<rect x="1676" y="422" width="1" height="4" fill="#089981"/>
<rect x="1674.5" y="426.5" width="4" height="9" fill="none" stroke="#089981" stroke-width="1"/>
<rect x="1682" y="400" width="1" height="9" fill="#089981"/>
<rect x="1682" y="426" width="1" height="13" fill="#089981"/>
<rect x="1680.5" y="409.5" width="4" height="17" fill="none" stroke="#089981" stroke-width="1"/>
<rect x="1688" y="375" width="1" height="13" fill="#089981"/>
<rect x="1688" y="409" width="1" height="8" fill="#089981"/>
<rect x="1686.5" y="388.5" width="4" height="21" fill="none" stroke="#089981" stroke-width="1"/>
<rect x="1694" y="349" width="1" height="74" fill="#f23645"/>
<rect x="1692" y="388" width="5" height="25" fill="#f23645"/>
<rect x="1700" y="403" width="1" height="30" fill="#f23645"/>
<rect x="1698" y="413" width="5" height="10" fill="#f23645"/>
<rect x="1706" y="379" width="1" height="14" fill="#089981"/>
<rect x="1704.5" y="393.5" width="4" height="29" fill="none" stroke="#089981" stroke-width="1"/>
<rect x="1712" y="370" width="1" height="13" fill="#089981"/>
<rect x="1712" y="393" width="1" height="4" fill="#089981"/>
<rect x="1710.5" y="383.5" width="4" height="10" fill="none" stroke="#089981" stroke-width="1"/>
<rect x="1719" y="372" width="1" height="4" fill="#089981"/>
<rect x="1719" y="383" width="1" height="3" fill="#089981"/>
<rect x="1717.5" y="376.5" width="4" height="7" fill="none" stroke="#089981" stroke-width="1"/>
<rect x="1725" y="333" width="1" height="11" fill="#089981"/>
<rect x="1725" y="376" width="1" height="4" fill="#089981"/>
<rect x="1723.5" y="344.5" width="4" height="32" fill="none" stroke="#089981" stroke-width="1"/>
<rect x="1731" y="324" width="1" height="28" fill="#f23645"/>
<rect x="1729" y="344" width="5" height="5" fill="#f23645"/>
<rect x="1737" y="327" width="1" height="43" fill="#f23645"/>
<rect x="1735" y="349" width="5" height="14" fill="#f23645"/>
<rect x="1743" y="353" width="1" height="53" fill="#f23645"/>
<rect x="1741" y="362" width="5" height="33" fill="#f23645"/>
<rect x="1749" y="376" width="1" height="61" fill="#f23645"/>
<rect x="1747" y="394" width="5" height="20" fill="#f23645"/>
<rect x="1755" y="382" width="1" height="17" fill="#089981"/>
<rect x="1753.5" y="399.5" width="4" height="14" fill="none" stroke="#089981" stroke-width="1"/>
<rect x="1761" y="389" width="1" height="6" fill="#089981"/>
<rect x="1761" y="399" width="1" height="3" fill="#089981"/>
<rect x="1759.5" y="395.5" width="4" height="4" fill="none" stroke="#089981" stroke-width="1"/>
<rect x="1767" y="381" width="1" height="7" fill="#089981"/>
<rect x="1767" y="395" width="1" height="13" fill="#089981"/>
<rect x="1765.5" y="388.5" width="4" height="7" fill="none" stroke="#089981" stroke-width="1"/>
<rect x="1773" y="386" width="1" height="63" fill="#f23645"/>
<rect x="1771" y="388" width="5" height="47" fill="#f23645"/>
<rect x="1780" y="425" width="1" height="101" fill="#f23645"/>
<rect x="1778" y="434" width="5" height="61" fill="#f23645"/>
<rect x="1786" y="457" width="1" height="9" fill="#089981"/>
<rect x="1786" y="494" width="1" height="31" fill="#089981"/>
<rect x="1784.5" y="466.5" width="4" height="28" fill="none" stroke="#089981" stroke-width="1"/>
<rect x="1792" y="461" width="1" height="48" fill="#f23645"/>
<rect x="1790" y="466" width="5" height="31" fill="#f23645"/>
<rect x="1798" y="463" width="1" height="9" fill="#089981"/>
<rect x="1798" y="496" width="1" height="27" fill="#089981"/>
<rect x="1796.5" y="472.5" width="4" height="24" fill="none" stroke="#089981" stroke-width="1"/>
<rect x="1804" y="472" width="1" height="22" fill="#f23645"/>
<rect x="1802" y="472" width="5" height="13" fill="#f23645"/>
<rect x="1810" y="446" width="1" height="10" fill="#089981"/>
<rect x="1810" y="484" width="1" height="10" fill="#089981"/>
<rect x="1808.5" y="456.5" width="4" height="28" fill="none" stroke="#089981" stroke-width="1"/>
<rect x="1816" y="433" width="1" height="7" fill="#089981"/>
<rect x="1816" y="456" width="1" height="5" fill="#089981"/>
<rect x="1814.5" y="440.5" width="4" height="16" fill="none" stroke="#089981" stroke-width="1"/>
<rect x="1822" y="423" width="1" height="60" fill="#f23645"/>
<rect x="1820" y="440" width="5" height="37" fill="#f23645"/>
<rect x="1828" y="448" width="1" height="54" fill="#f23645"/>
<rect x="1826" y="476" width="5" height="16" fill="#f23645"/>
<rect x="1834" y="463" width="1" height="76" fill="#f23645"/>
<rect x="1832" y="492" width="5" height="26" fill="#f23645"/>
<rect x="1841" y="514" width="1" height="76" fill="#f23645"/>
<rect x="1839" y="517" width="5" height="66" fill="#f23645"/>
<rect x="1847" y="553" width="1" height="17" fill="#089981"/>
<rect x="1847" y="583" width="1" height="3" fill="#089981"/>
<rect x="1845.5" y="570.5" width="4" height="13" fill="none" stroke="#089981" stroke-width="1"/>
<rect x="1853" y="556" width="1" height="47" fill="#f23645"/>
<rect x="1851" y="569" width="5" height="19" fill="#f23645"/>
<rect x="1859" y="564" width="1" height="63" fill="#f23645"/>
<rect x="1857" y="587" width="5" height="28" fill="#f23645"/>
<rect x="1865" y="612" width="1" height="42" fill="#f23645"/>
<rect x="1863" y="614" width="5" height="13" fill="#f23645"/>
</g>
<line x1="10.5" y1="627.5" x2="2380" y2="627.5" stroke="#f23645" stroke-width="1" stroke-dasharray="1 2.07"/>
<rect x="10" y="27" width="2455" height="1167" fill="none" stroke="#f3f3f4" stroke-width="2"/>
<line x1="10.5" y1="941.5" x2="2464.5" y2="941.5" stroke="#e0e3eb" stroke-width="1"/>
<line x1="10.5" y1="1031.5" x2="2464.5" y2="1031.5" stroke="#e0e3eb" stroke-width="1"/>
<line x1="10.5" y1="1127.5" x2="2464.5" y2="1127.5" stroke="#e0e3eb" stroke-width="1"/>
<g font-size="13" fill="#131722">
<text x="2389" y="107.2" textLength="65.9" lengthAdjust="spacingAndGlyphs">139.000,00</text>
<text x="2389" y="153.2" textLength="65.9" lengthAdjust="spacingAndGlyphs">134.000,00</text>
<text x="2389" y="200.2" textLength="65.9" lengthAdjust="spacingAndGlyphs">129.000,00</text>
<text x="2389" y="239.2" textLength="65.9" lengthAdjust="spacingAndGlyphs">125.000,00</text>
<text x="2389" y="279.2" textLength="65.9" lengthAdjust="spacingAndGlyphs">121.000,00</text>
<text x="2389" y="321.2" textLength="65.9" lengthAdjust="spacingAndGlyphs">117.000,00</text>
<text x="2389" y="364.2" textLength="65.9" lengthAdjust="spacingAndGlyphs">113.000,00</text>
<text x="2389" y="409.2" textLength="65.9" lengthAdjust="spacingAndGlyphs">109.000,00</text>
<text x="2389" y="455.2" textLength="65.9" lengthAdjust="spacingAndGlyphs">105.000,00</text>
<text x="2389" y="503.2" textLength="65.9" lengthAdjust="spacingAndGlyphs">101.000,00</text>
<text x="2389" y="540.2" textLength="59.3" lengthAdjust="spacingAndGlyphs">98.000,00</text>
<text x="2389" y="579.2" textLength="59.3" lengthAdjust="spacingAndGlyphs">95.000,00</text>
<text x="2389" y="619.2" textLength="59.3" lengthAdjust="spacingAndGlyphs">92.000,00</text>
<text x="2389" y="660.2" textLength="59.3" lengthAdjust="spacingAndGlyphs">89.000,00</text>
<text x="2389" y="702.2" textLength="59.3" lengthAdjust="spacingAndGlyphs">86.000,00</text>
<text x="2389" y="739.2" textLength="59.3" lengthAdjust="spacingAndGlyphs">83.500,00</text>
<text x="2389" y="769.2" textLength="59.3" lengthAdjust="spacingAndGlyphs">81.500,00</text>
<text x="2389" y="800.2" textLength="59.3" lengthAdjust="spacingAndGlyphs">79.500,00</text>
<text x="2389" y="831.2" textLength="59.3" lengthAdjust="spacingAndGlyphs">77.500,00</text>
<text x="2389" y="864.2" textLength="59.3" lengthAdjust="spacingAndGlyphs">75.500,00</text>
<text x="2389" y="897.2" textLength="59.3" lengthAdjust="spacingAndGlyphs">73.500,00</text>
<text x="2389" y="928.2" textLength="59.3" lengthAdjust="spacingAndGlyphs">71.700,00</text>
</g>
<defs><clipPath id="c144"><rect x="2380" y="58.5" width="85" height="20"/></clipPath></defs>
<text x="2389" y="63.2" font-size="13" fill="#131722" clip-path="url(#c144)" textLength="65.9" lengthAdjust="spacingAndGlyphs">144.000,00</text>
<g font-size="13" fill="#131722">
<text x="2389" y="954.2">4,00</text>
<text x="2389" y="990.2">0,00</text>
<text x="2389" y="1026.2">−4,00</text>
<text x="2389" y="1071.2">12,00</text>
<text x="2389" y="1109.2">8,00</text>
<text x="2389" y="1165.2">−2,50</text>
</g>
<defs><clipPath id="c0"><rect x="2380" y="1128" width="85" height="20"/></clipPath></defs>
<text x="2389" y="1135.2" font-size="13" fill="#131722" clip-path="url(#c0)">0,00</text>
<rect x="2383" y="31" width="78.5" height="26.3" rx="4.5" fill="#fff" stroke="#efeff0" stroke-width="1.2"/>
<text x="2392.4" y="49.3" font-size="13" fill="#131722" textLength="24.2" lengthAdjust="spacingAndGlyphs">USD</text>
<path d="M2380 429.1H2458.4a2.5 2.5 0 0 1 2.5 2.5V443.3a2.5 2.5 0 0 1 -2.5 2.5H2380z" fill="#9b9b9b"/>
<text x="2389.1" y="440.8" font-size="13" fill="#000" textLength="66" lengthAdjust="spacingAndGlyphs">106.279,33</text>
<path d="M2380 619H2451.5a2.5 2.5 0 0 1 2.5 2.5V647.4a2.5 2.5 0 0 1 -2.5 2.5H2380z" fill="#f23645"/>
<text x="2388.7" y="631.3" font-size="13" fill="#fff" textLength="58.6" lengthAdjust="spacingAndGlyphs">91.166,06</text>
<text x="2388.9" y="645.1" font-size="13" fill="#fff" fill-opacity="0.82" textLength="50.6" lengthAdjust="spacingAndGlyphs">13:35:17</text>
<g font-size="13" fill="#131722" text-anchor="middle">
<text x="96.5" y="1185.2">Feb</text>
<text x="267.3" y="1185.2">Mrz</text>
<text x="456.4" y="1185.2">Apr</text>
<text x="639.4" y="1185.2">Mai</text>
<text x="828.5" y="1185.2">Jun</text>
<text x="1011.5" y="1185.2">Jul</text>
<text x="1200.6" y="1185.2">Aug</text>
<text x="1389.7" y="1185.2">Sep</text>
<text x="1572.6" y="1185.2">Okt</text>
<text x="1761.7" y="1185.2">Nov</text>
<text x="1944.7" y="1185.2">Dez</text>
<text x="2133.8" y="1185.2" font-weight="bold" textLength="31.5" lengthAdjust="spacingAndGlyphs">2026</text>
<text x="2322.9" y="1185.2">Feb</text>
</g>
<g font-size="13" fill="#131722">
<text x="18.3" y="962.2" textLength="185.3" lengthAdjust="spacingAndGlyphs">Croc 3.0 DNA - Professional (off)</text>
<text x="212.1" y="961.4" font-size="10.2" stroke="#131722" stroke-width="0.25">∅</text>
<text x="227.4" y="961.4" font-size="10.2" stroke="#131722" stroke-width="0.25">∅</text>
<text x="242.8" y="961.4" font-size="10.2" stroke="#131722" stroke-width="0.25">∅</text>
<text x="258.1" y="961.4" font-size="10.2" stroke="#131722" stroke-width="0.25">∅</text>
<text x="273.4" y="961.4" font-size="10.2" stroke="#131722" stroke-width="0.25">∅</text>
<text x="288.8" y="961.4" font-size="10.2" stroke="#131722" stroke-width="0.25">∅</text>
<text x="304.1" y="961.4" font-size="10.2" stroke="#131722" stroke-width="0.25">∅</text>
<text x="319.4" y="961.4" font-size="10.2" stroke="#131722" stroke-width="0.25">∅</text>
<text x="334.7" y="961.4" font-size="10.2" stroke="#131722" stroke-width="0.25">∅</text>
<text x="350.1" y="961.4" font-size="10.2" stroke="#131722" stroke-width="0.25">∅</text>
<text x="365.4" y="961.4" font-size="10.2" stroke="#131722" stroke-width="0.25">∅</text>
<text x="380.7" y="961.4" font-size="10.2" stroke="#131722" stroke-width="0.25">∅</text>
<text x="396.1" y="961.4" font-size="10.2" stroke="#131722" stroke-width="0.25">∅</text>
<text x="411.4" y="961.4" font-size="10.2" stroke="#131722" stroke-width="0.25">∅</text>
<text x="426.7" y="961.4" font-size="10.2" stroke="#131722" stroke-width="0.25">∅</text>
<text x="442.1" y="961.4" font-size="10.2" stroke="#131722" stroke-width="0.25">∅</text>
<text x="457.4" y="961.4" font-size="10.2" stroke="#131722" stroke-width="0.25">∅</text>
<text x="472.7" y="961.4" font-size="10.2" stroke="#131722" stroke-width="0.25">∅</text>
<text x="488.0" y="961.4" font-size="10.2" stroke="#131722" stroke-width="0.25">∅</text>
<text x="504.2" y="962.2" fill="#0000ff" textLength="31.7" lengthAdjust="spacingAndGlyphs">−2,00</text>
<text x="542.8" y="961.4" font-size="10.2" stroke="#131722" stroke-width="0.25">∅</text>
<text x="558.1" y="961.4" font-size="10.2" stroke="#131722" stroke-width="0.25">∅</text>
<text x="573.5" y="961.4" font-size="10.2" stroke="#131722" stroke-width="0.25">∅</text>
<text x="588.8" y="961.4" font-size="10.2" stroke="#131722" stroke-width="0.25">∅</text>
<text x="604.2" y="961.4" font-size="10.2" stroke="#131722" stroke-width="0.25">∅</text>
<text x="619.5" y="961.4" font-size="10.2" stroke="#131722" stroke-width="0.25">∅</text>
<text x="634.8" y="961.4" font-size="10.2" stroke="#131722" stroke-width="0.25">∅</text>
<text x="650.2" y="961.4" font-size="10.2" stroke="#131722" stroke-width="0.25">∅</text>
<text x="665.5" y="961.4" font-size="10.2" stroke="#131722" stroke-width="0.25">∅</text>
<text x="680.9" y="961.4" font-size="10.2" stroke="#131722" stroke-width="0.25">∅</text>
<text x="696.2" y="961.4" font-size="10.2" stroke="#131722" stroke-width="0.25">∅</text>
</g>
<g font-size="13" fill="#131722">
<text x="18.2" y="1052.3" textLength="229" lengthAdjust="spacingAndGlyphs">Croc 3.0 Leuchtstreifen - Professional (off)</text>
<text x="256.1" y="1051.5" font-size="10.2" stroke="#131722" stroke-width="0.25">∅</text>
<text x="271.4" y="1051.5" font-size="10.2" stroke="#131722" stroke-width="0.25">∅</text>
<text x="286.7" y="1051.5" font-size="10.2" stroke="#131722" stroke-width="0.25">∅</text>
<text x="340.7" y="1051.5" font-size="10.2" stroke="#131722" stroke-width="0.25">∅</text>
<text x="356.0" y="1051.5" font-size="10.2" stroke="#131722" stroke-width="0.25">∅</text>
<text x="371.3" y="1051.5" font-size="10.2" stroke="#131722" stroke-width="0.25">∅</text>
<text x="495.7" y="1051.5" font-size="10.2" stroke="#131722" stroke-width="0.25">∅</text>
<text x="511.0" y="1051.5" font-size="10.2" stroke="#131722" stroke-width="0.25">∅</text>
<text x="526.3" y="1051.5" font-size="10.2" stroke="#131722" stroke-width="0.25">∅</text>
<text x="573.5" y="1051.5" font-size="10.2" stroke="#131722" stroke-width="0.25">∅</text>
<text x="620.7" y="1051.5" font-size="10.2" stroke="#131722" stroke-width="0.25">∅</text>
<text x="636.1" y="1051.5" font-size="10.2" stroke="#131722" stroke-width="0.25">∅</text>
<text x="681.7" y="1051.5" font-size="10.2" stroke="#131722" stroke-width="0.25">∅</text>
<text x="696.9" y="1051.5" font-size="10.2" stroke="#131722" stroke-width="0.25">∅</text>
<text x="712.1" y="1051.5" font-size="10.2" stroke="#131722" stroke-width="0.25">∅</text>
<text x="727.3" y="1051.5" font-size="10.2" stroke="#131722" stroke-width="0.25">∅</text>
<text x="775.6" y="1051.5" font-size="10.2" stroke="#131722" stroke-width="0.25">∅</text>
<text x="790.9" y="1051.5" font-size="10.2" stroke="#131722" stroke-width="0.25">∅</text>
<text x="302.5" y="1052.3" fill="#ff0000" textLength="30.5" lengthAdjust="spacingAndGlyphs">14,00</text>
<text x="386.5" y="1052.3" fill="#ff0000" textLength="29.1" lengthAdjust="spacingAndGlyphs">10,50</text>
<text x="425" y="1052.3" fill="#ffff00" textLength="27" lengthAdjust="spacingAndGlyphs">11,50</text>
<text x="459" y="1052.3" fill="#ff0000" textLength="27" lengthAdjust="spacingAndGlyphs">11,50</text>
<text x="541.5" y="1052.3" fill="#ff0000" textLength="23.2" lengthAdjust="spacingAndGlyphs">9,50</text>
<text x="588.7" y="1052.3" fill="#ff0000" textLength="23.3" lengthAdjust="spacingAndGlyphs">8,50</text>
<text x="652" y="1052.3" fill="#ff0000" textLength="21.8" lengthAdjust="spacingAndGlyphs">7,50</text>
<text x="743.4" y="1052.3" fill="#ff0000" textLength="23.8" lengthAdjust="spacingAndGlyphs">6,50</text>
</g>
<g font-size="13" fill="#131722">
<text x="18.5" y="1147.9" textLength="180.6" lengthAdjust="spacingAndGlyphs">Croc 3.0 MSI - Professional (off)</text>
<text x="207.9" y="1147.9" fill="#2962ff" textLength="30.7" lengthAdjust="spacingAndGlyphs">−0,50</text>
<text x="246.1" y="1147.9" fill="#2962ff" textLength="30.7" lengthAdjust="spacingAndGlyphs">−1,50</text>
<text x="284.3" y="1147.9" fill="#2962ff" textLength="30.7" lengthAdjust="spacingAndGlyphs">−2,50</text>
<text x="324.2" y="1147.9" font-size="10.2" stroke="#131722" stroke-width="0.25">∅</text>
<text x="339.5" y="1147.9" font-size="10.2" stroke="#131722" stroke-width="0.25">∅</text>
<text x="354.8" y="1147.9" font-size="10.2" stroke="#131722" stroke-width="0.25">∅</text>
<text x="370.1" y="1147.9" font-size="10.2" stroke="#131722" stroke-width="0.25">∅</text>
<text x="385.4" y="1147.9" font-size="10.2" stroke="#131722" stroke-width="0.25">∅</text>
<text x="400.7" y="1147.9" font-size="10.2" stroke="#131722" stroke-width="0.25">∅</text>
<text x="416.0" y="1147.9" font-size="10.2" stroke="#131722" stroke-width="0.25">∅</text>
<text x="431.3" y="1147.9" font-size="10.2" stroke="#131722" stroke-width="0.25">∅</text>
<text x="446.6" y="1147.9" font-size="10.2" stroke="#131722" stroke-width="0.25">∅</text>
</g>
<g font-size="13" fill="#131722" text-anchor="middle">
<text x="937.7" y="944" textLength="81" lengthAdjust="spacingAndGlyphs" clip-path="url(#p2)">ICE DNA Code</text>
<text x="937.7" y="1041.2" textLength="160" lengthAdjust="spacingAndGlyphs">ICE Trading Deluxe Big Point</text>
<text x="937.4" y="1065.7" textLength="384.6" lengthAdjust="spacingAndGlyphs">Von oben: Status / Kerzenfarbe / Wolkenfarbe / Trend / Setter / Welle</text>
<text x="936.7" y="1130.3" textLength="153.5" lengthAdjust="spacingAndGlyphs" clip-path="url(#p4)">Momentum Status Indikator</text>
</g>
<text x="10.5" y="19.9" font-size="13" fill="#000" textLength="362.2" lengthAdjust="spacingAndGlyphs">MrTight erstellt mit TradingView.com, Nov 18, 2025 11:24 UTC+1</text>
<text x="18.6" y="47" font-size="13" fill="#131722" textLength="167.9" lengthAdjust="spacingAndGlyphs">Bitcoin / Dollar · 1T · Coinbase</text>
<text x="194.2" y="47" font-size="13" fill="#131722" textLength="8.8" lengthAdjust="spacingAndGlyphs">O</text>
<text x="203.6" y="47" font-size="13" fill="#f23645" textLength="55.3" lengthAdjust="spacingAndGlyphs">92.100,60</text>
<text x="266.5" y="47" font-size="13" fill="#131722" textLength="8.2" lengthAdjust="spacingAndGlyphs">H</text>
<text x="275.4" y="47" font-size="13" fill="#f23645" textLength="56.2" lengthAdjust="spacingAndGlyphs">92.247,94</text>
<text x="338.9" y="47" font-size="13" fill="#131722" textLength="6.3" lengthAdjust="spacingAndGlyphs">L</text>
<text x="345.8" y="47" font-size="13" fill="#f23645" textLength="55.9" lengthAdjust="spacingAndGlyphs">89.183,48</text>
<text x="409.7" y="47" font-size="13" fill="#131722" textLength="8.2" lengthAdjust="spacingAndGlyphs">C</text>
<text x="418.2" y="47" font-size="13" fill="#f23645" textLength="54.0" lengthAdjust="spacingAndGlyphs">91.166,06</text>
<text x="479.6" y="47" font-size="13" fill="#f23645" textLength="99.9" lengthAdjust="spacingAndGlyphs">−934,54 (−1,01%)</text>
<text x="18.6" y="64.1" font-size="13" fill="#131722" textLength="88.7" lengthAdjust="spacingAndGlyphs">SMA (52, close)</text>
<text x="115.4" y="64.1" font-size="13" fill="#2962ff" textLength="62.7" lengthAdjust="spacingAndGlyphs">109.585,58</text>
<g fill="#131313"><path d="M12 1216.05H23.85V1230.8H17.85V1221.85H12z"/><circle cx="29.05" cy="1218.9" r="3.05"/><path d="M33.6 1216.05H41.8L35.6 1230.8H29.1z"/></g>
<text x="49.1" y="1230.8" font-size="21.4" font-weight="bold" fill="#131313" textLength="120.7" lengthAdjust="spacingAndGlyphs">TradingView</text>
</svg>
</body></html>
